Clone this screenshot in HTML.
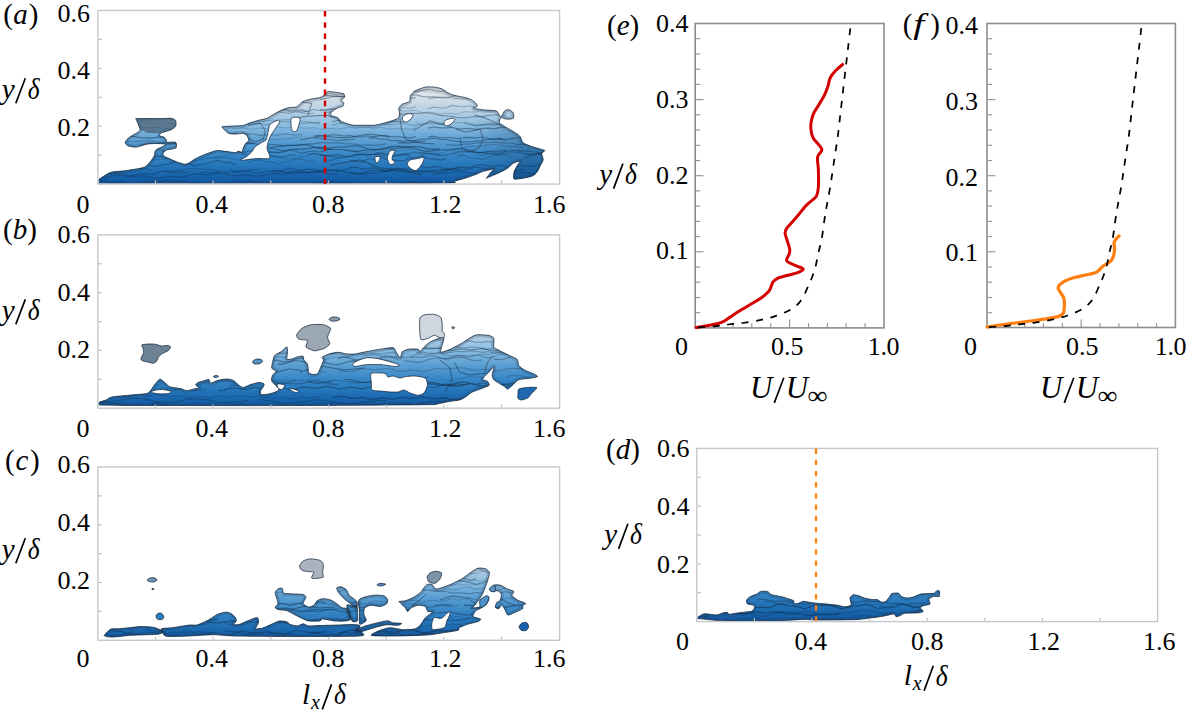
<!DOCTYPE html>
<html><head><meta charset="utf-8">
<style>
html,body{margin:0;padding:0;background:#fff;}
svg{display:block;}
text{font-family:"Liberation Serif",serif;fill:#000;}
.n{font-size:26px;}
.i{font-style:italic;}
.lab{font-size:29px;font-style:italic;}
.ax{fill:none;stroke:#c6c7cd;stroke-width:1.4;}
.ax2{fill:none;stroke:#8c8c8c;stroke-width:1.6;}
.tk{stroke:#bdbdbd;stroke-width:1.2;}
.tk2{stroke:#959595;stroke-width:1.15;}
</style></head>
<body>
<svg width="1187" height="717" viewBox="0 0 1187 717">
<defs>
<linearGradient id="gDR" gradientUnits="userSpaceOnUse" x1="475" y1="0" x2="530" y2="0"><stop offset="0" stop-color="#123e6a" stop-opacity="0"/><stop offset="1" stop-color="#123e6a" stop-opacity="0.3"/></linearGradient>
<linearGradient id="gA" gradientUnits="userSpaceOnUse" x1="0" y1="184.0" x2="0" y2="82.7"><stop offset="0.000" stop-color="#0f55a0"/><stop offset="0.086" stop-color="#1864ac"/><stop offset="0.171" stop-color="#2474b9"/><stop offset="0.286" stop-color="#3686c6"/><stop offset="0.429" stop-color="#5c9fd2"/><stop offset="0.571" stop-color="#88bbe0"/><stop offset="0.714" stop-color="#b5cfe4"/><stop offset="0.857" stop-color="#d6dfe8"/><stop offset="1.000" stop-color="#e8ebef"/></linearGradient>
<linearGradient id="gB" gradientUnits="userSpaceOnUse" x1="0" y1="408.2" x2="0" y2="306.9"><stop offset="0.000" stop-color="#0f55a0"/><stop offset="0.086" stop-color="#1864ac"/><stop offset="0.171" stop-color="#2474b9"/><stop offset="0.286" stop-color="#3686c6"/><stop offset="0.429" stop-color="#5c9fd2"/><stop offset="0.571" stop-color="#88bbe0"/><stop offset="0.714" stop-color="#b5cfe4"/><stop offset="0.857" stop-color="#d6dfe8"/><stop offset="1.000" stop-color="#e8ebef"/></linearGradient>
<linearGradient id="gC" gradientUnits="userSpaceOnUse" x1="0" y1="640.3" x2="0" y2="539.0"><stop offset="0.000" stop-color="#0f55a0"/><stop offset="0.086" stop-color="#1864ac"/><stop offset="0.171" stop-color="#2474b9"/><stop offset="0.286" stop-color="#3686c6"/><stop offset="0.429" stop-color="#5c9fd2"/><stop offset="0.571" stop-color="#88bbe0"/><stop offset="0.714" stop-color="#b5cfe4"/><stop offset="0.857" stop-color="#d6dfe8"/><stop offset="1.000" stop-color="#e8ebef"/></linearGradient>
<linearGradient id="gD" gradientUnits="userSpaceOnUse" x1="0" y1="621.6" x2="0" y2="520.3"><stop offset="0.000" stop-color="#0f55a0"/><stop offset="0.086" stop-color="#1864ac"/><stop offset="0.171" stop-color="#2474b9"/><stop offset="0.286" stop-color="#3686c6"/><stop offset="0.429" stop-color="#5c9fd2"/><stop offset="0.571" stop-color="#88bbe0"/><stop offset="0.714" stop-color="#b5cfe4"/><stop offset="0.857" stop-color="#d6dfe8"/><stop offset="1.000" stop-color="#e8ebef"/></linearGradient>
</defs>
<!-- BLOBS_A -->
<clipPath id="cA"><rect x="98.6" y="11.3" width="460" height="172.2"/></clipPath>
<clipPath id="cB"><rect x="98.6" y="235.7" width="460" height="172"/></clipPath>
<clipPath id="cC"><rect x="98.6" y="467.8" width="460" height="172"/></clipPath>
<clipPath id="cD"><rect x="697.6" y="449.2" width="459.2" height="171.8"/></clipPath>
<g clip-path="url(#cA)">
<path d="M98.0,183.6 C86.1,183.2 96.6,181.5 98.0,180.2 C99.4,178.9 107.3,173.6 110.4,172.5 C113.5,171.4 120.9,171.3 124.6,170.8 C128.3,170.3 139.6,168.6 142.4,167.8 C145.2,167.0 146.9,165.6 148.3,164.2 C149.7,162.8 153.4,157.6 154.2,156.0 C155.0,154.4 154.8,151.5 155.4,150.6 C156.0,149.7 158.0,148.7 159.0,148.2 C160.0,147.7 163.0,146.4 163.7,145.9 C164.4,145.4 165.7,144.4 164.9,144.1 C164.1,143.8 158.7,143.5 156.6,143.5 C154.5,143.5 149.4,143.7 147.1,144.1 C144.8,144.5 138.7,146.9 136.5,147.1 C134.3,147.3 129.5,146.4 128.2,145.9 C126.9,145.4 125.3,143.7 125.2,142.9 C125.1,142.1 126.2,140.2 127.0,139.4 C127.8,138.6 130.3,136.7 131.7,135.8 C133.1,134.9 137.8,132.5 138.8,131.7 C139.8,130.9 140.3,130.1 140.0,128.7 C139.7,127.3 136.8,121.0 136.5,119.8 C136.2,118.6 134.2,118.7 137.1,118.6 C140.0,118.5 157.5,118.6 161.4,118.6 C165.3,118.6 169.1,118.1 170.8,118.3 C172.5,118.5 175.0,119.5 175.6,120.4 C176.2,121.3 176.2,125.2 175.6,126.3 C175.0,127.4 172.5,129.1 170.8,129.9 C169.1,130.7 162.7,132.1 161.4,132.8 C160.1,133.5 159.3,135.3 159.6,135.8 C159.9,136.3 162.9,136.6 163.7,137.0 C164.5,137.4 165.7,138.8 166.1,139.4 C166.5,140.0 166.2,142.0 167.3,142.3 C168.4,142.6 174.6,141.5 175.6,142.2 C176.6,142.9 176.8,147.1 175.8,148.0 C174.8,148.9 168.4,149.3 167.0,149.8 C165.6,150.3 163.9,152.0 163.5,152.7 C163.1,153.4 162.7,154.8 163.3,155.5 C163.9,156.2 166.9,157.6 168.5,158.3 C170.1,159.0 174.9,161.2 176.8,161.9 C178.7,162.6 183.5,164.1 185.0,164.2 C186.5,164.3 188.6,163.2 189.8,162.5 C191.0,161.8 193.7,159.6 195.6,158.6 C197.5,157.6 203.7,154.8 206.2,153.9 C208.7,153.0 214.6,150.9 216.8,150.6 C219.0,150.3 222.5,151.1 224.7,151.3 C226.9,151.5 233.7,152.6 235.3,152.6 C236.9,152.6 237.2,151.4 238.0,151.3 C238.8,151.2 241.4,152.4 242.0,152.0 C242.6,151.6 242.9,148.9 243.3,148.0 C243.7,147.1 244.7,144.9 245.3,144.0 C245.9,143.1 248.4,141.6 248.6,140.7 C248.8,139.8 247.9,137.0 247.3,136.1 C246.7,135.2 244.7,133.6 243.3,133.4 C241.9,133.2 237.0,134.1 235.3,134.1 C233.6,134.1 229.9,133.9 228.7,133.4 C227.5,132.9 225.5,130.9 224.7,130.1 C223.9,129.3 221.3,127.3 222.1,126.8 C222.9,126.3 228.9,126.3 231.4,126.1 C233.9,125.9 241.1,125.9 243.3,125.5 C245.5,125.1 248.0,123.4 249.9,122.8 C251.8,122.2 257.2,120.7 259.2,120.2 C261.2,119.7 265.2,119.0 267.1,118.2 C269.0,117.4 273.2,114.5 275.1,113.5 C277.0,112.5 281.4,110.3 283.0,109.6 C284.6,108.9 287.6,107.9 289.2,107.6 C290.8,107.3 295.3,107.5 296.9,106.8 C298.5,106.1 301.4,102.4 303.0,101.5 C304.6,100.6 308.7,99.7 310.7,99.2 C312.7,98.7 318.2,98.1 319.9,97.6 C321.6,97.1 324.3,95.3 325.2,94.6 C326.1,93.9 326.3,91.8 327.5,91.5 C328.7,91.2 333.3,92.0 335.2,92.3 C337.1,92.6 342.6,93.2 343.7,93.8 C344.8,94.4 344.7,96.9 344.4,97.6 C344.1,98.3 341.4,99.3 341.3,99.9 C341.2,100.5 343.5,102.3 343.7,103.0 C343.9,103.7 343.7,105.5 342.9,106.1 C342.1,106.7 338.1,107.6 336.7,108.4 C335.3,109.2 331.1,112.1 330.6,113.0 C330.1,113.9 331.3,115.5 332.1,116.0 C332.9,116.5 336.4,117.0 337.5,117.6 C338.6,118.2 340.1,120.7 341.3,121.4 C342.5,122.1 346.1,123.3 347.5,123.7 C348.9,124.1 351.5,125.0 353.6,125.2 C355.7,125.4 363.4,125.2 365.9,125.2 C368.4,125.2 372.5,125.5 375.0,125.2 C377.5,124.9 384.6,123.0 387.3,122.2 C390.0,121.4 396.6,119.4 398.0,118.3 C399.4,117.2 399.4,114.2 399.5,113.0 C399.6,111.8 398.5,109.4 398.8,108.4 C399.1,107.4 400.6,105.3 401.8,104.5 C403.0,103.7 408.5,102.5 409.5,101.5 C410.5,100.5 409.8,97.3 410.3,96.1 C410.8,94.9 412.9,92.4 414.1,91.5 C415.3,90.6 419.5,88.9 421.0,88.4 C422.5,87.9 425.3,87.0 427.1,86.9 C428.9,86.8 434.5,87.1 436.3,87.4 C438.1,87.7 441.2,88.6 442.5,89.2 C443.8,89.8 446.0,91.7 447.1,92.3 C448.2,92.9 450.5,94.2 451.7,94.6 C452.9,95.0 456.2,95.8 457.8,96.1 C459.4,96.4 463.9,97.2 465.5,97.6 C467.1,98.0 470.4,99.3 471.6,99.9 C472.8,100.5 475.0,102.3 475.7,103.0 C476.4,103.7 477.5,105.5 477.3,106.1 C477.1,106.7 473.5,108.0 474.2,108.4 C474.9,108.8 480.9,109.6 483.4,109.9 C485.9,110.2 494.0,110.3 495.7,110.7 C497.4,111.1 497.4,112.3 498.0,113.0 C498.6,113.7 500.2,117.1 501.0,116.8 C501.8,116.5 503.9,111.5 504.9,110.7 C505.9,109.9 508.5,109.6 509.5,109.9 C510.5,110.2 512.9,112.0 513.3,113.0 C513.7,114.0 514.1,117.6 513.3,118.3 C512.5,119.0 507.8,119.2 506.4,119.1 C505.0,119.0 501.8,117.2 501.0,117.6 C500.2,118.0 498.9,121.7 499.5,122.9 C500.1,124.1 504.5,126.3 506.4,127.5 C508.3,128.7 514.0,131.8 515.6,132.9 C517.2,134.0 519.3,135.5 520.2,136.7 C521.1,137.9 521.9,141.7 523.3,142.9 C524.7,144.1 530.5,146.0 532.5,146.7 C534.5,147.4 538.8,148.5 540.2,149.0 C541.6,149.5 544.6,150.1 544.8,150.6 C545.0,151.1 541.9,152.5 541.7,153.6 C541.5,154.7 543.4,158.4 543.2,159.8 C543.0,161.2 540.9,164.5 540.2,165.9 C539.5,167.3 538.0,170.8 537.1,172.0 C536.2,173.2 534.1,175.2 532.5,175.9 C530.9,176.6 525.4,177.8 523.3,178.2 C521.2,178.5 515.2,179.6 514.1,178.9 C513.0,178.2 513.7,173.7 514.1,172.0 C514.5,170.3 517.2,165.6 517.9,164.4 C518.6,163.2 520.6,161.5 520.2,161.3 C519.8,161.1 515.7,161.9 514.1,162.8 C512.5,163.7 508.4,167.7 506.4,169.0 C504.4,170.3 499.3,172.6 497.2,173.6 C495.1,174.6 489.2,176.9 488.0,177.4 C486.8,177.9 486.1,178.8 486.5,178.2 C486.9,177.6 490.2,173.1 491.1,172.0 C492.0,170.9 495.0,169.1 494.1,169.0 C493.2,168.9 485.7,170.6 483.4,171.3 C481.1,172.0 476.3,174.3 474.2,175.1 C472.1,175.9 467.2,177.5 465.0,178.2 C462.8,178.9 457.4,180.4 455.0,181.0 C452.6,181.6 462.1,182.9 444.0,183.2 C425.9,183.5 328.5,183.7 300.0,183.8 C271.5,183.9 223.6,183.8 200.0,183.8 C176.4,183.8 109.9,184.0 98.0,183.6Z" fill="url(#gA)"/>
<clipPath id="cAm"><path d="M98.0,183.6 C86.1,183.2 96.6,181.5 98.0,180.2 C99.4,178.9 107.3,173.6 110.4,172.5 C113.5,171.4 120.9,171.3 124.6,170.8 C128.3,170.3 139.6,168.6 142.4,167.8 C145.2,167.0 146.9,165.6 148.3,164.2 C149.7,162.8 153.4,157.6 154.2,156.0 C155.0,154.4 154.8,151.5 155.4,150.6 C156.0,149.7 158.0,148.7 159.0,148.2 C160.0,147.7 163.0,146.4 163.7,145.9 C164.4,145.4 165.7,144.4 164.9,144.1 C164.1,143.8 158.7,143.5 156.6,143.5 C154.5,143.5 149.4,143.7 147.1,144.1 C144.8,144.5 138.7,146.9 136.5,147.1 C134.3,147.3 129.5,146.4 128.2,145.9 C126.9,145.4 125.3,143.7 125.2,142.9 C125.1,142.1 126.2,140.2 127.0,139.4 C127.8,138.6 130.3,136.7 131.7,135.8 C133.1,134.9 137.8,132.5 138.8,131.7 C139.8,130.9 140.3,130.1 140.0,128.7 C139.7,127.3 136.8,121.0 136.5,119.8 C136.2,118.6 134.2,118.7 137.1,118.6 C140.0,118.5 157.5,118.6 161.4,118.6 C165.3,118.6 169.1,118.1 170.8,118.3 C172.5,118.5 175.0,119.5 175.6,120.4 C176.2,121.3 176.2,125.2 175.6,126.3 C175.0,127.4 172.5,129.1 170.8,129.9 C169.1,130.7 162.7,132.1 161.4,132.8 C160.1,133.5 159.3,135.3 159.6,135.8 C159.9,136.3 162.9,136.6 163.7,137.0 C164.5,137.4 165.7,138.8 166.1,139.4 C166.5,140.0 166.2,142.0 167.3,142.3 C168.4,142.6 174.6,141.5 175.6,142.2 C176.6,142.9 176.8,147.1 175.8,148.0 C174.8,148.9 168.4,149.3 167.0,149.8 C165.6,150.3 163.9,152.0 163.5,152.7 C163.1,153.4 162.7,154.8 163.3,155.5 C163.9,156.2 166.9,157.6 168.5,158.3 C170.1,159.0 174.9,161.2 176.8,161.9 C178.7,162.6 183.5,164.1 185.0,164.2 C186.5,164.3 188.6,163.2 189.8,162.5 C191.0,161.8 193.7,159.6 195.6,158.6 C197.5,157.6 203.7,154.8 206.2,153.9 C208.7,153.0 214.6,150.9 216.8,150.6 C219.0,150.3 222.5,151.1 224.7,151.3 C226.9,151.5 233.7,152.6 235.3,152.6 C236.9,152.6 237.2,151.4 238.0,151.3 C238.8,151.2 241.4,152.4 242.0,152.0 C242.6,151.6 242.9,148.9 243.3,148.0 C243.7,147.1 244.7,144.9 245.3,144.0 C245.9,143.1 248.4,141.6 248.6,140.7 C248.8,139.8 247.9,137.0 247.3,136.1 C246.7,135.2 244.7,133.6 243.3,133.4 C241.9,133.2 237.0,134.1 235.3,134.1 C233.6,134.1 229.9,133.9 228.7,133.4 C227.5,132.9 225.5,130.9 224.7,130.1 C223.9,129.3 221.3,127.3 222.1,126.8 C222.9,126.3 228.9,126.3 231.4,126.1 C233.9,125.9 241.1,125.9 243.3,125.5 C245.5,125.1 248.0,123.4 249.9,122.8 C251.8,122.2 257.2,120.7 259.2,120.2 C261.2,119.7 265.2,119.0 267.1,118.2 C269.0,117.4 273.2,114.5 275.1,113.5 C277.0,112.5 281.4,110.3 283.0,109.6 C284.6,108.9 287.6,107.9 289.2,107.6 C290.8,107.3 295.3,107.5 296.9,106.8 C298.5,106.1 301.4,102.4 303.0,101.5 C304.6,100.6 308.7,99.7 310.7,99.2 C312.7,98.7 318.2,98.1 319.9,97.6 C321.6,97.1 324.3,95.3 325.2,94.6 C326.1,93.9 326.3,91.8 327.5,91.5 C328.7,91.2 333.3,92.0 335.2,92.3 C337.1,92.6 342.6,93.2 343.7,93.8 C344.8,94.4 344.7,96.9 344.4,97.6 C344.1,98.3 341.4,99.3 341.3,99.9 C341.2,100.5 343.5,102.3 343.7,103.0 C343.9,103.7 343.7,105.5 342.9,106.1 C342.1,106.7 338.1,107.6 336.7,108.4 C335.3,109.2 331.1,112.1 330.6,113.0 C330.1,113.9 331.3,115.5 332.1,116.0 C332.9,116.5 336.4,117.0 337.5,117.6 C338.6,118.2 340.1,120.7 341.3,121.4 C342.5,122.1 346.1,123.3 347.5,123.7 C348.9,124.1 351.5,125.0 353.6,125.2 C355.7,125.4 363.4,125.2 365.9,125.2 C368.4,125.2 372.5,125.5 375.0,125.2 C377.5,124.9 384.6,123.0 387.3,122.2 C390.0,121.4 396.6,119.4 398.0,118.3 C399.4,117.2 399.4,114.2 399.5,113.0 C399.6,111.8 398.5,109.4 398.8,108.4 C399.1,107.4 400.6,105.3 401.8,104.5 C403.0,103.7 408.5,102.5 409.5,101.5 C410.5,100.5 409.8,97.3 410.3,96.1 C410.8,94.9 412.9,92.4 414.1,91.5 C415.3,90.6 419.5,88.9 421.0,88.4 C422.5,87.9 425.3,87.0 427.1,86.9 C428.9,86.8 434.5,87.1 436.3,87.4 C438.1,87.7 441.2,88.6 442.5,89.2 C443.8,89.8 446.0,91.7 447.1,92.3 C448.2,92.9 450.5,94.2 451.7,94.6 C452.9,95.0 456.2,95.8 457.8,96.1 C459.4,96.4 463.9,97.2 465.5,97.6 C467.1,98.0 470.4,99.3 471.6,99.9 C472.8,100.5 475.0,102.3 475.7,103.0 C476.4,103.7 477.5,105.5 477.3,106.1 C477.1,106.7 473.5,108.0 474.2,108.4 C474.9,108.8 480.9,109.6 483.4,109.9 C485.9,110.2 494.0,110.3 495.7,110.7 C497.4,111.1 497.4,112.3 498.0,113.0 C498.6,113.7 500.2,117.1 501.0,116.8 C501.8,116.5 503.9,111.5 504.9,110.7 C505.9,109.9 508.5,109.6 509.5,109.9 C510.5,110.2 512.9,112.0 513.3,113.0 C513.7,114.0 514.1,117.6 513.3,118.3 C512.5,119.0 507.8,119.2 506.4,119.1 C505.0,119.0 501.8,117.2 501.0,117.6 C500.2,118.0 498.9,121.7 499.5,122.9 C500.1,124.1 504.5,126.3 506.4,127.5 C508.3,128.7 514.0,131.8 515.6,132.9 C517.2,134.0 519.3,135.5 520.2,136.7 C521.1,137.9 521.9,141.7 523.3,142.9 C524.7,144.1 530.5,146.0 532.5,146.7 C534.5,147.4 538.8,148.5 540.2,149.0 C541.6,149.5 544.6,150.1 544.8,150.6 C545.0,151.1 541.9,152.5 541.7,153.6 C541.5,154.7 543.4,158.4 543.2,159.8 C543.0,161.2 540.9,164.5 540.2,165.9 C539.5,167.3 538.0,170.8 537.1,172.0 C536.2,173.2 534.1,175.2 532.5,175.9 C530.9,176.6 525.4,177.8 523.3,178.2 C521.2,178.5 515.2,179.6 514.1,178.9 C513.0,178.2 513.7,173.7 514.1,172.0 C514.5,170.3 517.2,165.6 517.9,164.4 C518.6,163.2 520.6,161.5 520.2,161.3 C519.8,161.1 515.7,161.9 514.1,162.8 C512.5,163.7 508.4,167.7 506.4,169.0 C504.4,170.3 499.3,172.6 497.2,173.6 C495.1,174.6 489.2,176.9 488.0,177.4 C486.8,177.9 486.1,178.8 486.5,178.2 C486.9,177.6 490.2,173.1 491.1,172.0 C492.0,170.9 495.0,169.1 494.1,169.0 C493.2,168.9 485.7,170.6 483.4,171.3 C481.1,172.0 476.3,174.3 474.2,175.1 C472.1,175.9 467.2,177.5 465.0,178.2 C462.8,178.9 457.4,180.4 455.0,181.0 C452.6,181.6 462.1,182.9 444.0,183.2 C425.9,183.5 328.5,183.7 300.0,183.8 C271.5,183.9 223.6,183.8 200.0,183.8 C176.4,183.8 109.9,184.0 98.0,183.6Z"/></clipPath>
<g clip-path="url(#cAm)">
<path d="M98.0,85.4 L104.0,86.0 L110.0,85.5 L116.0,84.2 L122.0,84.5" fill="none" stroke="#0b2640" stroke-width="0.98" stroke-opacity="0.38"/>
<path d="M134.0,86.4 L140.0,86.0 L146.0,86.7 L152.0,87.9 L158.0,87.5" fill="none" stroke="#0b2640" stroke-width="1.03" stroke-opacity="0.29"/>
<path d="M170.0,85.9 L176.0,86.6 L182.0,86.2 L188.0,85.5 L194.0,86.5 L200.0,88.1" fill="none" stroke="#0b2640" stroke-width="0.70" stroke-opacity="0.49"/>
<path d="M212.0,87.6 L218.0,88.1 L224.0,88.7 L230.0,87.8 L236.0,86.4 L242.0,86.8 L248.0,87.8 L254.0,87.8" fill="none" stroke="#0b2640" stroke-width="1.19" stroke-opacity="0.44"/>
<path d="M266.0,88.7 L272.0,90.1 L278.0,89.6 L284.0,88.5 L290.0,88.7 L296.0,89.1 L302.0,88.1 L308.0,87.4 L314.0,88.4 L320.0,89.8 L326.0,89.7 L332.0,89.5 L338.0,90.5 L344.0,91.2 L350.0,90.1 L356.0,88.9 L362.0,89.3 L368.0,89.9 L374.0,89.3 L380.0,89.1" fill="none" stroke="#0b2640" stroke-width="1.14" stroke-opacity="0.47"/>
<path d="M392.0,91.9 L398.0,91.4 L404.0,90.9 L410.0,91.5 L416.0,91.6 L422.0,90.3 L428.0,89.5 L434.0,90.5 L440.0,91.4 L446.0,91.1 L452.0,91.3 L458.0,92.7 L464.0,93.4 L470.0,92.3" fill="none" stroke="#0b2640" stroke-width="1.01" stroke-opacity="0.45"/>
<path d="M482.0,92.0 L488.0,92.0 L494.0,91.0 L500.0,90.9 L506.0,92.5 L512.0,93.5 L518.0,93.0 L524.0,93.1 L530.0,94.1 L536.0,94.1 L542.0,92.6 L548.0,92.0 L554.0,92.8 L560.0,93.1" fill="none" stroke="#0b2640" stroke-width="0.96" stroke-opacity="0.38"/>
<path d="M98.0,88.6 L104.0,89.3 L110.0,87.8 L116.0,87.0" fill="none" stroke="#0b2640" stroke-width="1.28" stroke-opacity="0.47"/>
<path d="M128.0,87.5 L134.0,87.3 L140.0,89.1 L146.0,88.8 L152.0,88.2 L158.0,89.4 L164.0,88.5 L170.0,87.1 L176.0,87.8 L182.0,87.2 L188.0,86.1" fill="none" stroke="#0b2640" stroke-width="1.01" stroke-opacity="0.42"/>
<path d="M200.0,87.9 L206.0,87.2 L212.0,88.6 L218.0,88.8 L224.0,87.3 L230.0,87.8 L236.0,87.6 L242.0,85.8 L248.0,86.4 L254.0,86.9 L260.0,85.9 L266.0,87.0 L272.0,88.1 L278.0,87.1 L284.0,87.6" fill="none" stroke="#0b2640" stroke-width="0.91" stroke-opacity="0.32"/>
<path d="M296.0,86.3 L302.0,86.1 L308.0,86.6 L314.0,85.2 L320.0,85.5 L326.0,86.9 L332.0,86.2 L338.0,86.5 L344.0,87.9" fill="none" stroke="#0b2640" stroke-width="1.10" stroke-opacity="0.27"/>
<path d="M356.0,86.1 L362.0,86.8 L368.0,85.4 L374.0,84.6 L380.0,85.8 L386.0,85.2 L392.0,85.0 L398.0,86.7 L404.0,86.5 L410.0,85.8 L416.0,86.9 L422.0,86.1 L428.0,84.6 L434.0,85.3 L440.0,84.8 L446.0,83.8 L452.0,85.2" fill="none" stroke="#0b2640" stroke-width="0.82" stroke-opacity="0.34"/>
<path d="M464.0,84.9 L470.0,86.2 L476.0,86.4 L482.0,84.9 L488.0,85.4 L494.0,85.1 L500.0,83.4 L506.0,84.0 L512.0,84.6 L518.0,83.6" fill="none" stroke="#0b2640" stroke-width="1.10" stroke-opacity="0.24"/>
<path d="M530.0,85.8 L536.0,84.7 L542.0,85.2 L548.0,85.6 L554.0,83.9 L560.0,83.6" fill="none" stroke="#0b2640" stroke-width="1.00" stroke-opacity="0.30"/>
<path d="M98.0,92.4 L104.0,92.2 L110.0,91.7 L116.0,91.9 L122.0,92.9 L128.0,93.8 L134.0,93.9 L140.0,93.3 L146.0,92.9 L152.0,93.0 L158.0,93.3 L164.0,93.1 L170.0,92.9 L176.0,93.2 L182.0,94.2 L188.0,94.9 L194.0,94.8 L200.0,94.1 L206.0,93.7 L212.0,93.9 L218.0,94.2 L224.0,94.2 L230.0,94.1 L236.0,94.5 L242.0,95.4 L248.0,96.0 L254.0,95.7 L260.0,94.8 L266.0,94.5" fill="none" stroke="#0b2640" stroke-width="0.74" stroke-opacity="0.30"/>
<path d="M278.0,95.3 L284.0,95.4 L290.0,95.3 L296.0,95.7 L302.0,96.6 L308.0,96.9 L314.0,96.4 L320.0,95.6 L326.0,95.3 L332.0,95.8 L338.0,96.4 L344.0,96.6 L350.0,96.5 L356.0,96.9 L362.0,97.6 L368.0,97.8 L374.0,97.2 L380.0,96.3 L386.0,96.3" fill="none" stroke="#0b2640" stroke-width="1.28" stroke-opacity="0.48"/>
<path d="M398.0,97.6 L404.0,97.8 L410.0,97.7 L416.0,98.0" fill="none" stroke="#0b2640" stroke-width="0.77" stroke-opacity="0.50"/>
<path d="M428.0,98.6 L434.0,97.9 L440.0,97.2 L446.0,97.3 L452.0,98.2 L458.0,98.9 L464.0,99.0 L470.0,98.8 L476.0,99.0 L482.0,99.4 L488.0,99.4 L494.0,98.7 L500.0,98.1 L506.0,98.4 L512.0,99.4 L518.0,100.1 L524.0,100.1" fill="none" stroke="#0b2640" stroke-width="1.07" stroke-opacity="0.27"/>
<path d="M536.0,99.9 L542.0,100.3 L548.0,100.1 L554.0,99.5 L560.0,99.1" fill="none" stroke="#0b2640" stroke-width="1.03" stroke-opacity="0.50"/>
<path d="M98.0,96.7 L104.0,95.8 L110.0,95.8 L116.0,95.5 L122.0,97.2 L128.0,97.0 L134.0,98.5 L140.0,97.2 L146.0,97.2 L152.0,95.7 L158.0,95.0 L164.0,95.1 L170.0,95.0 L176.0,96.8 L182.0,96.4 L188.0,97.8 L194.0,96.3" fill="none" stroke="#0b2640" stroke-width="0.94" stroke-opacity="0.45"/>
<path d="M206.0,94.7 L212.0,94.2 L218.0,94.5 L224.0,94.5 L230.0,96.3 L236.0,95.9 L242.0,97.1 L248.0,95.4 L254.0,95.3 L260.0,93.8 L266.0,93.5 L272.0,93.9 L278.0,94.1 L284.0,95.8 L290.0,95.3 L296.0,96.3 L302.0,94.4 L308.0,94.3 L314.0,92.9 L320.0,92.9 L326.0,93.4 L332.0,93.7 L338.0,95.3 L344.0,94.6 L350.0,95.4 L356.0,93.5 L362.0,93.4" fill="none" stroke="#0b2640" stroke-width="1.07" stroke-opacity="0.33"/>
<path d="M374.0,92.3 L380.0,92.8 L386.0,93.3 L392.0,94.8 L398.0,93.9 L404.0,94.6 L410.0,92.5 L416.0,92.5 L422.0,91.2 L428.0,91.7 L434.0,92.3 L440.0,92.9 L446.0,94.2 L452.0,93.2 L458.0,93.6 L464.0,91.5 L470.0,91.6 L476.0,90.4 L482.0,91.2 L488.0,91.9 L494.0,92.4 L500.0,93.5 L506.0,92.4" fill="none" stroke="#0b2640" stroke-width="0.70" stroke-opacity="0.28"/>
<path d="M518.0,90.5 L524.0,90.8 L530.0,89.7 L536.0,90.7 L542.0,91.4 L548.0,91.9 L554.0,92.8 L560.0,91.5" fill="none" stroke="#0b2640" stroke-width="1.00" stroke-opacity="0.37"/>
<path d="M98.0,101.4 L104.0,101.5 L110.0,102.8 L116.0,103.5 L122.0,102.5 L128.0,101.7" fill="none" stroke="#0b2640" stroke-width="1.11" stroke-opacity="0.28"/>
<path d="M140.0,100.1 L146.0,98.9 L152.0,99.4 L158.0,100.0 L164.0,99.9 L170.0,100.9 L176.0,102.3 L182.0,101.9 L188.0,101.1 L194.0,101.1 L200.0,100.1 L206.0,98.4 L212.0,98.1 L218.0,98.7 L224.0,98.5 L230.0,99.0 L236.0,100.6 L242.0,101.0 L248.0,100.3 L254.0,100.4 L260.0,100.0 L266.0,98.2" fill="none" stroke="#0b2640" stroke-width="1.19" stroke-opacity="0.44"/>
<path d="M278.0,97.6 L284.0,97.3 L290.0,97.2 L296.0,98.6 L302.0,99.7 L308.0,99.4" fill="none" stroke="#0b2640" stroke-width="1.03" stroke-opacity="0.50"/>
<path d="M320.0,99.7 L326.0,98.3 L332.0,96.7 L338.0,96.6 L344.0,96.4 L350.0,95.8 L356.0,96.6 L362.0,98.1 L368.0,98.3 L374.0,98.3 L380.0,98.9 L386.0,98.2 L392.0,96.5 L398.0,95.9 L404.0,95.7 L410.0,94.7 L416.0,94.8 L422.0,96.3 L428.0,96.9 L434.0,96.9 L440.0,97.7 L446.0,97.9 L452.0,96.4 L458.0,95.4 L464.0,95.2 L470.0,94.1 L476.0,93.4 L482.0,94.4 L488.0,95.4" fill="none" stroke="#0b2640" stroke-width="1.21" stroke-opacity="0.35"/>
<path d="M500.0,96.2 L506.0,97.1 L512.0,96.2 L518.0,94.9 L524.0,94.7 L530.0,93.8 L536.0,92.4 L542.0,92.7 L548.0,93.8 L554.0,93.9 L560.0,94.4" fill="none" stroke="#0b2640" stroke-width="1.04" stroke-opacity="0.44"/>
<path d="M98.0,104.9 L104.0,104.3 L110.0,104.7 L116.0,104.7 L122.0,104.6 L128.0,105.8 L134.0,107.2 L140.0,107.7 L146.0,108.1" fill="none" stroke="#0b2640" stroke-width="0.94" stroke-opacity="0.41"/>
<path d="M158.0,109.2 L164.0,108.2 L170.0,107.6 L176.0,107.6 L182.0,106.8 L188.0,106.1 L194.0,106.7 L200.0,107.6 L206.0,108.0 L212.0,108.7" fill="none" stroke="#0b2640" stroke-width="1.06" stroke-opacity="0.41"/>
<path d="M224.0,111.0 L230.0,110.7 L236.0,110.8 L242.0,111.0 L248.0,110.0 L254.0,108.9 L260.0,108.9 L266.0,109.0 L272.0,108.7 L278.0,109.1 L284.0,110.6 L290.0,111.6 L296.0,111.9 L302.0,112.8 L308.0,113.6 L314.0,113.2" fill="none" stroke="#0b2640" stroke-width="0.82" stroke-opacity="0.27"/>
<path d="M326.0,112.2 L332.0,111.8 L338.0,110.7 L344.0,110.5 L350.0,111.4 L356.0,111.9 L362.0,112.2 L368.0,113.5 L374.0,114.9 L380.0,115.1 L386.0,115.0 L392.0,115.4 L398.0,115.1 L404.0,113.9 L410.0,113.3 L416.0,113.4 L422.0,113.1 L428.0,112.9 L434.0,113.9 L440.0,115.3 L446.0,115.8 L452.0,116.4 L458.0,117.6 L464.0,117.9 L470.0,117.1 L476.0,116.7 L482.0,116.6 L488.0,115.7 L494.0,114.8 L500.0,115.2 L506.0,115.9" fill="none" stroke="#0b2640" stroke-width="0.86" stroke-opacity="0.47"/>
<path d="M518.0,116.8 L524.0,118.4 L530.0,119.2 L536.0,119.2 L542.0,119.6" fill="none" stroke="#0b2640" stroke-width="1.20" stroke-opacity="0.23"/>
<path d="M554.0,119.0 L560.0,117.9" fill="none" stroke="#0b2640" stroke-width="0.92" stroke-opacity="0.36"/>
<path d="M98.0,109.3 L104.0,111.0 L110.0,110.0 L116.0,111.7 L122.0,112.1 L128.0,110.6 L134.0,111.7 L140.0,110.7 L146.0,109.0 L152.0,110.1" fill="none" stroke="#0b2640" stroke-width="0.79" stroke-opacity="0.43"/>
<path d="M164.0,108.3 L170.0,110.1 L176.0,109.1 L182.0,110.2 L188.0,112.0 L194.0,110.9 L200.0,112.2 L206.0,112.8 L212.0,110.9 L218.0,111.9 L224.0,111.0 L230.0,109.2 L236.0,110.4 L242.0,109.3 L248.0,108.8 L254.0,110.9 L260.0,110.1 L266.0,111.0 L272.0,112.9 L278.0,111.7 L284.0,112.7 L290.0,113.3 L296.0,111.2 L302.0,112.0 L308.0,111.3 L314.0,109.4 L320.0,110.7 L326.0,109.9 L332.0,109.5 L338.0,111.7" fill="none" stroke="#0b2640" stroke-width="0.71" stroke-opacity="0.48"/>
<path d="M350.0,111.8 L356.0,113.7 L362.0,112.5" fill="none" stroke="#0b2640" stroke-width="1.10" stroke-opacity="0.25"/>
<path d="M374.0,113.7 L380.0,111.5 L386.0,112.0 L392.0,111.6 L398.0,109.7 L404.0,111.1 L410.0,110.7 L416.0,110.2 L422.0,112.6 L428.0,112.2 L434.0,112.6 L440.0,114.5 L446.0,113.1 L452.0,113.4 L458.0,114.0 L464.0,111.7 L470.0,112.1 L476.0,111.9 L482.0,110.1 L488.0,111.6 L494.0,111.5 L500.0,111.0 L506.0,113.4" fill="none" stroke="#0b2640" stroke-width="0.93" stroke-opacity="0.23"/>
<path d="M518.0,113.3 L524.0,115.2 L530.0,113.7 L536.0,113.6 L542.0,114.3 L548.0,111.9 L554.0,112.2 L560.0,112.3" fill="none" stroke="#0b2640" stroke-width="0.98" stroke-opacity="0.25"/>
<path d="M98.0,114.8 L104.0,116.3 L110.0,114.5 L116.0,113.4 L122.0,114.9 L128.0,113.5 L134.0,114.2 L140.0,115.7 L146.0,113.6 L152.0,113.8 L158.0,113.9 L164.0,111.8 L170.0,113.6 L176.0,114.0 L182.0,112.7 L188.0,114.3 L194.0,112.9 L200.0,111.3 L206.0,112.9 L212.0,111.8 L218.0,112.0 L224.0,113.9 L230.0,111.8 L236.0,111.7 L242.0,112.1 L248.0,110.0 L254.0,111.4 L260.0,112.3 L266.0,110.8 L272.0,112.2 L278.0,111.2 L284.0,109.2 L290.0,110.9 L296.0,110.1 L302.0,109.9 L308.0,111.9" fill="none" stroke="#0b2640" stroke-width="1.24" stroke-opacity="0.37"/>
<path d="M320.0,109.5 L326.0,110.3 L332.0,108.2 L338.0,109.2 L344.0,110.5" fill="none" stroke="#0b2640" stroke-width="0.87" stroke-opacity="0.45"/>
<path d="M356.0,110.1 L362.0,109.6 L368.0,107.3 L374.0,108.8 L380.0,108.4 L386.0,107.8" fill="none" stroke="#0b2640" stroke-width="0.92" stroke-opacity="0.26"/>
<path d="M398.0,108.5 L404.0,107.4 L410.0,108.4 L416.0,106.4" fill="none" stroke="#0b2640" stroke-width="0.76" stroke-opacity="0.36"/>
<path d="M428.0,108.7 L434.0,107.1 L440.0,107.9 L446.0,107.9 L452.0,105.4 L458.0,106.6 L464.0,106.7 L470.0,105.7 L476.0,107.8 L482.0,106.8 L488.0,105.3 L494.0,106.5 L500.0,104.7 L506.0,104.8 L512.0,106.8 L518.0,105.3 L524.0,105.7 L530.0,106.1 L536.0,103.5 L542.0,104.4 L548.0,104.9 L554.0,103.7 L560.0,105.7" fill="none" stroke="#0b2640" stroke-width="1.04" stroke-opacity="0.31"/>
<path d="M98.0,118.5 L104.0,117.6 L110.0,116.8 L116.0,117.9 L122.0,118.1 L128.0,118.3 L134.0,119.9 L140.0,119.9 L146.0,119.2 L152.0,119.7 L158.0,118.7 L164.0,117.8 L170.0,118.7 L176.0,118.5 L182.0,118.7 L188.0,120.5 L194.0,120.5 L200.0,120.2 L206.0,120.9 L212.0,119.8 L218.0,118.9 L224.0,119.6 L230.0,119.0 L236.0,119.2 L242.0,120.9 L248.0,121.0 L254.0,121.1 L260.0,122.0 L266.0,121.0 L272.0,120.1 L278.0,120.6 L284.0,119.7 L290.0,119.8 L296.0,121.3 L302.0,121.3 L308.0,121.8 L314.0,123.0 L320.0,122.0" fill="none" stroke="#0b2640" stroke-width="0.72" stroke-opacity="0.38"/>
<path d="M332.0,121.7 L338.0,120.5 L344.0,120.5 L350.0,121.8 L356.0,121.6 L362.0,122.4 L368.0,123.7 L374.0,123.0 L380.0,122.7 L386.0,122.9 L392.0,121.5 L398.0,121.4 L404.0,122.3" fill="none" stroke="#0b2640" stroke-width="0.98" stroke-opacity="0.46"/>
<path d="M416.0,122.9 L422.0,124.3 L428.0,123.7 L434.0,123.8 L440.0,124.2 L446.0,122.6 L452.0,122.4 L458.0,123.0 L464.0,122.4 L470.0,123.3 L476.0,124.8 L482.0,124.4 L488.0,124.9 L494.0,125.3 L500.0,123.8 L506.0,123.6 L512.0,123.9 L518.0,123.0 L524.0,123.8 L530.0,125.1 L536.0,124.9 L542.0,125.7 L548.0,126.3 L554.0,124.9 L560.0,124.9" fill="none" stroke="#0b2640" stroke-width="0.88" stroke-opacity="0.27"/>
<path d="M98.0,124.3 L104.0,122.8 L110.0,122.5 L116.0,123.3 L122.0,123.5 L128.0,122.4 L134.0,121.0 L140.0,121.2 L146.0,122.8 L152.0,123.9 L158.0,123.5 L164.0,122.8 L170.0,123.3 L176.0,124.7 L182.0,125.0 L188.0,123.5 L194.0,122.0 L200.0,122.0 L206.0,122.9 L212.0,123.2 L218.0,122.2 L224.0,121.5 L230.0,122.5 L236.0,124.3 L242.0,125.0 L248.0,124.0 L254.0,123.2 L260.0,123.6 L266.0,124.5 L272.0,124.1 L278.0,122.4 L284.0,121.3 L290.0,122.0 L296.0,123.4 L302.0,123.7 L308.0,122.9 L314.0,122.7 L320.0,124.0" fill="none" stroke="#0b2640" stroke-width="0.77" stroke-opacity="0.41"/>
<path d="M332.0,125.2 L338.0,123.7 L344.0,122.7 L350.0,123.3 L356.0,123.9 L362.0,123.3 L368.0,121.9 L374.0,121.7 L380.0,123.1 L386.0,124.6 L392.0,124.6 L398.0,123.7 L404.0,123.7 L410.0,124.8 L416.0,125.5 L422.0,124.4 L428.0,122.7 L434.0,122.1 L440.0,123.1 L446.0,123.9 L452.0,123.3" fill="none" stroke="#0b2640" stroke-width="0.87" stroke-opacity="0.29"/>
<path d="M464.0,123.0 L470.0,124.7 L476.0,125.8 L482.0,125.1 L488.0,123.9 L494.0,123.8 L500.0,124.6 L506.0,124.7 L512.0,123.4 L518.0,122.0 L524.0,122.3 L530.0,123.8 L536.0,124.6 L542.0,124.1 L548.0,123.5 L554.0,124.3 L560.0,125.8" fill="none" stroke="#0b2640" stroke-width="1.18" stroke-opacity="0.35"/>
<path d="M98.0,129.1 L104.0,128.1 L110.0,128.9 L116.0,129.0 L122.0,127.6 L128.0,128.2 L134.0,127.9 L140.0,126.7 L146.0,127.8 L152.0,127.6 L158.0,127.2 L164.0,128.7 L170.0,128.5 L176.0,128.2 L182.0,129.4 L188.0,128.5 L194.0,128.0 L200.0,128.7 L206.0,127.4" fill="none" stroke="#0b2640" stroke-width="1.07" stroke-opacity="0.30"/>
<path d="M218.0,128.0 L224.0,127.0 L230.0,127.6 L236.0,128.7 L242.0,127.9 L248.0,128.7 L254.0,129.3 L260.0,128.1 L266.0,128.7 L272.0,128.6 L278.0,127.1 L284.0,127.9 L290.0,127.7 L296.0,126.8 L302.0,128.1 L308.0,128.1 L314.0,127.8 L320.0,129.2 L326.0,128.8 L332.0,128.3 L338.0,129.2 L344.0,128.1 L350.0,127.5 L356.0,128.3 L362.0,127.1 L368.0,127.2 L374.0,128.3 L380.0,127.5 L386.0,128.3 L392.0,129.2 L398.0,128.3 L404.0,129.0 L410.0,129.2 L416.0,127.8" fill="none" stroke="#0b2640" stroke-width="0.83" stroke-opacity="0.23"/>
<path d="M428.0,128.1 L434.0,126.8 L440.0,127.9 L446.0,127.8 L452.0,127.3 L458.0,128.8 L464.0,128.7 L470.0,128.3 L476.0,129.5 L482.0,128.7 L488.0,128.1 L494.0,128.8 L500.0,127.5 L506.0,127.2 L512.0,128.1 L518.0,127.2 L524.0,127.7 L530.0,128.8 L536.0,128.1 L542.0,128.8 L548.0,129.5" fill="none" stroke="#0b2640" stroke-width="1.29" stroke-opacity="0.41"/>
<path d="M98.0,131.5 L104.0,130.8 L110.0,132.4 L116.0,132.3 L122.0,132.5 L128.0,133.5 L134.0,132.2" fill="none" stroke="#0b2640" stroke-width="1.09" stroke-opacity="0.48"/>
<path d="M146.0,132.5 L152.0,131.6 L158.0,133.0 L164.0,133.5 L170.0,133.1 L176.0,134.2 L182.0,133.2 L188.0,132.6 L194.0,133.4 L200.0,132.6 L206.0,133.5 L212.0,134.6 L218.0,133.9 L224.0,134.7 L230.0,134.3 L236.0,133.1 L242.0,134.1 L248.0,133.8 L254.0,134.0 L260.0,135.6 L266.0,134.8 L272.0,135.0 L278.0,135.2 L284.0,133.8 L290.0,134.6 L296.0,135.0 L302.0,134.7" fill="none" stroke="#0b2640" stroke-width="1.04" stroke-opacity="0.32"/>
<path d="M314.0,135.9 L320.0,135.4 L326.0,136.0 L332.0,134.7 L338.0,135.1 L344.0,136.1 L350.0,135.6 L356.0,136.8 L362.0,137.0 L368.0,135.9 L374.0,136.6 L380.0,135.8 L386.0,135.5 L392.0,137.0 L398.0,136.6 L404.0,137.3 L410.0,138.0 L416.0,136.6" fill="none" stroke="#0b2640" stroke-width="0.98" stroke-opacity="0.47"/>
<path d="M428.0,136.9 L434.0,136.2 L440.0,137.7 L446.0,137.8 L452.0,137.8 L458.0,138.8 L464.0,137.6 L470.0,137.4 L476.0,137.9 L482.0,137.0 L488.0,138.3 L494.0,139.0 L500.0,138.4 L506.0,139.4 L512.0,138.6 L518.0,137.8 L524.0,138.7 L530.0,138.1 L536.0,138.8 L542.0,140.1 L548.0,139.2" fill="none" stroke="#0b2640" stroke-width="1.06" stroke-opacity="0.44"/>
<path d="M98.0,136.4 L104.0,135.2 L110.0,135.0 L116.0,134.6 L122.0,135.1 L128.0,135.8 L134.0,136.7 L140.0,137.6 L146.0,137.8 L152.0,138.1 L158.0,137.1 L164.0,136.9 L170.0,135.6 L176.0,135.8 L182.0,135.2 L188.0,136.5 L194.0,136.6 L200.0,138.2 L206.0,138.2 L212.0,139.0 L218.0,138.3 L224.0,138.0 L230.0,137.0 L236.0,136.5 L242.0,136.3 L248.0,136.4" fill="none" stroke="#0b2640" stroke-width="1.27" stroke-opacity="0.45"/>
<path d="M260.0,137.9 L266.0,139.2 L272.0,139.2 L278.0,139.8 L284.0,138.7 L290.0,138.7 L296.0,137.2 L302.0,137.4" fill="none" stroke="#0b2640" stroke-width="0.94" stroke-opacity="0.22"/>
<path d="M314.0,137.8 L320.0,138.1 L326.0,139.5 L332.0,139.8 L338.0,140.5 L344.0,140.1 L350.0,139.6 L356.0,138.8" fill="none" stroke="#0b2640" stroke-width="1.14" stroke-opacity="0.40"/>
<path d="M368.0,138.0 L374.0,137.8 L380.0,138.9 L386.0,139.2 L392.0,140.7 L398.0,140.6 L404.0,141.4 L410.0,140.4 L416.0,140.4 L422.0,138.9 L428.0,139.0 L434.0,138.3 L440.0,139.2 L446.0,139.6 L452.0,140.8 L458.0,141.4 L464.0,141.9 L470.0,141.8 L476.0,141.1 L482.0,140.7 L488.0,139.6 L494.0,139.6 L500.0,139.2 L506.0,140.3" fill="none" stroke="#0b2640" stroke-width="1.02" stroke-opacity="0.48"/>
<path d="M518.0,142.1 L524.0,142.1 L530.0,143.0 L536.0,142.1 L542.0,142.0 L548.0,140.7 L554.0,140.6 L560.0,140.0" fill="none" stroke="#0b2640" stroke-width="0.70" stroke-opacity="0.32"/>
<path d="M98.0,139.3 L104.0,140.6 L110.0,142.6 L116.0,143.3 L122.0,142.5 L128.0,141.7 L134.0,141.6 L140.0,141.3 L146.0,140.6 L152.0,140.9 L158.0,142.7 L164.0,144.4 L170.0,144.5 L176.0,143.5 L182.0,143.0 L188.0,142.9 L194.0,142.4 L200.0,141.9 L206.0,142.7 L212.0,144.7 L218.0,146.0 L224.0,145.6" fill="none" stroke="#0b2640" stroke-width="0.87" stroke-opacity="0.32"/>
<path d="M236.0,144.3 L242.0,144.1 L248.0,143.5 L254.0,143.3 L260.0,144.7 L266.0,146.7 L272.0,147.4 L278.0,146.6 L284.0,145.8 L290.0,145.7 L296.0,145.3 L302.0,144.6 L308.0,145.0 L314.0,146.8 L320.0,148.5 L326.0,148.6 L332.0,147.6 L338.0,147.1 L344.0,147.0 L350.0,146.4 L356.0,145.9 L362.0,146.8 L368.0,148.9 L374.0,150.1 L380.0,149.6 L386.0,148.7 L392.0,148.4 L398.0,148.2 L404.0,147.5 L410.0,147.4 L416.0,148.8 L422.0,150.8 L428.0,151.4 L434.0,150.6 L440.0,149.9 L446.0,149.8 L452.0,149.4 L458.0,148.7 L464.0,149.1 L470.0,150.9 L476.0,152.6 L482.0,152.6 L488.0,151.7 L494.0,151.2 L500.0,151.1 L506.0,150.5" fill="none" stroke="#0b2640" stroke-width="1.29" stroke-opacity="0.40"/>
<path d="M518.0,150.9 L524.0,153.0 L530.0,154.1 L536.0,153.7 L542.0,152.8 L548.0,152.5 L554.0,152.3 L560.0,151.6" fill="none" stroke="#0b2640" stroke-width="1.20" stroke-opacity="0.31"/>
<path d="M98.0,143.6 L104.0,144.2 L110.0,145.3 L116.0,145.1 L122.0,145.9 L128.0,145.8" fill="none" stroke="#0b2640" stroke-width="1.00" stroke-opacity="0.22"/>
<path d="M140.0,145.4 L146.0,144.1 L152.0,143.7 L158.0,143.6 L164.0,142.6 L170.0,143.3 L176.0,143.3 L182.0,143.6 L188.0,144.8 L194.0,144.7 L200.0,145.5 L206.0,145.8 L212.0,145.1 L218.0,145.5 L224.0,144.4 L230.0,143.8 L236.0,143.7 L242.0,142.6 L248.0,143.0 L254.0,143.1" fill="none" stroke="#0b2640" stroke-width="1.20" stroke-opacity="0.50"/>
<path d="M266.0,144.3 L272.0,144.3 L278.0,145.0 L284.0,145.7 L290.0,145.0 L296.0,145.4 L302.0,144.7 L308.0,143.8 L314.0,143.9 L320.0,142.7 L326.0,142.7 L332.0,142.9 L338.0,142.6 L344.0,143.7 L350.0,143.9 L356.0,144.4 L362.0,145.4 L368.0,144.9 L374.0,145.3 L380.0,144.9 L386.0,143.9" fill="none" stroke="#0b2640" stroke-width="1.30" stroke-opacity="0.33"/>
<path d="M398.0,142.9 L404.0,142.6 L410.0,142.8 L416.0,142.2 L422.0,143.2 L428.0,143.5 L434.0,143.8" fill="none" stroke="#0b2640" stroke-width="1.21" stroke-opacity="0.44"/>
<path d="M446.0,144.7 L452.0,145.1 L458.0,145.1 L464.0,144.1 L470.0,144.1 L476.0,143.1 L482.0,142.5 L488.0,142.7 L494.0,142.0 L500.0,142.7 L506.0,143.1 L512.0,143.2 L518.0,144.5 L524.0,144.4 L530.0,144.8 L536.0,145.2 L542.0,144.2 L548.0,144.2 L554.0,143.4 L560.0,142.5" fill="none" stroke="#0b2640" stroke-width="0.94" stroke-opacity="0.40"/>
<path d="M98.0,149.2 L104.0,151.7 L110.0,151.0 L116.0,150.2 L122.0,151.6 L128.0,150.6 L134.0,148.3 L140.0,149.1 L146.0,149.6 L152.0,148.0 L158.0,149.3 L164.0,151.5 L170.0,150.7 L176.0,150.7" fill="none" stroke="#0b2640" stroke-width="1.10" stroke-opacity="0.38"/>
<path d="M188.0,151.1 L194.0,149.1 L200.0,150.1 L206.0,149.7 L212.0,148.0 L218.0,149.5 L224.0,151.3 L230.0,150.3 L236.0,151.1 L242.0,153.0 L248.0,151.5 L254.0,150.1" fill="none" stroke="#0b2640" stroke-width="0.95" stroke-opacity="0.47"/>
<path d="M266.0,150.0 L272.0,148.2 L278.0,149.8 L284.0,150.9 L290.0,149.9 L296.0,151.4 L302.0,153.3 L308.0,151.7 L314.0,151.0 L320.0,152.1 L326.0,150.5 L332.0,148.7" fill="none" stroke="#0b2640" stroke-width="0.82" stroke-opacity="0.50"/>
<path d="M344.0,150.6 L350.0,149.6 L356.0,151.6 L362.0,153.2 L368.0,151.8 L374.0,152.0 L380.0,153.1 L386.0,150.9 L392.0,149.5 L398.0,150.9 L404.0,150.4 L410.0,149.4 L416.0,151.7 L422.0,153.0 L428.0,151.7 L434.0,152.7 L440.0,153.8 L446.0,151.5 L452.0,150.5 L458.0,151.7 L464.0,150.4 L470.0,149.5 L476.0,151.8 L482.0,152.5 L488.0,151.6 L494.0,153.3 L500.0,154.2 L506.0,152.0 L512.0,151.6 L518.0,152.5 L524.0,150.5 L530.0,149.8" fill="none" stroke="#0b2640" stroke-width="0.78" stroke-opacity="0.24"/>
<path d="M542.0,152.0 L548.0,151.4 L554.0,153.7" fill="none" stroke="#0b2640" stroke-width="0.77" stroke-opacity="0.38"/>
<path d="M98.0,155.1 L104.0,155.3 L110.0,154.1" fill="none" stroke="#0b2640" stroke-width="1.17" stroke-opacity="0.38"/>
<path d="M122.0,151.8 L128.0,151.9 L134.0,151.3 L140.0,150.3 L146.0,150.7 L152.0,152.0" fill="none" stroke="#0b2640" stroke-width="0.83" stroke-opacity="0.47"/>
<path d="M164.0,152.6 L170.0,153.1 L176.0,154.2 L182.0,154.5 L188.0,153.4 L194.0,152.4 L200.0,152.3 L206.0,151.8 L212.0,150.3 L218.0,149.1 L224.0,149.4 L230.0,150.0 L236.0,149.8 L242.0,149.7" fill="none" stroke="#0b2640" stroke-width="0.77" stroke-opacity="0.23"/>
<path d="M254.0,152.3 L260.0,152.4 L266.0,151.9 L272.0,152.1 L278.0,152.5 L284.0,151.6 L290.0,149.9 L296.0,149.1 L302.0,149.1 L308.0,148.6 L314.0,147.5 L320.0,147.4 L326.0,148.6 L332.0,149.5 L338.0,149.5 L344.0,149.8 L350.0,151.0 L356.0,151.6 L362.0,150.8 L368.0,149.7 L374.0,149.6 L380.0,149.3 L386.0,147.8 L392.0,146.4 L398.0,146.3 L404.0,146.9 L410.0,146.8 L416.0,146.5 L422.0,147.4 L428.0,148.9 L434.0,149.4 L440.0,149.0" fill="none" stroke="#0b2640" stroke-width="1.09" stroke-opacity="0.50"/>
<path d="M452.0,149.6 L458.0,149.1 L464.0,147.5 L470.0,146.4 L476.0,146.3 L482.0,145.9 L488.0,144.8 L494.0,144.3 L500.0,145.3 L506.0,146.3 L512.0,146.4 L518.0,146.6 L524.0,147.7" fill="none" stroke="#0b2640" stroke-width="1.11" stroke-opacity="0.25"/>
<path d="M536.0,148.1 L542.0,147.0 L548.0,146.8" fill="none" stroke="#0b2640" stroke-width="1.06" stroke-opacity="0.49"/>
<path d="M98.0,157.7 L104.0,157.5 L110.0,155.5 L116.0,155.4 L122.0,156.9 L128.0,156.8 L134.0,155.9 L140.0,157.0 L146.0,158.4 L152.0,157.4 L158.0,156.1 L164.0,156.9 L170.0,157.0 L176.0,155.2 L182.0,154.7 L188.0,156.2 L194.0,156.6 L200.0,155.5" fill="none" stroke="#0b2640" stroke-width="1.16" stroke-opacity="0.40"/>
<path d="M212.0,157.8 L218.0,157.1 L224.0,155.5 L230.0,156.0" fill="none" stroke="#0b2640" stroke-width="0.81" stroke-opacity="0.27"/>
<path d="M242.0,154.9 L248.0,154.0 L254.0,155.5 L260.0,156.3 L266.0,155.3 L272.0,155.5 L278.0,157.2 L284.0,156.8 L290.0,155.0 L296.0,155.1" fill="none" stroke="#0b2640" stroke-width="0.76" stroke-opacity="0.48"/>
<path d="M308.0,154.6 L314.0,153.4 L320.0,154.7 L326.0,155.9 L332.0,155.0 L338.0,154.9 L344.0,156.4 L350.0,156.5 L356.0,154.6 L362.0,154.3 L368.0,155.2 L374.0,154.4 L380.0,153.0 L386.0,153.9 L392.0,155.5 L398.0,154.8 L404.0,154.3 L410.0,155.7" fill="none" stroke="#0b2640" stroke-width="1.23" stroke-opacity="0.44"/>
<path d="M422.0,154.3 L428.0,153.5 L434.0,154.4 L440.0,154.1" fill="none" stroke="#0b2640" stroke-width="1.20" stroke-opacity="0.25"/>
<path d="M452.0,153.2 L458.0,155.0 L464.0,154.7" fill="none" stroke="#0b2640" stroke-width="0.73" stroke-opacity="0.25"/>
<path d="M476.0,154.8 L482.0,155.6 L488.0,153.9 L494.0,152.7 L500.0,153.6 L506.0,153.7 L512.0,152.2 L518.0,152.5 L524.0,154.4 L530.0,154.4 L536.0,153.3 L542.0,154.0 L548.0,155.0" fill="none" stroke="#0b2640" stroke-width="0.91" stroke-opacity="0.29"/>
<path d="M98.0,162.1 L104.0,160.9 L110.0,160.3 L116.0,159.9 L122.0,159.6 L128.0,160.4 L134.0,161.8" fill="none" stroke="#0b2640" stroke-width="1.28" stroke-opacity="0.39"/>
<path d="M146.0,161.5 L152.0,160.1 L158.0,159.3 L164.0,158.9 L170.0,158.6 L176.0,158.8 L182.0,160.1 L188.0,161.2 L194.0,160.9 L200.0,159.4 L206.0,158.3 L212.0,157.8 L218.0,157.5 L224.0,157.5 L230.0,158.4 L236.0,159.7 L242.0,160.1 L248.0,158.9 L254.0,157.4 L260.0,156.7 L266.0,156.5 L272.0,156.4 L278.0,156.8 L284.0,158.0 L290.0,159.0 L296.0,158.4 L302.0,156.8 L308.0,155.6" fill="none" stroke="#0b2640" stroke-width="0.85" stroke-opacity="0.27"/>
<path d="M320.0,155.3 L326.0,155.4 L332.0,156.3 L338.0,157.5 L344.0,157.6 L350.0,156.3 L356.0,154.7 L362.0,154.2 L368.0,154.2 L374.0,154.3 L380.0,154.8 L386.0,155.9 L392.0,156.6 L398.0,155.8 L404.0,154.1 L410.0,153.0 L416.0,152.9 L422.0,153.1 L428.0,153.4 L434.0,154.3 L440.0,155.3 L446.0,155.1 L452.0,153.6 L458.0,152.1 L464.0,151.7 L470.0,151.9 L476.0,152.2 L482.0,152.7 L488.0,153.8 L494.0,154.2 L500.0,153.2 L506.0,151.4 L512.0,150.5 L518.0,150.6 L524.0,151.0 L530.0,151.4 L536.0,152.2 L542.0,153.0 L548.0,152.6" fill="none" stroke="#0b2640" stroke-width="0.90" stroke-opacity="0.46"/>
<path d="M98.0,164.5 L104.0,164.0 L110.0,166.5 L116.0,167.1 L122.0,165.8 L128.0,165.2 L134.0,162.1 L140.0,163.8 L146.0,163.4 L152.0,166.2 L158.0,165.9 L164.0,164.8 L170.0,163.6 L176.0,161.1 L182.0,163.2 L188.0,162.8 L194.0,165.8 L200.0,164.5 L206.0,163.7 L212.0,162.0 L218.0,160.4 L224.0,162.5 L230.0,162.4 L236.0,165.2" fill="none" stroke="#0b2640" stroke-width="1.11" stroke-opacity="0.39"/>
<path d="M248.0,162.6 L254.0,160.4 L260.0,159.8 L266.0,161.8 L272.0,162.0 L278.0,164.4 L284.0,161.7 L290.0,161.4 L296.0,159.0 L302.0,159.4 L308.0,161.1 L314.0,161.6" fill="none" stroke="#0b2640" stroke-width="0.91" stroke-opacity="0.30"/>
<path d="M326.0,160.3 L332.0,160.2 L338.0,157.7" fill="none" stroke="#0b2640" stroke-width="1.01" stroke-opacity="0.33"/>
<path d="M350.0,160.4 L356.0,161.2 L362.0,162.1 L368.0,159.0 L374.0,159.0 L380.0,156.6 L386.0,158.9 L392.0,159.6 L398.0,160.7 L404.0,160.7 L410.0,157.7 L416.0,157.8 L422.0,155.7 L428.0,158.6 L434.0,158.8 L440.0,160.1 L446.0,159.1" fill="none" stroke="#0b2640" stroke-width="1.22" stroke-opacity="0.38"/>
<path d="M458.0,156.5 L464.0,155.1 L470.0,158.3 L476.0,158.0 L482.0,159.4 L488.0,157.4 L494.0,155.5 L500.0,155.3 L506.0,154.6 L512.0,157.9" fill="none" stroke="#0b2640" stroke-width="0.97" stroke-opacity="0.33"/>
<path d="M524.0,158.5 L530.0,155.7 L536.0,154.5 L542.0,154.2 L548.0,154.3 L554.0,157.3 L560.0,156.4" fill="none" stroke="#0b2640" stroke-width="1.28" stroke-opacity="0.45"/>
<path d="M98.0,170.5 L104.0,170.5 L110.0,170.4 L116.0,169.4" fill="none" stroke="#0b2640" stroke-width="1.25" stroke-opacity="0.32"/>
<path d="M128.0,167.9 L134.0,168.3 L140.0,168.3 L146.0,169.0 L152.0,170.4" fill="none" stroke="#0b2640" stroke-width="0.80" stroke-opacity="0.44"/>
<path d="M164.0,171.3 L170.0,171.2 L176.0,171.1 L182.0,170.1 L188.0,168.9 L194.0,168.6 L200.0,169.1 L206.0,169.3 L212.0,169.8 L218.0,171.3 L224.0,172.3 L230.0,172.2 L236.0,171.9 L242.0,171.7 L248.0,170.9 L254.0,169.6 L260.0,169.3" fill="none" stroke="#0b2640" stroke-width="0.81" stroke-opacity="0.39"/>
<path d="M272.0,170.2 L278.0,170.7 L284.0,172.1 L290.0,173.1 L296.0,173.0 L302.0,172.6 L308.0,172.4 L314.0,171.6 L320.0,170.4 L326.0,170.0 L332.0,170.6 L338.0,171.2 L344.0,171.6 L350.0,172.9 L356.0,174.0 L362.0,173.9 L368.0,173.3 L374.0,173.0 L380.0,172.4 L386.0,171.2 L392.0,170.7 L398.0,171.4 L404.0,172.1 L410.0,172.6 L416.0,173.7 L422.0,174.8" fill="none" stroke="#0b2640" stroke-width="1.03" stroke-opacity="0.44"/>
<path d="M434.0,174.0 L440.0,173.6 L446.0,173.1 L452.0,172.0 L458.0,171.5 L464.0,172.2 L470.0,173.0 L476.0,173.5 L482.0,174.5 L488.0,175.6" fill="none" stroke="#0b2640" stroke-width="0.74" stroke-opacity="0.44"/>
<path d="M500.0,174.7 L506.0,174.2 L512.0,173.8 L518.0,172.8 L524.0,172.2 L530.0,173.0 L536.0,173.9" fill="none" stroke="#0b2640" stroke-width="0.84" stroke-opacity="0.48"/>
<path d="M548.0,175.3 L554.0,176.4 L560.0,176.4" fill="none" stroke="#0b2640" stroke-width="0.96" stroke-opacity="0.46"/>
<path d="M98.0,172.3 L104.0,172.7 L110.0,174.2 L116.0,173.2 L122.0,173.0 L128.0,175.3 L134.0,175.5 L140.0,173.6 L146.0,173.7 L152.0,174.3 L158.0,172.2 L164.0,170.8 L170.0,172.3 L176.0,172.7 L182.0,171.5 L188.0,172.7" fill="none" stroke="#0b2640" stroke-width="0.93" stroke-opacity="0.39"/>
<path d="M200.0,173.4 L206.0,172.0 L212.0,173.0 L218.0,172.4" fill="none" stroke="#0b2640" stroke-width="0.88" stroke-opacity="0.42"/>
<path d="M230.0,169.9 L236.0,171.6 L242.0,170.9 L248.0,170.3 L254.0,172.5 L260.0,173.2 L266.0,171.3 L272.0,171.0 L278.0,171.8 L284.0,170.0 L290.0,168.2 L296.0,169.5 L302.0,170.3 L308.0,169.1 L314.0,169.8 L320.0,171.9 L326.0,171.2 L332.0,169.5 L338.0,170.2 L344.0,170.1 L350.0,167.6 L356.0,167.2 L362.0,168.9 L368.0,168.5 L374.0,167.7 L380.0,169.6 L386.0,170.8 L392.0,169.0 L398.0,168.3 L404.0,169.2 L410.0,167.8 L416.0,165.7 L422.0,166.6 L428.0,167.8 L434.0,166.7 L440.0,167.0 L446.0,169.2 L452.0,168.9 L458.0,167.0 L464.0,167.4 L470.0,167.7 L476.0,165.4 L482.0,164.4 L488.0,166.1 L494.0,166.2 L500.0,165.1 L506.0,166.7 L512.0,168.3 L518.0,166.7 L524.0,165.6 L530.0,166.6 L536.0,165.6 L542.0,163.3 L548.0,163.8 L554.0,165.3 L560.0,164.4" fill="none" stroke="#0b2640" stroke-width="1.18" stroke-opacity="0.34"/>
<path d="M98.0,177.4 L104.0,177.8 L110.0,176.5 L116.0,175.0 L122.0,175.3 L128.0,176.6 L134.0,176.6 L140.0,175.7 L146.0,176.1 L152.0,177.8 L158.0,178.3 L164.0,177.1 L170.0,176.4 L176.0,177.0 L182.0,177.2 L188.0,175.5 L194.0,173.9 L200.0,174.2 L206.0,174.9 L212.0,174.1 L218.0,173.0 L224.0,173.7 L230.0,175.3 L236.0,175.7 L242.0,174.7 L248.0,174.8 L254.0,176.1 L260.0,176.2 L266.0,174.6 L272.0,173.3 L278.0,173.7 L284.0,173.9 L290.0,172.4 L296.0,171.1 L302.0,171.7 L308.0,172.9 L314.0,172.7 L320.0,171.9 L326.0,172.6 L332.0,174.2 L338.0,174.4" fill="none" stroke="#0b2640" stroke-width="1.22" stroke-opacity="0.33"/>
<path d="M350.0,172.6 L356.0,173.3 L362.0,173.2 L368.0,171.3 L374.0,170.0 L380.0,170.5 L386.0,171.0 L392.0,170.1 L398.0,169.2 L404.0,170.1 L410.0,171.7 L416.0,171.7 L422.0,170.8 L428.0,171.2 L434.0,172.4 L440.0,172.2 L446.0,170.4 L452.0,169.5 L458.0,170.0 L464.0,169.9 L470.0,168.3 L476.0,167.2 L482.0,168.1 L488.0,169.2 L494.0,168.7" fill="none" stroke="#0b2640" stroke-width="1.10" stroke-opacity="0.41"/>
<path d="M506.0,169.0 L512.0,170.6 L518.0,170.4 L524.0,169.1" fill="none" stroke="#0b2640" stroke-width="1.17" stroke-opacity="0.48"/>
<path d="M536.0,169.6 L542.0,169.1 L548.0,167.2 L554.0,166.1 L560.0,166.8" fill="none" stroke="#0b2640" stroke-width="0.73" stroke-opacity="0.38"/>
<path d="M98.0,180.8 L104.0,180.9 L110.0,182.6 L116.0,182.4 L122.0,183.0 L128.0,183.9" fill="none" stroke="#0b2640" stroke-width="0.88" stroke-opacity="0.37"/>
<path d="M140.0,183.1 L146.0,182.7 L152.0,181.2 L158.0,181.7 L164.0,180.9 L170.0,180.4 L176.0,181.7 L182.0,181.2 L188.0,182.1 L194.0,183.5 L200.0,183.0 L206.0,184.2 L212.0,184.3 L218.0,183.3 L224.0,184.0 L230.0,182.8 L236.0,181.9 L242.0,182.4 L248.0,181.2 L254.0,181.6 L260.0,182.4 L266.0,181.9 L272.0,183.5 L278.0,184.0 L284.0,183.8 L290.0,185.2 L296.0,184.6 L302.0,184.1 L308.0,184.6 L314.0,182.9 L320.0,182.8 L326.0,182.9 L332.0,181.6 L338.0,182.7 L344.0,182.9 L350.0,182.8" fill="none" stroke="#0b2640" stroke-width="1.30" stroke-opacity="0.24"/>
<path d="M362.0,184.5 L368.0,184.9 L374.0,186.0 L380.0,184.8 L386.0,185.1 L392.0,184.9 L398.0,183.3 L404.0,183.8 L410.0,183.1 L416.0,182.4 L422.0,183.8 L428.0,183.3 L434.0,184.1 L440.0,185.5 L446.0,185.0 L452.0,186.1 L458.0,186.5 L464.0,185.3 L470.0,186.0 L476.0,185.0 L482.0,183.9 L488.0,184.5 L494.0,183.3 L500.0,183.5 L506.0,184.5 L512.0,183.9 L518.0,185.4 L524.0,186.2 L530.0,185.8 L536.0,187.3 L542.0,186.7 L548.0,186.1 L554.0,186.7 L560.0,185.1" fill="none" stroke="#0b2640" stroke-width="1.21" stroke-opacity="0.50"/>
<path d="M98.0,183.6 C86.1,183.2 96.6,181.5 98.0,180.2 C99.4,178.9 107.3,173.6 110.4,172.5 C113.5,171.4 120.9,171.3 124.6,170.8 C128.3,170.3 139.6,168.6 142.4,167.8 C145.2,167.0 146.9,165.6 148.3,164.2 C149.7,162.8 153.4,157.6 154.2,156.0 C155.0,154.4 154.8,151.5 155.4,150.6 C156.0,149.7 158.0,148.7 159.0,148.2 C160.0,147.7 163.0,146.4 163.7,145.9 C164.4,145.4 165.7,144.4 164.9,144.1 C164.1,143.8 158.7,143.5 156.6,143.5 C154.5,143.5 149.4,143.7 147.1,144.1 C144.8,144.5 138.7,146.9 136.5,147.1 C134.3,147.3 129.5,146.4 128.2,145.9 C126.9,145.4 125.3,143.7 125.2,142.9 C125.1,142.1 126.2,140.2 127.0,139.4 C127.8,138.6 130.3,136.7 131.7,135.8 C133.1,134.9 137.8,132.5 138.8,131.7 C139.8,130.9 140.3,130.1 140.0,128.7 C139.7,127.3 136.8,121.0 136.5,119.8 C136.2,118.6 134.2,118.7 137.1,118.6 C140.0,118.5 157.5,118.6 161.4,118.6 C165.3,118.6 169.1,118.1 170.8,118.3 C172.5,118.5 175.0,119.5 175.6,120.4 C176.2,121.3 176.2,125.2 175.6,126.3 C175.0,127.4 172.5,129.1 170.8,129.9 C169.1,130.7 162.7,132.1 161.4,132.8 C160.1,133.5 159.3,135.3 159.6,135.8 C159.9,136.3 162.9,136.6 163.7,137.0 C164.5,137.4 165.7,138.8 166.1,139.4 C166.5,140.0 166.2,142.0 167.3,142.3 C168.4,142.6 174.6,141.5 175.6,142.2 C176.6,142.9 176.8,147.1 175.8,148.0 C174.8,148.9 168.4,149.3 167.0,149.8 C165.6,150.3 163.9,152.0 163.5,152.7 C163.1,153.4 162.7,154.8 163.3,155.5 C163.9,156.2 166.9,157.6 168.5,158.3 C170.1,159.0 174.9,161.2 176.8,161.9 C178.7,162.6 183.5,164.1 185.0,164.2 C186.5,164.3 188.6,163.2 189.8,162.5 C191.0,161.8 193.7,159.6 195.6,158.6 C197.5,157.6 203.7,154.8 206.2,153.9 C208.7,153.0 214.6,150.9 216.8,150.6 C219.0,150.3 222.5,151.1 224.7,151.3 C226.9,151.5 233.7,152.6 235.3,152.6 C236.9,152.6 237.2,151.4 238.0,151.3 C238.8,151.2 241.4,152.4 242.0,152.0 C242.6,151.6 242.9,148.9 243.3,148.0 C243.7,147.1 244.7,144.9 245.3,144.0 C245.9,143.1 248.4,141.6 248.6,140.7 C248.8,139.8 247.9,137.0 247.3,136.1 C246.7,135.2 244.7,133.6 243.3,133.4 C241.9,133.2 237.0,134.1 235.3,134.1 C233.6,134.1 229.9,133.9 228.7,133.4 C227.5,132.9 225.5,130.9 224.7,130.1 C223.9,129.3 221.3,127.3 222.1,126.8 C222.9,126.3 228.9,126.3 231.4,126.1 C233.9,125.9 241.1,125.9 243.3,125.5 C245.5,125.1 248.0,123.4 249.9,122.8 C251.8,122.2 257.2,120.7 259.2,120.2 C261.2,119.7 265.2,119.0 267.1,118.2 C269.0,117.4 273.2,114.5 275.1,113.5 C277.0,112.5 281.4,110.3 283.0,109.6 C284.6,108.9 287.6,107.9 289.2,107.6 C290.8,107.3 295.3,107.5 296.9,106.8 C298.5,106.1 301.4,102.4 303.0,101.5 C304.6,100.6 308.7,99.7 310.7,99.2 C312.7,98.7 318.2,98.1 319.9,97.6 C321.6,97.1 324.3,95.3 325.2,94.6 C326.1,93.9 326.3,91.8 327.5,91.5 C328.7,91.2 333.3,92.0 335.2,92.3 C337.1,92.6 342.6,93.2 343.7,93.8 C344.8,94.4 344.7,96.9 344.4,97.6 C344.1,98.3 341.4,99.3 341.3,99.9 C341.2,100.5 343.5,102.3 343.7,103.0 C343.9,103.7 343.7,105.5 342.9,106.1 C342.1,106.7 338.1,107.6 336.7,108.4 C335.3,109.2 331.1,112.1 330.6,113.0 C330.1,113.9 331.3,115.5 332.1,116.0 C332.9,116.5 336.4,117.0 337.5,117.6 C338.6,118.2 340.1,120.7 341.3,121.4 C342.5,122.1 346.1,123.3 347.5,123.7 C348.9,124.1 351.5,125.0 353.6,125.2 C355.7,125.4 363.4,125.2 365.9,125.2 C368.4,125.2 372.5,125.5 375.0,125.2 C377.5,124.9 384.6,123.0 387.3,122.2 C390.0,121.4 396.6,119.4 398.0,118.3 C399.4,117.2 399.4,114.2 399.5,113.0 C399.6,111.8 398.5,109.4 398.8,108.4 C399.1,107.4 400.6,105.3 401.8,104.5 C403.0,103.7 408.5,102.5 409.5,101.5 C410.5,100.5 409.8,97.3 410.3,96.1 C410.8,94.9 412.9,92.4 414.1,91.5 C415.3,90.6 419.5,88.9 421.0,88.4 C422.5,87.9 425.3,87.0 427.1,86.9 C428.9,86.8 434.5,87.1 436.3,87.4 C438.1,87.7 441.2,88.6 442.5,89.2 C443.8,89.8 446.0,91.7 447.1,92.3 C448.2,92.9 450.5,94.2 451.7,94.6 C452.9,95.0 456.2,95.8 457.8,96.1 C459.4,96.4 463.9,97.2 465.5,97.6 C467.1,98.0 470.4,99.3 471.6,99.9 C472.8,100.5 475.0,102.3 475.7,103.0 C476.4,103.7 477.5,105.5 477.3,106.1 C477.1,106.7 473.5,108.0 474.2,108.4 C474.9,108.8 480.9,109.6 483.4,109.9 C485.9,110.2 494.0,110.3 495.7,110.7 C497.4,111.1 497.4,112.3 498.0,113.0 C498.6,113.7 500.2,117.1 501.0,116.8 C501.8,116.5 503.9,111.5 504.9,110.7 C505.9,109.9 508.5,109.6 509.5,109.9 C510.5,110.2 512.9,112.0 513.3,113.0 C513.7,114.0 514.1,117.6 513.3,118.3 C512.5,119.0 507.8,119.2 506.4,119.1 C505.0,119.0 501.8,117.2 501.0,117.6 C500.2,118.0 498.9,121.7 499.5,122.9 C500.1,124.1 504.5,126.3 506.4,127.5 C508.3,128.7 514.0,131.8 515.6,132.9 C517.2,134.0 519.3,135.5 520.2,136.7 C521.1,137.9 521.9,141.7 523.3,142.9 C524.7,144.1 530.5,146.0 532.5,146.7 C534.5,147.4 538.8,148.5 540.2,149.0 C541.6,149.5 544.6,150.1 544.8,150.6 C545.0,151.1 541.9,152.5 541.7,153.6 C541.5,154.7 543.4,158.4 543.2,159.8 C543.0,161.2 540.9,164.5 540.2,165.9 C539.5,167.3 538.0,170.8 537.1,172.0 C536.2,173.2 534.1,175.2 532.5,175.9 C530.9,176.6 525.4,177.8 523.3,178.2 C521.2,178.5 515.2,179.6 514.1,178.9 C513.0,178.2 513.7,173.7 514.1,172.0 C514.5,170.3 517.2,165.6 517.9,164.4 C518.6,163.2 520.6,161.5 520.2,161.3 C519.8,161.1 515.7,161.9 514.1,162.8 C512.5,163.7 508.4,167.7 506.4,169.0 C504.4,170.3 499.3,172.6 497.2,173.6 C495.1,174.6 489.2,176.9 488.0,177.4 C486.8,177.9 486.1,178.8 486.5,178.2 C486.9,177.6 490.2,173.1 491.1,172.0 C492.0,170.9 495.0,169.1 494.1,169.0 C493.2,168.9 485.7,170.6 483.4,171.3 C481.1,172.0 476.3,174.3 474.2,175.1 C472.1,175.9 467.2,177.5 465.0,178.2 C462.8,178.9 457.4,180.4 455.0,181.0 C452.6,181.6 462.1,182.9 444.0,183.2 C425.9,183.5 328.5,183.7 300.0,183.8 C271.5,183.9 223.6,183.8 200.0,183.8 C176.4,183.8 109.9,184.0 98.0,183.6Z" fill="none" stroke="#2b3d50" stroke-width="5" stroke-opacity="0.22"/>
<path d="M413.0,130.7 L423.0,125.0 L430.1,120.7 L437.3,123.5 L445.9,125.0 L452.0,127.0" fill="none" stroke="#1b2d40" stroke-width="0.9" stroke-opacity="0.6"/>
<path d="M400.0,117.8 L401.5,129.3 L405.8,139.3 L414.4,142.2 L425.0,141.0" fill="none" stroke="#1b2d40" stroke-width="0.9" stroke-opacity="0.6"/>
<path d="M456.0,129.3 L466.0,132.1 L480.3,129.3 L483.2,139.3 L478.9,147.9 L468.8,152.2 L461.7,147.9 L460.2,139.3" fill="none" stroke="#1b2d40" stroke-width="0.9" stroke-opacity="0.6"/>
<path d="M474.6,115.0 L485.0,118.0 L497.5,123.5" fill="none" stroke="#1b2d40" stroke-width="0.9" stroke-opacity="0.6"/>
<path d="M295.7,118.4 L305.8,116.3 L326.0,115.3 L336.1,117.4 L341.2,123.4" fill="none" stroke="#1b2d40" stroke-width="0.9" stroke-opacity="0.6"/>
<path d="M299.7,102.2 L311.8,103.2 L307.8,115.3" fill="none" stroke="#1b2d40" stroke-width="0.9" stroke-opacity="0.6"/>
<path d="M248.1,125.4 L260.3,123.4 L265.3,130.5 L263.3,139.6 L255.2,141.6 L247.1,137.6" fill="none" stroke="#1b2d40" stroke-width="0.9" stroke-opacity="0.6"/>
<path d="M300.0,140.0 L320.0,136.0 L345.0,138.0 L370.0,134.0 L390.0,137.0" fill="none" stroke="#1b2d40" stroke-width="0.9" stroke-opacity="0.6"/>
<path d="M330.0,165.0 L360.0,160.0 L380.0,168.0 L420.0,172.0 L460.0,168.0" fill="none" stroke="#1b2d40" stroke-width="0.9" stroke-opacity="0.6"/>
<path d="M470.0,120.0 C476.8,117.7 512.8,126.8 520.0,130.0 C527.2,133.2 528.7,144.6 532.0,147.0 C535.3,149.4 546.5,149.5 548.0,151.0 C549.5,152.5 545.9,157.6 545.0,160.0 C544.1,162.4 542.6,169.7 540.0,172.0 C537.4,174.3 526.0,179.1 523.0,180.0 C520.0,180.9 517.0,180.5 514.0,180.0 C511.0,179.5 500.4,176.2 497.0,176.0 C493.6,175.8 488.7,177.8 485.0,178.0 C481.3,178.2 467.7,181.3 465.0,178.0 C462.3,174.7 461.4,156.8 462.0,150.0 C462.6,143.2 463.2,122.3 470.0,120.0Z" fill="url(#gDR)" fill-opacity="1.00"/>
<path d="M137.1,118.8 C139.6,117.6 157.5,118.8 161.4,118.8 C165.3,118.8 169.2,118.3 170.8,118.5 C172.4,118.7 174.9,119.7 175.4,120.6 C175.9,121.5 175.9,125.0 175.4,126.0 C174.9,127.0 172.4,128.8 170.8,129.6 C169.2,130.4 163.8,132.1 161.4,132.5 C159.0,132.9 152.5,133.4 150.0,133.0 C147.5,132.6 141.5,130.7 140.0,129.0 C138.5,127.3 134.6,120.0 137.1,118.8Z" fill="#4c6378" fill-opacity="0.75"/>
</g>
<path d="M98.0,183.6 C86.1,183.2 96.6,181.5 98.0,180.2 C99.4,178.9 107.3,173.6 110.4,172.5 C113.5,171.4 120.9,171.3 124.6,170.8 C128.3,170.3 139.6,168.6 142.4,167.8 C145.2,167.0 146.9,165.6 148.3,164.2 C149.7,162.8 153.4,157.6 154.2,156.0 C155.0,154.4 154.8,151.5 155.4,150.6 C156.0,149.7 158.0,148.7 159.0,148.2 C160.0,147.7 163.0,146.4 163.7,145.9 C164.4,145.4 165.7,144.4 164.9,144.1 C164.1,143.8 158.7,143.5 156.6,143.5 C154.5,143.5 149.4,143.7 147.1,144.1 C144.8,144.5 138.7,146.9 136.5,147.1 C134.3,147.3 129.5,146.4 128.2,145.9 C126.9,145.4 125.3,143.7 125.2,142.9 C125.1,142.1 126.2,140.2 127.0,139.4 C127.8,138.6 130.3,136.7 131.7,135.8 C133.1,134.9 137.8,132.5 138.8,131.7 C139.8,130.9 140.3,130.1 140.0,128.7 C139.7,127.3 136.8,121.0 136.5,119.8 C136.2,118.6 134.2,118.7 137.1,118.6 C140.0,118.5 157.5,118.6 161.4,118.6 C165.3,118.6 169.1,118.1 170.8,118.3 C172.5,118.5 175.0,119.5 175.6,120.4 C176.2,121.3 176.2,125.2 175.6,126.3 C175.0,127.4 172.5,129.1 170.8,129.9 C169.1,130.7 162.7,132.1 161.4,132.8 C160.1,133.5 159.3,135.3 159.6,135.8 C159.9,136.3 162.9,136.6 163.7,137.0 C164.5,137.4 165.7,138.8 166.1,139.4 C166.5,140.0 166.2,142.0 167.3,142.3 C168.4,142.6 174.6,141.5 175.6,142.2 C176.6,142.9 176.8,147.1 175.8,148.0 C174.8,148.9 168.4,149.3 167.0,149.8 C165.6,150.3 163.9,152.0 163.5,152.7 C163.1,153.4 162.7,154.8 163.3,155.5 C163.9,156.2 166.9,157.6 168.5,158.3 C170.1,159.0 174.9,161.2 176.8,161.9 C178.7,162.6 183.5,164.1 185.0,164.2 C186.5,164.3 188.6,163.2 189.8,162.5 C191.0,161.8 193.7,159.6 195.6,158.6 C197.5,157.6 203.7,154.8 206.2,153.9 C208.7,153.0 214.6,150.9 216.8,150.6 C219.0,150.3 222.5,151.1 224.7,151.3 C226.9,151.5 233.7,152.6 235.3,152.6 C236.9,152.6 237.2,151.4 238.0,151.3 C238.8,151.2 241.4,152.4 242.0,152.0 C242.6,151.6 242.9,148.9 243.3,148.0 C243.7,147.1 244.7,144.9 245.3,144.0 C245.9,143.1 248.4,141.6 248.6,140.7 C248.8,139.8 247.9,137.0 247.3,136.1 C246.7,135.2 244.7,133.6 243.3,133.4 C241.9,133.2 237.0,134.1 235.3,134.1 C233.6,134.1 229.9,133.9 228.7,133.4 C227.5,132.9 225.5,130.9 224.7,130.1 C223.9,129.3 221.3,127.3 222.1,126.8 C222.9,126.3 228.9,126.3 231.4,126.1 C233.9,125.9 241.1,125.9 243.3,125.5 C245.5,125.1 248.0,123.4 249.9,122.8 C251.8,122.2 257.2,120.7 259.2,120.2 C261.2,119.7 265.2,119.0 267.1,118.2 C269.0,117.4 273.2,114.5 275.1,113.5 C277.0,112.5 281.4,110.3 283.0,109.6 C284.6,108.9 287.6,107.9 289.2,107.6 C290.8,107.3 295.3,107.5 296.9,106.8 C298.5,106.1 301.4,102.4 303.0,101.5 C304.6,100.6 308.7,99.7 310.7,99.2 C312.7,98.7 318.2,98.1 319.9,97.6 C321.6,97.1 324.3,95.3 325.2,94.6 C326.1,93.9 326.3,91.8 327.5,91.5 C328.7,91.2 333.3,92.0 335.2,92.3 C337.1,92.6 342.6,93.2 343.7,93.8 C344.8,94.4 344.7,96.9 344.4,97.6 C344.1,98.3 341.4,99.3 341.3,99.9 C341.2,100.5 343.5,102.3 343.7,103.0 C343.9,103.7 343.7,105.5 342.9,106.1 C342.1,106.7 338.1,107.6 336.7,108.4 C335.3,109.2 331.1,112.1 330.6,113.0 C330.1,113.9 331.3,115.5 332.1,116.0 C332.9,116.5 336.4,117.0 337.5,117.6 C338.6,118.2 340.1,120.7 341.3,121.4 C342.5,122.1 346.1,123.3 347.5,123.7 C348.9,124.1 351.5,125.0 353.6,125.2 C355.7,125.4 363.4,125.2 365.9,125.2 C368.4,125.2 372.5,125.5 375.0,125.2 C377.5,124.9 384.6,123.0 387.3,122.2 C390.0,121.4 396.6,119.4 398.0,118.3 C399.4,117.2 399.4,114.2 399.5,113.0 C399.6,111.8 398.5,109.4 398.8,108.4 C399.1,107.4 400.6,105.3 401.8,104.5 C403.0,103.7 408.5,102.5 409.5,101.5 C410.5,100.5 409.8,97.3 410.3,96.1 C410.8,94.9 412.9,92.4 414.1,91.5 C415.3,90.6 419.5,88.9 421.0,88.4 C422.5,87.9 425.3,87.0 427.1,86.9 C428.9,86.8 434.5,87.1 436.3,87.4 C438.1,87.7 441.2,88.6 442.5,89.2 C443.8,89.8 446.0,91.7 447.1,92.3 C448.2,92.9 450.5,94.2 451.7,94.6 C452.9,95.0 456.2,95.8 457.8,96.1 C459.4,96.4 463.9,97.2 465.5,97.6 C467.1,98.0 470.4,99.3 471.6,99.9 C472.8,100.5 475.0,102.3 475.7,103.0 C476.4,103.7 477.5,105.5 477.3,106.1 C477.1,106.7 473.5,108.0 474.2,108.4 C474.9,108.8 480.9,109.6 483.4,109.9 C485.9,110.2 494.0,110.3 495.7,110.7 C497.4,111.1 497.4,112.3 498.0,113.0 C498.6,113.7 500.2,117.1 501.0,116.8 C501.8,116.5 503.9,111.5 504.9,110.7 C505.9,109.9 508.5,109.6 509.5,109.9 C510.5,110.2 512.9,112.0 513.3,113.0 C513.7,114.0 514.1,117.6 513.3,118.3 C512.5,119.0 507.8,119.2 506.4,119.1 C505.0,119.0 501.8,117.2 501.0,117.6 C500.2,118.0 498.9,121.7 499.5,122.9 C500.1,124.1 504.5,126.3 506.4,127.5 C508.3,128.7 514.0,131.8 515.6,132.9 C517.2,134.0 519.3,135.5 520.2,136.7 C521.1,137.9 521.9,141.7 523.3,142.9 C524.7,144.1 530.5,146.0 532.5,146.7 C534.5,147.4 538.8,148.5 540.2,149.0 C541.6,149.5 544.6,150.1 544.8,150.6 C545.0,151.1 541.9,152.5 541.7,153.6 C541.5,154.7 543.4,158.4 543.2,159.8 C543.0,161.2 540.9,164.5 540.2,165.9 C539.5,167.3 538.0,170.8 537.1,172.0 C536.2,173.2 534.1,175.2 532.5,175.9 C530.9,176.6 525.4,177.8 523.3,178.2 C521.2,178.5 515.2,179.6 514.1,178.9 C513.0,178.2 513.7,173.7 514.1,172.0 C514.5,170.3 517.2,165.6 517.9,164.4 C518.6,163.2 520.6,161.5 520.2,161.3 C519.8,161.1 515.7,161.9 514.1,162.8 C512.5,163.7 508.4,167.7 506.4,169.0 C504.4,170.3 499.3,172.6 497.2,173.6 C495.1,174.6 489.2,176.9 488.0,177.4 C486.8,177.9 486.1,178.8 486.5,178.2 C486.9,177.6 490.2,173.1 491.1,172.0 C492.0,170.9 495.0,169.1 494.1,169.0 C493.2,168.9 485.7,170.6 483.4,171.3 C481.1,172.0 476.3,174.3 474.2,175.1 C472.1,175.9 467.2,177.5 465.0,178.2 C462.8,178.9 457.4,180.4 455.0,181.0 C452.6,181.6 462.1,182.9 444.0,183.2 C425.9,183.5 328.5,183.7 300.0,183.8 C271.5,183.9 223.6,183.8 200.0,183.8 C176.4,183.8 109.9,184.0 98.0,183.6Z" fill="none" stroke="#14283c" stroke-width="0.9" stroke-opacity="0.85" stroke-linejoin="round"/>
<path d="M270.1,124.2 C271.3,123.0 277.4,120.3 278.5,120.1 C279.6,119.9 279.9,121.4 279.4,122.6 C278.9,123.8 275.4,128.4 274.3,130.1 C273.2,131.8 270.9,135.1 270.1,136.8 C269.3,138.5 267.9,142.8 267.6,144.3 C267.3,145.8 267.0,148.2 267.2,149.4 C267.4,150.6 269.1,153.3 269.3,154.4 C269.5,155.5 270.6,158.0 269.0,158.5 C267.4,159.0 258.9,158.4 255.9,158.6 C252.9,158.8 245.2,160.1 243.4,160.2 C241.7,160.3 240.6,159.8 240.9,159.4 C241.2,159.0 244.6,157.8 245.9,156.9 C247.2,156.0 250.6,153.1 251.7,151.9 C252.8,150.7 254.1,147.8 255.1,146.8 C256.1,145.8 258.8,144.3 260.1,143.5 C261.4,142.7 265.2,140.8 266.0,140.1 C266.8,139.4 266.5,138.8 266.8,137.6 C267.1,136.4 268.1,131.7 268.5,130.1 C268.9,128.5 268.9,125.4 270.1,124.2Z" fill="#fff" stroke="#14283c" stroke-width="0.9" stroke-opacity="0.85" stroke-linejoin="round"/>
<path d="M291.5,117.8 C292.4,116.9 298.0,117.1 299.0,117.4 C300.0,117.7 300.1,119.5 300.0,120.5 C299.9,121.5 298.9,124.8 298.5,126.0 C298.1,127.2 297.2,130.4 296.5,131.0 C295.8,131.6 293.1,131.9 292.5,131.2 C291.9,130.5 291.1,126.6 291.0,125.0 C290.9,123.4 290.6,118.7 291.5,117.8Z" fill="#fff" stroke="#14283c" stroke-width="0.9" stroke-opacity="0.85" stroke-linejoin="round"/>
<path d="M403.0,116.0 C403.6,115.3 406.8,113.9 408.0,113.7 C409.2,113.5 412.6,113.9 413.0,114.5 C413.4,115.1 411.8,118.1 411.0,119.0 C410.2,119.9 407.0,122.1 406.0,122.2 C405.0,122.3 403.0,120.7 402.6,120.0 C402.2,119.3 402.4,116.7 403.0,116.0Z" fill="#fff" stroke="#14283c" stroke-width="0.9" stroke-opacity="0.85" stroke-linejoin="round"/>
<path d="M446.0,120.0 C446.9,119.5 451.0,118.4 452.0,118.3 C453.0,118.2 454.9,118.8 454.8,119.5 C454.7,120.2 452.0,123.2 451.0,124.0 C450.0,124.8 446.8,126.1 446.0,126.0 C445.2,125.9 444.0,123.7 444.0,123.0 C444.0,122.3 445.1,120.5 446.0,120.0Z" fill="#fff" stroke="#14283c" stroke-width="0.9" stroke-opacity="0.85" stroke-linejoin="round"/>
<path d="M390.0,151.0 C390.9,150.1 394.6,150.1 395.0,150.6 C395.4,151.1 393.4,154.0 393.0,155.0 C392.6,156.0 391.8,158.1 392.0,159.0 C392.2,159.9 395.2,162.4 395.0,163.0 C394.8,163.6 390.9,165.0 390.0,164.4 C389.1,163.8 387.3,159.6 387.3,158.0 C387.3,156.4 389.1,151.9 390.0,151.0Z" fill="#fff" stroke="#14283c" stroke-width="0.9" stroke-opacity="0.85" stroke-linejoin="round"/>
<path d="M410.0,160.0 C411.3,159.4 416.4,158.8 418.0,158.5 C419.6,158.2 423.5,156.9 424.0,157.5 C424.5,158.1 422.9,162.5 422.0,164.0 C421.1,165.5 417.4,170.0 416.0,170.5 C414.6,171.0 411.0,168.8 410.0,168.0 C409.0,167.2 407.2,164.9 407.2,164.0 C407.2,163.1 408.7,160.6 410.0,160.0Z" fill="#fff" stroke="#14283c" stroke-width="0.9" stroke-opacity="0.85" stroke-linejoin="round"/>
<path d="M375.0,157.0 C375.5,156.3 379.5,156.2 380.0,156.7 C380.5,157.2 379.5,160.3 379.0,161.0 C378.5,161.7 376.5,163.3 376.0,162.8 C375.5,162.3 374.5,157.7 375.0,157.0Z" fill="#fff" stroke="#14283c" stroke-width="0.9" stroke-opacity="0.85" stroke-linejoin="round"/>
</g>
<g clip-path="url(#cB)">
<path d="M100.1,405.0 C89.2,404.3 105.0,400.7 106.4,399.8 C107.8,398.9 109.5,397.4 112.2,396.9 C114.9,396.4 125.3,395.6 129.3,395.2 C133.3,394.8 144.0,394.0 146.5,393.5 C149.0,393.0 149.6,391.6 150.5,390.6 C151.4,389.6 153.4,386.2 154.5,384.9 C155.6,383.6 158.5,379.6 159.6,379.2 C160.7,378.8 162.5,380.6 163.6,381.5 C164.7,382.4 168.1,385.9 169.4,386.6 C170.7,387.3 173.6,387.5 175.1,387.8 C176.6,388.1 180.6,388.6 181.9,388.9 C183.2,389.2 185.0,390.6 186.5,390.6 C188.0,390.6 193.0,389.2 194.5,388.9 C196.0,388.6 199.0,388.3 199.1,387.8 C199.2,387.3 195.8,385.5 195.7,384.9 C195.6,384.3 197.1,383.1 198.0,382.6 C198.9,382.1 202.4,381.3 203.7,380.9 C205.0,380.5 208.0,379.1 208.8,379.4 C209.6,379.7 209.6,383.1 210.7,383.2 C211.8,383.3 216.0,380.9 217.8,380.4 C219.6,379.9 224.5,379.0 226.3,379.0 C228.1,379.0 231.9,379.7 233.4,380.4 C234.9,381.1 237.9,384.6 239.1,385.4 C240.3,386.2 242.1,387.6 243.4,387.5 C244.7,387.4 248.7,385.2 250.5,384.6 C252.3,384.0 257.4,382.6 259.0,382.5 C260.6,382.4 263.5,383.4 264.0,383.9 C264.5,384.4 263.7,386.0 263.3,386.8 C262.9,387.6 260.7,390.1 260.5,391.0 C260.3,391.9 260.2,394.3 261.2,394.6 C262.2,394.9 267.3,394.2 269.0,393.9 C270.7,393.6 274.9,392.4 276.1,391.8 C277.3,391.2 279.4,390.1 278.9,388.9 C278.4,387.7 272.5,382.7 271.8,381.1 C271.1,379.5 272.0,376.6 272.5,375.4 C273.0,374.2 276.2,371.9 276.1,371.1 C276.0,370.3 272.2,369.3 271.8,368.3 C271.4,367.3 272.2,364.1 272.5,362.6 C272.8,361.1 273.6,356.8 274.7,355.5 C275.8,354.2 280.4,352.2 281.8,351.2 C283.2,350.2 286.1,346.8 286.8,347.0 C287.5,347.2 287.5,351.3 287.5,352.7 C287.5,354.1 286.3,358.4 286.8,359.1 C287.3,359.8 290.5,359.4 291.7,359.1 C292.9,358.8 296.1,357.2 297.4,356.9 C298.7,356.6 302.4,355.9 303.1,356.2 C303.8,356.5 303.3,358.9 303.8,359.8 C304.3,360.7 306.9,363.0 307.4,364.0 C307.9,365.0 307.9,367.2 308.1,368.3 C308.3,369.4 308.4,372.3 309.0,373.0 C309.6,373.7 312.0,374.4 313.0,374.5 C314.0,374.6 316.7,374.4 317.6,373.6 C318.5,372.8 319.9,369.1 320.6,367.5 C321.3,365.9 323.4,361.2 323.6,360.0 C323.8,358.8 321.4,358.2 322.0,357.5 C322.6,356.8 327.2,354.5 329.1,353.9 C331.0,353.3 336.4,352.3 338.4,352.3 C340.4,352.3 344.3,353.7 346.3,353.9 C348.3,354.1 353.2,354.2 355.6,353.9 C358.0,353.6 363.7,352.1 366.6,351.6 C369.5,351.1 377.5,349.7 380.6,349.2 C383.7,348.7 391.3,347.3 393.1,347.7 C394.9,348.1 395.5,351.1 396.3,352.3 C397.1,353.5 399.5,357.9 400.2,357.8 C400.9,357.7 401.5,352.6 402.5,351.6 C403.5,350.6 407.0,349.5 408.8,349.2 C410.6,348.9 416.8,348.9 418.1,349.2 C419.4,349.5 419.0,351.9 419.7,351.6 C420.4,351.3 423.5,347.8 424.4,346.9 C425.3,346.0 426.6,344.5 427.5,343.8 C428.4,343.1 430.1,341.7 432.0,341.0 C433.9,340.3 442.8,336.3 443.8,337.5 C444.8,338.7 440.1,350.1 440.6,351.6 C441.1,353.1 446.0,350.9 448.4,350.0 C450.8,349.1 458.2,345.4 460.9,343.8 C463.6,342.2 469.9,337.8 471.9,336.7 C473.9,335.6 476.1,334.8 478.1,334.7 C480.1,334.6 487.3,335.2 489.1,335.6 C490.9,336.0 493.3,337.0 493.8,338.3 C494.3,339.6 493.3,345.5 493.8,346.9 C494.3,348.3 496.6,349.0 498.4,350.0 C500.2,351.0 507.2,354.4 509.4,355.5 C511.6,356.6 516.1,358.2 517.2,359.4 C518.3,360.6 517.9,364.3 518.8,365.6 C519.7,366.9 523.2,369.3 525.0,370.3 C526.8,371.3 532.9,373.5 534.4,374.2 C535.9,374.9 537.9,376.1 537.5,376.6 C537.1,377.1 533.5,377.7 531.3,378.1 C529.1,378.5 521.0,378.9 518.8,379.7 C516.6,380.5 513.8,384.1 512.5,385.2 C511.2,386.3 508.7,388.9 507.8,389.1 C506.9,389.3 505.8,387.4 504.7,386.7 C503.6,386.0 499.7,383.6 498.4,382.8 C497.1,382.0 494.5,380.6 493.8,379.7 C493.1,378.8 492.2,376.5 492.2,375.0 C492.2,373.5 494.2,367.6 493.8,367.2 C493.4,366.8 490.2,370.8 489.1,371.9 C488.0,373.0 485.1,375.7 484.4,376.6 C483.7,377.5 482.4,379.2 482.8,379.7 C483.2,380.2 486.8,380.7 487.5,381.3 C488.2,381.9 489.5,384.5 489.1,385.2 C488.7,385.9 486.4,386.7 484.4,387.5 C482.4,388.3 474.1,391.1 471.9,392.2 C469.7,393.3 467.1,396.0 465.6,396.9 C464.1,397.8 461.4,399.5 459.4,400.0 C457.4,400.5 451.0,401.1 448.4,401.6 C445.8,402.1 440.2,403.5 437.5,403.9 C434.8,404.3 441.0,404.5 425.0,404.7 C409.0,404.9 326.2,405.4 300.0,405.5 C273.8,405.6 223.3,405.6 200.0,405.5 C176.7,405.4 111.0,405.7 100.1,405.0Z" fill="url(#gB)"/>
<clipPath id="cBm"><path d="M100.1,405.0 C89.2,404.3 105.0,400.7 106.4,399.8 C107.8,398.9 109.5,397.4 112.2,396.9 C114.9,396.4 125.3,395.6 129.3,395.2 C133.3,394.8 144.0,394.0 146.5,393.5 C149.0,393.0 149.6,391.6 150.5,390.6 C151.4,389.6 153.4,386.2 154.5,384.9 C155.6,383.6 158.5,379.6 159.6,379.2 C160.7,378.8 162.5,380.6 163.6,381.5 C164.7,382.4 168.1,385.9 169.4,386.6 C170.7,387.3 173.6,387.5 175.1,387.8 C176.6,388.1 180.6,388.6 181.9,388.9 C183.2,389.2 185.0,390.6 186.5,390.6 C188.0,390.6 193.0,389.2 194.5,388.9 C196.0,388.6 199.0,388.3 199.1,387.8 C199.2,387.3 195.8,385.5 195.7,384.9 C195.6,384.3 197.1,383.1 198.0,382.6 C198.9,382.1 202.4,381.3 203.7,380.9 C205.0,380.5 208.0,379.1 208.8,379.4 C209.6,379.7 209.6,383.1 210.7,383.2 C211.8,383.3 216.0,380.9 217.8,380.4 C219.6,379.9 224.5,379.0 226.3,379.0 C228.1,379.0 231.9,379.7 233.4,380.4 C234.9,381.1 237.9,384.6 239.1,385.4 C240.3,386.2 242.1,387.6 243.4,387.5 C244.7,387.4 248.7,385.2 250.5,384.6 C252.3,384.0 257.4,382.6 259.0,382.5 C260.6,382.4 263.5,383.4 264.0,383.9 C264.5,384.4 263.7,386.0 263.3,386.8 C262.9,387.6 260.7,390.1 260.5,391.0 C260.3,391.9 260.2,394.3 261.2,394.6 C262.2,394.9 267.3,394.2 269.0,393.9 C270.7,393.6 274.9,392.4 276.1,391.8 C277.3,391.2 279.4,390.1 278.9,388.9 C278.4,387.7 272.5,382.7 271.8,381.1 C271.1,379.5 272.0,376.6 272.5,375.4 C273.0,374.2 276.2,371.9 276.1,371.1 C276.0,370.3 272.2,369.3 271.8,368.3 C271.4,367.3 272.2,364.1 272.5,362.6 C272.8,361.1 273.6,356.8 274.7,355.5 C275.8,354.2 280.4,352.2 281.8,351.2 C283.2,350.2 286.1,346.8 286.8,347.0 C287.5,347.2 287.5,351.3 287.5,352.7 C287.5,354.1 286.3,358.4 286.8,359.1 C287.3,359.8 290.5,359.4 291.7,359.1 C292.9,358.8 296.1,357.2 297.4,356.9 C298.7,356.6 302.4,355.9 303.1,356.2 C303.8,356.5 303.3,358.9 303.8,359.8 C304.3,360.7 306.9,363.0 307.4,364.0 C307.9,365.0 307.9,367.2 308.1,368.3 C308.3,369.4 308.4,372.3 309.0,373.0 C309.6,373.7 312.0,374.4 313.0,374.5 C314.0,374.6 316.7,374.4 317.6,373.6 C318.5,372.8 319.9,369.1 320.6,367.5 C321.3,365.9 323.4,361.2 323.6,360.0 C323.8,358.8 321.4,358.2 322.0,357.5 C322.6,356.8 327.2,354.5 329.1,353.9 C331.0,353.3 336.4,352.3 338.4,352.3 C340.4,352.3 344.3,353.7 346.3,353.9 C348.3,354.1 353.2,354.2 355.6,353.9 C358.0,353.6 363.7,352.1 366.6,351.6 C369.5,351.1 377.5,349.7 380.6,349.2 C383.7,348.7 391.3,347.3 393.1,347.7 C394.9,348.1 395.5,351.1 396.3,352.3 C397.1,353.5 399.5,357.9 400.2,357.8 C400.9,357.7 401.5,352.6 402.5,351.6 C403.5,350.6 407.0,349.5 408.8,349.2 C410.6,348.9 416.8,348.9 418.1,349.2 C419.4,349.5 419.0,351.9 419.7,351.6 C420.4,351.3 423.5,347.8 424.4,346.9 C425.3,346.0 426.6,344.5 427.5,343.8 C428.4,343.1 430.1,341.7 432.0,341.0 C433.9,340.3 442.8,336.3 443.8,337.5 C444.8,338.7 440.1,350.1 440.6,351.6 C441.1,353.1 446.0,350.9 448.4,350.0 C450.8,349.1 458.2,345.4 460.9,343.8 C463.6,342.2 469.9,337.8 471.9,336.7 C473.9,335.6 476.1,334.8 478.1,334.7 C480.1,334.6 487.3,335.2 489.1,335.6 C490.9,336.0 493.3,337.0 493.8,338.3 C494.3,339.6 493.3,345.5 493.8,346.9 C494.3,348.3 496.6,349.0 498.4,350.0 C500.2,351.0 507.2,354.4 509.4,355.5 C511.6,356.6 516.1,358.2 517.2,359.4 C518.3,360.6 517.9,364.3 518.8,365.6 C519.7,366.9 523.2,369.3 525.0,370.3 C526.8,371.3 532.9,373.5 534.4,374.2 C535.9,374.9 537.9,376.1 537.5,376.6 C537.1,377.1 533.5,377.7 531.3,378.1 C529.1,378.5 521.0,378.9 518.8,379.7 C516.6,380.5 513.8,384.1 512.5,385.2 C511.2,386.3 508.7,388.9 507.8,389.1 C506.9,389.3 505.8,387.4 504.7,386.7 C503.6,386.0 499.7,383.6 498.4,382.8 C497.1,382.0 494.5,380.6 493.8,379.7 C493.1,378.8 492.2,376.5 492.2,375.0 C492.2,373.5 494.2,367.6 493.8,367.2 C493.4,366.8 490.2,370.8 489.1,371.9 C488.0,373.0 485.1,375.7 484.4,376.6 C483.7,377.5 482.4,379.2 482.8,379.7 C483.2,380.2 486.8,380.7 487.5,381.3 C488.2,381.9 489.5,384.5 489.1,385.2 C488.7,385.9 486.4,386.7 484.4,387.5 C482.4,388.3 474.1,391.1 471.9,392.2 C469.7,393.3 467.1,396.0 465.6,396.9 C464.1,397.8 461.4,399.5 459.4,400.0 C457.4,400.5 451.0,401.1 448.4,401.6 C445.8,402.1 440.2,403.5 437.5,403.9 C434.8,404.3 441.0,404.5 425.0,404.7 C409.0,404.9 326.2,405.4 300.0,405.5 C273.8,405.6 223.3,405.6 200.0,405.5 C176.7,405.4 111.0,405.7 100.1,405.0Z"/></clipPath>
<g clip-path="url(#cBm)">
<path d="M98.0,334.3 L104.0,334.2 L110.0,332.5 L116.0,332.1 L122.0,333.2 L128.0,332.8 L134.0,331.0 L140.0,330.9 L146.0,332.5 L152.0,332.7 L158.0,331.5 L164.0,331.7" fill="none" stroke="#0b2640" stroke-width="0.74" stroke-opacity="0.43"/>
<path d="M176.0,333.5 L182.0,331.8 L188.0,331.5 L194.0,332.6 L200.0,332.3 L206.0,330.4 L212.0,330.1 L218.0,331.5" fill="none" stroke="#0b2640" stroke-width="0.86" stroke-opacity="0.40"/>
<path d="M230.0,330.4 L236.0,330.6 L242.0,332.3 L248.0,332.6 L254.0,331.1 L260.0,330.8 L266.0,332.0 L272.0,331.7 L278.0,329.9 L284.0,329.3 L290.0,330.6 L296.0,330.7 L302.0,329.4 L308.0,329.4 L314.0,331.2 L320.0,331.6 L326.0,330.3 L332.0,330.0 L338.0,331.3 L344.0,331.2 L350.0,329.3 L356.0,328.7 L362.0,329.8 L368.0,329.9 L374.0,328.4 L380.0,328.3 L386.0,330.0 L392.0,330.6 L398.0,329.3 L404.0,329.2 L410.0,330.6 L416.0,330.6 L422.0,328.8 L428.0,328.1 L434.0,329.2 L440.0,329.2 L446.0,327.6 L452.0,327.3 L458.0,328.9 L464.0,329.5 L470.0,328.3 L476.0,328.2 L482.0,329.7 L488.0,330.0 L494.0,328.3 L500.0,327.5 L506.0,328.5 L512.0,328.6 L518.0,326.9 L524.0,326.3 L530.0,327.8 L536.0,328.4 L542.0,327.3 L548.0,327.1 L554.0,328.7 L560.0,329.2" fill="none" stroke="#0b2640" stroke-width="1.23" stroke-opacity="0.28"/>
<path d="M98.0,334.9 L104.0,335.7 L110.0,335.6 L116.0,335.3 L122.0,336.5 L128.0,337.1" fill="none" stroke="#0b2640" stroke-width="0.83" stroke-opacity="0.28"/>
<path d="M140.0,337.5 L146.0,338.2 L152.0,337.4 L158.0,337.2 L164.0,337.6 L170.0,336.8 L176.0,336.1 L182.0,336.7" fill="none" stroke="#0b2640" stroke-width="0.98" stroke-opacity="0.36"/>
<path d="M194.0,336.1 L200.0,337.1 L206.0,337.8 L212.0,337.5 L218.0,338.2 L224.0,339.1 L230.0,338.6 L236.0,338.4" fill="none" stroke="#0b2640" stroke-width="1.09" stroke-opacity="0.30"/>
<path d="M248.0,338.3 L254.0,337.4 L260.0,337.9 L266.0,337.7 L272.0,337.0 L278.0,337.7 L284.0,338.4 L290.0,338.1 L296.0,338.8 L302.0,339.9 L308.0,339.6 L314.0,339.5 L320.0,340.3 L326.0,339.8 L332.0,338.9 L338.0,339.2 L344.0,339.0 L350.0,338.1 L356.0,338.5 L362.0,339.2 L368.0,338.8 L374.0,339.3 L380.0,340.5" fill="none" stroke="#0b2640" stroke-width="1.24" stroke-opacity="0.27"/>
<path d="M392.0,340.4 L398.0,341.4 L404.0,341.1" fill="none" stroke="#0b2640" stroke-width="1.14" stroke-opacity="0.49"/>
<path d="M416.0,340.6 L422.0,340.5 L428.0,339.4 L434.0,339.6 L440.0,340.1 L446.0,339.6 L452.0,339.9 L458.0,341.1 L464.0,341.1 L470.0,341.1 L476.0,342.2 L482.0,342.3 L488.0,341.6 L494.0,341.9 L500.0,342.0 L506.0,340.8 L512.0,340.7" fill="none" stroke="#0b2640" stroke-width="1.01" stroke-opacity="0.34"/>
<path d="M524.0,340.6 L530.0,340.6 L536.0,341.7 L542.0,341.8 L548.0,341.7 L554.0,342.9 L560.0,343.3" fill="none" stroke="#0b2640" stroke-width="0.73" stroke-opacity="0.38"/>
<path d="M98.0,339.9 L104.0,341.3 L110.0,341.8 L116.0,339.9" fill="none" stroke="#0b2640" stroke-width="1.15" stroke-opacity="0.49"/>
<path d="M128.0,341.1 L134.0,340.7 L140.0,339.9 L146.0,341.6 L152.0,343.1" fill="none" stroke="#0b2640" stroke-width="1.01" stroke-opacity="0.24"/>
<path d="M164.0,341.7 L170.0,343.1 L176.0,342.4 L182.0,340.7 L188.0,341.6 L194.0,343.0 L200.0,342.3 L206.0,342.3 L212.0,344.3 L218.0,344.6 L224.0,343.0 L230.0,343.4 L236.0,344.4 L242.0,343.1 L248.0,342.3 L254.0,344.1 L260.0,345.0 L266.0,344.0 L272.0,344.7 L278.0,346.4 L284.0,345.5 L290.0,344.0 L296.0,345.0 L302.0,345.6" fill="none" stroke="#0b2640" stroke-width="0.85" stroke-opacity="0.42"/>
<path d="M314.0,344.6 L320.0,346.7 L326.0,346.8 L332.0,345.8 L338.0,347.0 L344.0,347.7 L350.0,346.0 L356.0,345.4 L362.0,346.9 L368.0,346.9 L374.0,345.9 L380.0,347.3 L386.0,349.1 L392.0,348.1 L398.0,347.4 L404.0,348.7 L410.0,348.5 L416.0,346.8 L422.0,347.3 L428.0,349.0 L434.0,348.5 L440.0,348.1 L446.0,350.0 L452.0,350.7 L458.0,349.1 L464.0,349.0 L470.0,350.2 L476.0,349.3 L482.0,348.2 L488.0,349.8 L494.0,351.1 L500.0,350.2 L506.0,350.5 L512.0,352.2 L518.0,351.6 L524.0,349.9 L530.0,350.6 L536.0,351.5 L542.0,350.4 L548.0,350.3 L554.0,352.5 L560.0,353.0" fill="none" stroke="#0b2640" stroke-width="0.98" stroke-opacity="0.47"/>
<path d="M98.0,344.7 L104.0,344.5 L110.0,342.9 L116.0,342.3 L122.0,344.6 L128.0,345.6 L134.0,344.8 L140.0,345.1 L146.0,344.4 L152.0,341.7 L158.0,341.1 L164.0,342.7 L170.0,342.8 L176.0,343.2 L182.0,344.8 L188.0,343.9 L194.0,341.3 L200.0,340.9 L206.0,340.9 L212.0,340.1 L218.0,341.3 L224.0,343.5" fill="none" stroke="#0b2640" stroke-width="0.92" stroke-opacity="0.49"/>
<path d="M236.0,341.3 L242.0,341.2 L248.0,339.7 L254.0,338.1 L260.0,339.5" fill="none" stroke="#0b2640" stroke-width="0.93" stroke-opacity="0.37"/>
<path d="M272.0,340.9 L278.0,341.2 L284.0,341.4 L290.0,338.9 L296.0,337.2 L302.0,338.1 L308.0,338.5 L314.0,338.5 L320.0,340.3 L326.0,340.8 L332.0,338.5 L338.0,337.3 L344.0,337.3 L350.0,336.1 L356.0,336.3 L362.0,338.8 L368.0,339.2 L374.0,337.9 L380.0,337.8 L386.0,336.8 L392.0,334.4 L398.0,334.7" fill="none" stroke="#0b2640" stroke-width="1.22" stroke-opacity="0.34"/>
<path d="M410.0,336.7 L416.0,336.9 L422.0,337.9 L428.0,336.3 L434.0,333.8 L440.0,333.9 L446.0,334.3 L452.0,333.9 L458.0,335.5" fill="none" stroke="#0b2640" stroke-width="1.09" stroke-opacity="0.30"/>
<path d="M470.0,335.6 L476.0,333.9 L482.0,333.7 L488.0,332.5 L494.0,331.6 L500.0,333.7 L506.0,335.1 L512.0,334.3 L518.0,334.1 L524.0,333.8 L530.0,331.3 L536.0,330.2 L542.0,331.9 L548.0,332.4" fill="none" stroke="#0b2640" stroke-width="1.02" stroke-opacity="0.35"/>
<path d="M98.0,350.9 L104.0,351.7 L110.0,350.7 L116.0,349.1 L122.0,349.2 L128.0,350.0 L134.0,349.2 L140.0,348.2 L146.0,349.2 L152.0,350.6 L158.0,350.4 L164.0,349.7 L170.0,350.6 L176.0,351.6 L182.0,350.6 L188.0,349.2 L194.0,349.5 L200.0,349.9 L206.0,348.7 L212.0,347.6 L218.0,348.5 L224.0,349.6 L230.0,349.1 L236.0,348.7 L242.0,350.0 L248.0,351.1 L254.0,350.2 L260.0,349.2 L266.0,349.8 L272.0,350.1 L278.0,348.6 L284.0,347.4 L290.0,348.1 L296.0,348.8 L302.0,348.0 L308.0,347.6 L314.0,349.1 L320.0,350.2 L326.0,349.4 L332.0,348.9 L338.0,349.9 L344.0,350.2 L350.0,348.6 L356.0,347.5 L362.0,348.1 L368.0,348.4 L374.0,347.1 L380.0,346.7 L386.0,348.2 L392.0,349.1 L398.0,348.3 L404.0,348.2 L410.0,349.6 L416.0,350.0 L422.0,348.5 L428.0,347.7 L434.0,348.4 L440.0,348.3 L446.0,346.7 L452.0,346.2 L458.0,347.4 L464.0,348.0 L470.0,347.1 L476.0,347.3 L482.0,348.9 L488.0,349.4 L494.0,348.2" fill="none" stroke="#0b2640" stroke-width="1.08" stroke-opacity="0.29"/>
<path d="M506.0,348.7 L512.0,348.3 L518.0,346.5 L524.0,346.0 L530.0,347.0 L536.0,347.1 L542.0,346.0 L548.0,346.3 L554.0,348.0 L560.0,348.4" fill="none" stroke="#0b2640" stroke-width="0.89" stroke-opacity="0.25"/>
<path d="M98.0,354.9 L104.0,354.8 L110.0,354.4 L116.0,355.8 L122.0,355.7 L128.0,355.8 L134.0,356.6 L140.0,355.4 L146.0,355.1 L152.0,355.0 L158.0,353.7 L164.0,354.3 L170.0,354.5 L176.0,354.2 L182.0,355.6 L188.0,355.4 L194.0,355.2 L200.0,355.7 L206.0,354.3 L212.0,354.0 L218.0,354.1 L224.0,353.0 L230.0,353.8 L236.0,354.2 L242.0,354.0 L248.0,355.3 L254.0,354.9 L260.0,354.4 L266.0,354.7 L272.0,353.3 L278.0,353.1 L284.0,353.3 L290.0,352.5" fill="none" stroke="#0b2640" stroke-width="1.00" stroke-opacity="0.42"/>
<path d="M302.0,354.1 L308.0,353.7 L314.0,354.8 L320.0,354.1 L326.0,353.4 L332.0,353.7 L338.0,352.3 L344.0,352.3 L350.0,352.8" fill="none" stroke="#0b2640" stroke-width="0.80" stroke-opacity="0.48"/>
<path d="M362.0,353.4 L368.0,353.8 L374.0,353.3 L380.0,354.1 L386.0,353.2 L392.0,352.3 L398.0,352.7 L404.0,351.5" fill="none" stroke="#0b2640" stroke-width="1.19" stroke-opacity="0.24"/>
<path d="M416.0,352.5 L422.0,352.0 L428.0,353.2 L434.0,353.5 L440.0,352.6 L446.0,353.2 L452.0,352.1 L458.0,351.3 L464.0,351.8 L470.0,350.8 L476.0,351.3 L482.0,352.3 L488.0,351.8 L494.0,352.8 L500.0,352.9 L506.0,351.8 L512.0,352.2 L518.0,351.1 L524.0,350.4" fill="none" stroke="#0b2640" stroke-width="0.83" stroke-opacity="0.39"/>
<path d="M536.0,350.5 L542.0,351.1 L548.0,352.1 L554.0,351.5 L560.0,352.2" fill="none" stroke="#0b2640" stroke-width="0.88" stroke-opacity="0.32"/>
<path d="M98.0,359.2 L104.0,359.3 L110.0,358.9 L116.0,361.0 L122.0,361.8 L128.0,360.1" fill="none" stroke="#0b2640" stroke-width="0.88" stroke-opacity="0.46"/>
<path d="M140.0,360.3 L146.0,358.2 L152.0,356.5 L158.0,357.7 L164.0,357.9 L170.0,356.9 L176.0,358.6 L182.0,360.5 L188.0,359.7" fill="none" stroke="#0b2640" stroke-width="1.22" stroke-opacity="0.21"/>
<path d="M200.0,360.4 L206.0,359.1 L212.0,356.7 L218.0,357.0" fill="none" stroke="#0b2640" stroke-width="0.89" stroke-opacity="0.27"/>
<path d="M230.0,355.6 L236.0,356.1 L242.0,358.5 L248.0,358.5 L254.0,358.0 L260.0,359.7 L266.0,359.7 L272.0,357.4 L278.0,356.9 L284.0,357.3 L290.0,355.4 L296.0,354.4 L302.0,356.3 L308.0,356.9 L314.0,356.2 L320.0,357.9 L326.0,359.3 L332.0,357.7 L338.0,356.9 L344.0,357.6 L350.0,356.0 L356.0,353.9 L362.0,354.7 L368.0,355.5 L374.0,354.4 L380.0,355.5 L386.0,357.8 L392.0,357.4 L398.0,356.5 L404.0,357.5 L410.0,356.9 L416.0,354.3 L422.0,354.0 L428.0,354.7 L434.0,353.3 L440.0,353.2 L446.0,355.6 L452.0,356.1 L458.0,355.3 L464.0,356.7 L470.0,357.3 L476.0,355.1 L482.0,354.0 L488.0,354.6 L494.0,353.1 L500.0,351.7 L506.0,353.3 L512.0,354.5 L518.0,353.7 L524.0,354.8 L530.0,356.7 L536.0,355.5 L542.0,354.1 L548.0,354.8 L554.0,353.8 L560.0,351.3" fill="none" stroke="#0b2640" stroke-width="0.85" stroke-opacity="0.30"/>
<path d="M98.0,362.3 L104.0,364.0 L110.0,365.3 L116.0,364.4 L122.0,364.2 L128.0,364.8 L134.0,363.4 L140.0,361.4 L146.0,362.4 L152.0,364.7 L158.0,364.4 L164.0,362.9 L170.0,363.0 L176.0,362.8 L182.0,361.1 L188.0,361.0 L194.0,363.4 L200.0,364.2 L206.0,362.2 L212.0,361.0 L218.0,361.6 L224.0,361.1 L230.0,360.3 L236.0,361.8 L242.0,363.5 L248.0,361.9 L254.0,359.6 L260.0,359.9 L266.0,360.7 L272.0,360.1 L278.0,360.4 L284.0,362.1 L290.0,361.5 L296.0,358.8 L302.0,358.1 L308.0,359.8 L314.0,360.2 L320.0,359.5 L326.0,360.3" fill="none" stroke="#0b2640" stroke-width="1.18" stroke-opacity="0.40"/>
<path d="M338.0,358.4 L344.0,356.8 L350.0,358.3 L356.0,360.0 L362.0,359.3 L368.0,358.6 L374.0,359.1 L380.0,358.1 L386.0,356.1 L392.0,356.8 L398.0,359.2" fill="none" stroke="#0b2640" stroke-width="1.01" stroke-opacity="0.47"/>
<path d="M410.0,357.4 L416.0,357.2 L422.0,357.3 L428.0,356.0 L434.0,355.6 L440.0,357.8 L446.0,358.9 L452.0,356.9 L458.0,355.4 L464.0,355.9 L470.0,355.9 L476.0,355.0 L482.0,356.2 L488.0,357.9 L494.0,356.7 L500.0,354.1 L506.0,354.2 L512.0,355.4 L518.0,355.0 L524.0,354.9 L530.0,356.4 L536.0,356.2 L542.0,353.5 L548.0,352.5 L554.0,354.2 L560.0,355.1" fill="none" stroke="#0b2640" stroke-width="0.72" stroke-opacity="0.49"/>
<path d="M98.0,368.9 L104.0,368.4 L110.0,369.5 L116.0,370.1 L122.0,368.6 L128.0,366.3" fill="none" stroke="#0b2640" stroke-width="1.02" stroke-opacity="0.37"/>
<path d="M140.0,366.5 L146.0,366.6 L152.0,365.4 L158.0,364.8 L164.0,366.3 L170.0,368.3" fill="none" stroke="#0b2640" stroke-width="1.27" stroke-opacity="0.35"/>
<path d="M182.0,366.9 L188.0,366.4 L194.0,367.2 L200.0,367.1 L206.0,365.1 L212.0,363.1 L218.0,363.2 L224.0,364.5 L230.0,364.7 L236.0,363.7" fill="none" stroke="#0b2640" stroke-width="0.95" stroke-opacity="0.43"/>
<path d="M248.0,365.6 L254.0,366.9 L260.0,366.1 L266.0,364.2" fill="none" stroke="#0b2640" stroke-width="1.24" stroke-opacity="0.36"/>
<path d="M278.0,364.4 L284.0,363.9 L290.0,361.8 L296.0,360.5 L302.0,361.5 L308.0,363.2 L314.0,363.2 L320.0,362.3 L326.0,362.7 L332.0,364.3 L338.0,364.8 L344.0,363.1 L350.0,361.1 L356.0,360.9 L362.0,361.6 L368.0,360.8 L374.0,359.1 L380.0,358.8 L386.0,360.5 L392.0,362.1" fill="none" stroke="#0b2640" stroke-width="1.09" stroke-opacity="0.43"/>
<path d="M404.0,360.8 L410.0,361.2 L416.0,362.4 L422.0,362.0 L428.0,359.7 L434.0,358.0 L440.0,358.3 L446.0,359.1 L452.0,358.4 L458.0,357.1 L464.0,357.7 L470.0,359.8 L476.0,360.9 L482.0,359.9" fill="none" stroke="#0b2640" stroke-width="0.77" stroke-opacity="0.49"/>
<path d="M494.0,359.1 L500.0,359.7 L506.0,358.6 L512.0,356.2 L518.0,355.2 L524.0,356.2 L530.0,357.1 L536.0,356.5 L542.0,355.8 L548.0,356.8 L554.0,358.8 L560.0,359.0" fill="none" stroke="#0b2640" stroke-width="1.07" stroke-opacity="0.39"/>
<path d="M98.0,373.3 L104.0,374.3 L110.0,373.4 L116.0,371.9 L122.0,371.7 L128.0,372.3 L134.0,371.5 L140.0,370.2 L146.0,370.6 L152.0,372.0 L158.0,372.3 L164.0,371.6 L170.0,372.1 L176.0,373.5 L182.0,373.4 L188.0,371.9 L194.0,371.4 L200.0,372.0 L206.0,371.6" fill="none" stroke="#0b2640" stroke-width="1.21" stroke-opacity="0.48"/>
<path d="M218.0,369.6 L224.0,370.8 L230.0,371.4 L236.0,370.7 L242.0,370.8 L248.0,372.4 L254.0,373.0 L260.0,371.9 L266.0,371.1 L272.0,371.7 L278.0,371.7 L284.0,370.1 L290.0,369.0 L296.0,369.8 L302.0,370.5" fill="none" stroke="#0b2640" stroke-width="1.17" stroke-opacity="0.39"/>
<path d="M314.0,369.6 L320.0,371.0 L326.0,372.2" fill="none" stroke="#0b2640" stroke-width="0.83" stroke-opacity="0.25"/>
<path d="M338.0,370.7 L344.0,371.2 L350.0,371.7 L356.0,370.4 L362.0,368.8 L368.0,369.0 L374.0,369.8 L380.0,369.3 L386.0,368.5 L392.0,369.4 L398.0,371.0 L404.0,371.1 L410.0,370.2 L416.0,370.5 L422.0,371.4 L428.0,370.7 L434.0,368.9 L440.0,368.5 L446.0,369.2 L452.0,368.9 L458.0,367.8 L464.0,368.0 L470.0,369.7 L476.0,370.2 L482.0,369.5 L488.0,369.6 L494.0,370.8 L500.0,370.8 L506.0,369.2 L512.0,368.3 L518.0,368.8 L524.0,368.7 L530.0,367.4 L536.0,366.9 L542.0,368.3 L548.0,369.2 L554.0,368.7 L560.0,368.5" fill="none" stroke="#0b2640" stroke-width="0.70" stroke-opacity="0.42"/>
<path d="M98.0,376.1 L104.0,375.4 L110.0,377.1 L116.0,376.2 L122.0,377.6 L128.0,376.4 L134.0,377.5 L140.0,376.0 L146.0,377.0 L152.0,375.6 L158.0,376.7 L164.0,375.8 L170.0,377.1 L176.0,376.5 L182.0,378.0 L188.0,377.6 L194.0,378.9 L200.0,378.4" fill="none" stroke="#0b2640" stroke-width="1.04" stroke-opacity="0.48"/>
<path d="M212.0,378.5 L218.0,379.0 L224.0,378.1 L230.0,378.4 L236.0,377.8 L242.0,378.2 L248.0,378.1" fill="none" stroke="#0b2640" stroke-width="0.84" stroke-opacity="0.44"/>
<path d="M260.0,379.0 L266.0,379.6 L272.0,380.1 L278.0,380.4 L284.0,380.7 L290.0,380.7 L296.0,380.8 L302.0,380.3 L308.0,380.3 L314.0,379.7 L320.0,380.1" fill="none" stroke="#0b2640" stroke-width="0.75" stroke-opacity="0.31"/>
<path d="M332.0,380.5 L338.0,380.3 L344.0,381.4 L350.0,381.2 L356.0,382.5 L362.0,382.0 L368.0,383.0 L374.0,382.1 L380.0,382.9 L386.0,381.7 L392.0,382.5 L398.0,381.2 L404.0,382.3" fill="none" stroke="#0b2640" stroke-width="0.96" stroke-opacity="0.26"/>
<path d="M416.0,382.8 L422.0,382.0 L428.0,383.8 L434.0,383.0 L440.0,384.7 L446.0,383.7 L452.0,385.1 L458.0,383.7 L464.0,384.9 L470.0,383.3 L476.0,384.4 L482.0,382.9 L488.0,384.2 L494.0,383.2 L500.0,384.8 L506.0,384.0 L512.0,385.8 L518.0,385.1 L524.0,386.6 L530.0,385.7 L536.0,386.9 L542.0,385.7 L548.0,386.5 L554.0,385.2 L560.0,386.0" fill="none" stroke="#0b2640" stroke-width="1.09" stroke-opacity="0.33"/>
<path d="M98.0,382.7 L104.0,381.3 L110.0,379.6 L116.0,379.1 L122.0,379.9 L128.0,380.9 L134.0,381.5 L140.0,381.9 L146.0,382.3 L152.0,382.4 L158.0,381.4 L164.0,379.9 L170.0,379.3 L176.0,380.4 L182.0,382.3 L188.0,383.3 L194.0,382.9 L200.0,382.0 L206.0,381.5 L212.0,381.2 L218.0,380.7 L224.0,380.5 L230.0,381.4 L236.0,383.1 L242.0,384.2 L248.0,383.6 L254.0,381.9 L260.0,380.7 L266.0,380.9 L272.0,381.8 L278.0,382.4 L284.0,382.9 L290.0,383.5 L296.0,384.0 L302.0,383.6 L308.0,382.0 L314.0,380.7 L320.0,381.0 L326.0,382.7 L332.0,384.2 L338.0,384.4" fill="none" stroke="#0b2640" stroke-width="1.08" stroke-opacity="0.35"/>
<path d="M350.0,383.3 L356.0,383.0 L362.0,382.4 L368.0,381.8" fill="none" stroke="#0b2640" stroke-width="0.83" stroke-opacity="0.26"/>
<path d="M380.0,383.5 L386.0,385.2 L392.0,385.5 L398.0,384.1 L404.0,382.6 L410.0,382.2 L416.0,382.7 L422.0,383.3 L428.0,383.8 L434.0,384.5 L440.0,385.4 L446.0,385.5 L452.0,384.3 L458.0,382.6 L464.0,382.1 L470.0,383.2 L476.0,384.8 L482.0,385.6 L488.0,385.5 L494.0,385.1 L500.0,384.8 L506.0,384.2 L512.0,383.3 L518.0,382.9" fill="none" stroke="#0b2640" stroke-width="1.14" stroke-opacity="0.45"/>
<path d="M530.0,385.8 L536.0,386.9 L542.0,386.3 L548.0,384.8 L554.0,383.9 L560.0,383.9" fill="none" stroke="#0b2640" stroke-width="0.96" stroke-opacity="0.50"/>
<path d="M98.0,388.0 L104.0,388.1 L110.0,386.5 L116.0,384.8 L122.0,384.1" fill="none" stroke="#0b2640" stroke-width="1.24" stroke-opacity="0.48"/>
<path d="M134.0,384.9 L140.0,385.9 L146.0,386.9 L152.0,386.7 L158.0,384.8 L164.0,382.8 L170.0,382.5 L176.0,384.0 L182.0,385.5 L188.0,385.8 L194.0,385.2 L200.0,384.2 L206.0,383.0 L212.0,382.0 L218.0,382.0" fill="none" stroke="#0b2640" stroke-width="1.10" stroke-opacity="0.24"/>
<path d="M230.0,385.3 L236.0,385.2 L242.0,383.4" fill="none" stroke="#0b2640" stroke-width="1.09" stroke-opacity="0.41"/>
<path d="M254.0,381.0 L260.0,381.7 L266.0,382.6 L272.0,383.4 L278.0,383.9 L284.0,383.5 L290.0,381.7 L296.0,379.9" fill="none" stroke="#0b2640" stroke-width="0.84" stroke-opacity="0.33"/>
<path d="M308.0,381.3 L314.0,383.0 L320.0,383.2 L326.0,382.1 L332.0,380.8" fill="none" stroke="#0b2640" stroke-width="1.24" stroke-opacity="0.47"/>
<path d="M344.0,379.3 L350.0,379.6 L356.0,381.0 L362.0,382.4 L368.0,382.3 L374.0,380.4 L380.0,378.4 L386.0,378.0 L392.0,379.1 L398.0,380.2 L404.0,380.8 L410.0,380.9 L416.0,380.2 L422.0,378.7 L428.0,377.1" fill="none" stroke="#0b2640" stroke-width="1.03" stroke-opacity="0.42"/>
<path d="M440.0,378.7 L446.0,380.5 L452.0,380.5 L458.0,379.0 L464.0,377.5 L470.0,376.8 L476.0,376.7 L482.0,377.2 L488.0,378.4 L494.0,379.5" fill="none" stroke="#0b2640" stroke-width="0.87" stroke-opacity="0.22"/>
<path d="M506.0,377.3 L512.0,375.3 L518.0,375.1 L524.0,376.5 L530.0,377.8" fill="none" stroke="#0b2640" stroke-width="0.85" stroke-opacity="0.28"/>
<path d="M542.0,377.8 L548.0,376.9 L554.0,375.6 L560.0,374.3" fill="none" stroke="#0b2640" stroke-width="1.10" stroke-opacity="0.27"/>
<path d="M98.0,390.9 L104.0,391.3 L110.0,389.7 L116.0,389.0 L122.0,390.8 L128.0,391.6 L134.0,390.2 L140.0,389.8 L146.0,391.4 L152.0,391.6 L158.0,389.6 L164.0,388.8 L170.0,390.1 L176.0,390.2 L182.0,388.5 L188.0,388.4 L194.0,390.3 L200.0,390.6 L206.0,389.1" fill="none" stroke="#0b2640" stroke-width="0.86" stroke-opacity="0.37"/>
<path d="M218.0,390.6 L224.0,390.3 L230.0,388.2 L236.0,388.0 L242.0,389.3 L248.0,389.0 L254.0,387.4 L260.0,387.8 L266.0,389.7 L272.0,389.5 L278.0,388.0 L284.0,388.4 L290.0,389.8 L296.0,388.9 L302.0,387.0 L308.0,387.2 L314.0,388.5 L320.0,387.7 L326.0,386.4 L332.0,387.3 L338.0,389.0 L344.0,388.4 L350.0,387.0 L356.0,387.8 L362.0,388.8 L368.0,387.5 L374.0,385.8 L380.0,386.5 L386.0,387.6 L392.0,386.5 L398.0,385.5 L404.0,386.9" fill="none" stroke="#0b2640" stroke-width="1.18" stroke-opacity="0.44"/>
<path d="M416.0,387.2 L422.0,386.0 L428.0,387.1 L434.0,387.8 L440.0,386.0 L446.0,384.7 L452.0,385.8 L458.0,386.7 L464.0,385.3" fill="none" stroke="#0b2640" stroke-width="0.88" stroke-opacity="0.44"/>
<path d="M476.0,386.4 L482.0,387.4 L488.0,385.9 L494.0,385.1 L500.0,386.4 L506.0,386.6 L512.0,384.6 L518.0,383.8 L524.0,385.2 L530.0,385.7 L536.0,384.2 L542.0,384.1 L548.0,385.9 L554.0,386.4 L560.0,384.7" fill="none" stroke="#0b2640" stroke-width="0.75" stroke-opacity="0.43"/>
<path d="M98.0,395.2 L104.0,396.8 L110.0,396.9 L116.0,395.5 L122.0,396.1 L128.0,396.8 L134.0,395.3 L140.0,394.8 L146.0,396.0 L152.0,395.6 L158.0,394.5 L164.0,395.8 L170.0,396.7 L176.0,395.6 L182.0,396.1 L188.0,397.7 L194.0,397.1 L200.0,396.3 L206.0,397.6 L212.0,397.5 L218.0,395.9 L224.0,396.3 L230.0,397.1 L236.0,395.7 L242.0,395.3 L248.0,396.9 L254.0,396.7 L260.0,395.8 L266.0,397.2 L272.0,398.2 L278.0,397.1 L284.0,397.4 L290.0,398.8 L296.0,397.9 L302.0,396.8 L308.0,397.9 L314.0,397.8 L320.0,396.2" fill="none" stroke="#0b2640" stroke-width="0.86" stroke-opacity="0.27"/>
<path d="M332.0,397.7 L338.0,396.6 L344.0,396.5 L350.0,398.2 L356.0,398.2 L362.0,397.3 L368.0,398.6 L374.0,399.5 L380.0,398.1 L386.0,398.1 L392.0,399.3 L398.0,398.2 L404.0,397.1 L410.0,398.1 L416.0,398.2 L422.0,396.8 L428.0,397.5 L434.0,398.9 L440.0,398.1 L446.0,397.9 L452.0,399.7 L458.0,399.7 L464.0,398.6" fill="none" stroke="#0b2640" stroke-width="1.26" stroke-opacity="0.45"/>
<path d="M476.0,400.2 L482.0,398.6 L488.0,398.4 L494.0,399.5 L500.0,398.6 L506.0,397.5 L512.0,398.8 L518.0,399.2 L524.0,398.1 L530.0,398.9 L536.0,400.4 L542.0,399.6 L548.0,399.3 L554.0,400.9" fill="none" stroke="#0b2640" stroke-width="0.99" stroke-opacity="0.27"/>
<path d="M98.0,401.1 L104.0,401.5 L110.0,401.9 L116.0,401.3 L122.0,399.7 L128.0,398.7 L134.0,398.6 L140.0,398.5 L146.0,398.9 L152.0,400.5 L158.0,401.9 L164.0,402.1 L170.0,402.1 L176.0,401.9 L182.0,400.7 L188.0,399.2 L194.0,398.8 L200.0,399.3 L206.0,399.6 L212.0,400.5 L218.0,402.2 L224.0,403.1 L230.0,402.6 L236.0,402.1 L242.0,401.5 L248.0,400.2" fill="none" stroke="#0b2640" stroke-width="1.03" stroke-opacity="0.35"/>
<path d="M260.0,399.5 L266.0,400.5 L272.0,401.1 L278.0,402.3 L284.0,403.6 L290.0,403.6 L296.0,402.5 L302.0,401.8 L308.0,401.1 L314.0,399.9 L320.0,399.7 L326.0,400.8 L332.0,402.0 L338.0,402.7 L344.0,403.7 L350.0,404.3 L356.0,403.5 L362.0,402.1 L368.0,401.5 L374.0,400.9 L380.0,400.3 L386.0,400.9" fill="none" stroke="#0b2640" stroke-width="0.86" stroke-opacity="0.44"/>
<path d="M398.0,403.5 L404.0,404.0 L410.0,404.6 L416.0,404.4 L422.0,402.9 L428.0,401.7 L434.0,401.4 L440.0,401.2 L446.0,401.3 L452.0,402.6 L458.0,404.2 L464.0,404.8" fill="none" stroke="#0b2640" stroke-width="1.01" stroke-opacity="0.38"/>
<path d="M476.0,404.8 L482.0,404.0 L488.0,402.3 L494.0,401.6 L500.0,401.9 L506.0,402.1 L512.0,402.8 L518.0,404.4 L524.0,405.6 L530.0,405.5 L536.0,405.0 L542.0,404.6 L548.0,403.4 L554.0,402.0 L560.0,402.0" fill="none" stroke="#0b2640" stroke-width="1.03" stroke-opacity="0.38"/>
<path d="M98.0,403.2 L104.0,401.6 L110.0,402.9 L116.0,403.7 L122.0,404.5 L128.0,406.8 L134.0,406.6 L140.0,404.2" fill="none" stroke="#0b2640" stroke-width="1.28" stroke-opacity="0.26"/>
<path d="M152.0,403.4 L158.0,402.8 L164.0,404.9 L170.0,407.3 L176.0,406.7 L182.0,406.1" fill="none" stroke="#0b2640" stroke-width="1.18" stroke-opacity="0.31"/>
<path d="M194.0,403.5 L200.0,403.1 L206.0,405.5 L212.0,406.5 L218.0,407.0 L224.0,408.3 L230.0,406.8 L236.0,404.3 L242.0,404.6 L248.0,405.3 L254.0,405.5 L260.0,407.9 L266.0,409.3 L272.0,407.4 L278.0,406.4 L284.0,406.1" fill="none" stroke="#0b2640" stroke-width="0.82" stroke-opacity="0.28"/>
<path d="M296.0,405.6 L302.0,408.5 L308.0,409.0 L314.0,408.6 L320.0,408.8 L326.0,406.8 L332.0,405.0 L338.0,406.5" fill="none" stroke="#0b2640" stroke-width="0.75" stroke-opacity="0.49"/>
<path d="M350.0,408.4 L356.0,410.2 L362.0,410.2 L368.0,407.5 L374.0,406.8 L380.0,407.2 L386.0,406.9 L392.0,408.7 L398.0,411.2 L404.0,410.5 L410.0,409.2 L416.0,409.0 L422.0,407.3 L428.0,406.7 L434.0,409.3 L440.0,410.7 L446.0,410.7 L452.0,411.5 L458.0,410.4 L464.0,407.7 L470.0,407.9 L476.0,409.3 L482.0,409.7 L488.0,411.5 L494.0,413.0 L500.0,411.0 L506.0,409.4 L512.0,409.5 L518.0,408.7 L524.0,409.4 L530.0,412.3 L536.0,413.0 L542.0,411.9 L548.0,411.9" fill="none" stroke="#0b2640" stroke-width="1.02" stroke-opacity="0.36"/>
<path d="M98.0,408.3 L104.0,408.1 L110.0,408.6 L116.0,407.7" fill="none" stroke="#0b2640" stroke-width="1.11" stroke-opacity="0.27"/>
<path d="M128.0,407.3 L134.0,407.7 L140.0,407.3 L146.0,408.0 L152.0,409.4 L158.0,409.1 L164.0,408.6 L170.0,409.2 L176.0,408.8 L182.0,407.5 L188.0,407.5 L194.0,408.2" fill="none" stroke="#0b2640" stroke-width="0.87" stroke-opacity="0.32"/>
<path d="M206.0,407.9 L212.0,409.4 L218.0,409.7 L224.0,409.1 L230.0,409.6 L236.0,409.9 L242.0,408.6 L248.0,408.0 L254.0,408.6 L260.0,408.4 L266.0,407.9 L272.0,409.2 L278.0,410.1 L284.0,409.7 L290.0,409.9 L296.0,410.6" fill="none" stroke="#0b2640" stroke-width="1.15" stroke-opacity="0.26"/>
<path d="M308.0,408.6 L314.0,409.0 L320.0,409.1 L326.0,408.3 L332.0,408.9 L338.0,410.3" fill="none" stroke="#0b2640" stroke-width="1.03" stroke-opacity="0.36"/>
<path d="M350.0,410.1 L356.0,411.0 L362.0,410.9 L368.0,409.5 L374.0,409.5 L380.0,409.8 L386.0,409.0 L392.0,408.9 L398.0,410.2 L404.0,410.7 L410.0,410.4 L416.0,411.2 L422.0,411.7" fill="none" stroke="#0b2640" stroke-width="0.72" stroke-opacity="0.45"/>
<path d="M434.0,410.0 L440.0,410.5 L446.0,409.8 L452.0,409.1 L458.0,410.1 L464.0,411.0 L470.0,410.7" fill="none" stroke="#0b2640" stroke-width="0.90" stroke-opacity="0.37"/>
<path d="M482.0,412.3 L488.0,411.7 L494.0,410.7 L500.0,411.1 L506.0,410.8 L512.0,409.7 L518.0,410.1 L524.0,411.2 L530.0,411.1 L536.0,411.2 L542.0,412.5 L548.0,412.6 L554.0,411.6 L560.0,411.6" fill="none" stroke="#0b2640" stroke-width="1.20" stroke-opacity="0.28"/>
<path d="M100.1,405.0 C89.2,404.3 105.0,400.7 106.4,399.8 C107.8,398.9 109.5,397.4 112.2,396.9 C114.9,396.4 125.3,395.6 129.3,395.2 C133.3,394.8 144.0,394.0 146.5,393.5 C149.0,393.0 149.6,391.6 150.5,390.6 C151.4,389.6 153.4,386.2 154.5,384.9 C155.6,383.6 158.5,379.6 159.6,379.2 C160.7,378.8 162.5,380.6 163.6,381.5 C164.7,382.4 168.1,385.9 169.4,386.6 C170.7,387.3 173.6,387.5 175.1,387.8 C176.6,388.1 180.6,388.6 181.9,388.9 C183.2,389.2 185.0,390.6 186.5,390.6 C188.0,390.6 193.0,389.2 194.5,388.9 C196.0,388.6 199.0,388.3 199.1,387.8 C199.2,387.3 195.8,385.5 195.7,384.9 C195.6,384.3 197.1,383.1 198.0,382.6 C198.9,382.1 202.4,381.3 203.7,380.9 C205.0,380.5 208.0,379.1 208.8,379.4 C209.6,379.7 209.6,383.1 210.7,383.2 C211.8,383.3 216.0,380.9 217.8,380.4 C219.6,379.9 224.5,379.0 226.3,379.0 C228.1,379.0 231.9,379.7 233.4,380.4 C234.9,381.1 237.9,384.6 239.1,385.4 C240.3,386.2 242.1,387.6 243.4,387.5 C244.7,387.4 248.7,385.2 250.5,384.6 C252.3,384.0 257.4,382.6 259.0,382.5 C260.6,382.4 263.5,383.4 264.0,383.9 C264.5,384.4 263.7,386.0 263.3,386.8 C262.9,387.6 260.7,390.1 260.5,391.0 C260.3,391.9 260.2,394.3 261.2,394.6 C262.2,394.9 267.3,394.2 269.0,393.9 C270.7,393.6 274.9,392.4 276.1,391.8 C277.3,391.2 279.4,390.1 278.9,388.9 C278.4,387.7 272.5,382.7 271.8,381.1 C271.1,379.5 272.0,376.6 272.5,375.4 C273.0,374.2 276.2,371.9 276.1,371.1 C276.0,370.3 272.2,369.3 271.8,368.3 C271.4,367.3 272.2,364.1 272.5,362.6 C272.8,361.1 273.6,356.8 274.7,355.5 C275.8,354.2 280.4,352.2 281.8,351.2 C283.2,350.2 286.1,346.8 286.8,347.0 C287.5,347.2 287.5,351.3 287.5,352.7 C287.5,354.1 286.3,358.4 286.8,359.1 C287.3,359.8 290.5,359.4 291.7,359.1 C292.9,358.8 296.1,357.2 297.4,356.9 C298.7,356.6 302.4,355.9 303.1,356.2 C303.8,356.5 303.3,358.9 303.8,359.8 C304.3,360.7 306.9,363.0 307.4,364.0 C307.9,365.0 307.9,367.2 308.1,368.3 C308.3,369.4 308.4,372.3 309.0,373.0 C309.6,373.7 312.0,374.4 313.0,374.5 C314.0,374.6 316.7,374.4 317.6,373.6 C318.5,372.8 319.9,369.1 320.6,367.5 C321.3,365.9 323.4,361.2 323.6,360.0 C323.8,358.8 321.4,358.2 322.0,357.5 C322.6,356.8 327.2,354.5 329.1,353.9 C331.0,353.3 336.4,352.3 338.4,352.3 C340.4,352.3 344.3,353.7 346.3,353.9 C348.3,354.1 353.2,354.2 355.6,353.9 C358.0,353.6 363.7,352.1 366.6,351.6 C369.5,351.1 377.5,349.7 380.6,349.2 C383.7,348.7 391.3,347.3 393.1,347.7 C394.9,348.1 395.5,351.1 396.3,352.3 C397.1,353.5 399.5,357.9 400.2,357.8 C400.9,357.7 401.5,352.6 402.5,351.6 C403.5,350.6 407.0,349.5 408.8,349.2 C410.6,348.9 416.8,348.9 418.1,349.2 C419.4,349.5 419.0,351.9 419.7,351.6 C420.4,351.3 423.5,347.8 424.4,346.9 C425.3,346.0 426.6,344.5 427.5,343.8 C428.4,343.1 430.1,341.7 432.0,341.0 C433.9,340.3 442.8,336.3 443.8,337.5 C444.8,338.7 440.1,350.1 440.6,351.6 C441.1,353.1 446.0,350.9 448.4,350.0 C450.8,349.1 458.2,345.4 460.9,343.8 C463.6,342.2 469.9,337.8 471.9,336.7 C473.9,335.6 476.1,334.8 478.1,334.7 C480.1,334.6 487.3,335.2 489.1,335.6 C490.9,336.0 493.3,337.0 493.8,338.3 C494.3,339.6 493.3,345.5 493.8,346.9 C494.3,348.3 496.6,349.0 498.4,350.0 C500.2,351.0 507.2,354.4 509.4,355.5 C511.6,356.6 516.1,358.2 517.2,359.4 C518.3,360.6 517.9,364.3 518.8,365.6 C519.7,366.9 523.2,369.3 525.0,370.3 C526.8,371.3 532.9,373.5 534.4,374.2 C535.9,374.9 537.9,376.1 537.5,376.6 C537.1,377.1 533.5,377.7 531.3,378.1 C529.1,378.5 521.0,378.9 518.8,379.7 C516.6,380.5 513.8,384.1 512.5,385.2 C511.2,386.3 508.7,388.9 507.8,389.1 C506.9,389.3 505.8,387.4 504.7,386.7 C503.6,386.0 499.7,383.6 498.4,382.8 C497.1,382.0 494.5,380.6 493.8,379.7 C493.1,378.8 492.2,376.5 492.2,375.0 C492.2,373.5 494.2,367.6 493.8,367.2 C493.4,366.8 490.2,370.8 489.1,371.9 C488.0,373.0 485.1,375.7 484.4,376.6 C483.7,377.5 482.4,379.2 482.8,379.7 C483.2,380.2 486.8,380.7 487.5,381.3 C488.2,381.9 489.5,384.5 489.1,385.2 C488.7,385.9 486.4,386.7 484.4,387.5 C482.4,388.3 474.1,391.1 471.9,392.2 C469.7,393.3 467.1,396.0 465.6,396.9 C464.1,397.8 461.4,399.5 459.4,400.0 C457.4,400.5 451.0,401.1 448.4,401.6 C445.8,402.1 440.2,403.5 437.5,403.9 C434.8,404.3 441.0,404.5 425.0,404.7 C409.0,404.9 326.2,405.4 300.0,405.5 C273.8,405.6 223.3,405.6 200.0,405.5 C176.7,405.4 111.0,405.7 100.1,405.0Z" fill="none" stroke="#2b3d50" stroke-width="5" stroke-opacity="0.22"/>
<path d="M454.7,362.5 L459.4,371.9 L468.8,375.0 L484.4,373.4 L487.5,362.5 L492.2,356.3" fill="none" stroke="#1b2d40" stroke-width="0.9" stroke-opacity="0.6"/>
<path d="M440.0,360.0 L450.0,368.0 L452.0,380.0 L445.0,392.0" fill="none" stroke="#1b2d40" stroke-width="0.9" stroke-opacity="0.6"/>
<path d="M300.0,372.0 L320.0,366.0 L345.0,370.0 L365.0,368.0" fill="none" stroke="#1b2d40" stroke-width="0.9" stroke-opacity="0.6"/>
<path d="M410.0,385.0 L430.0,382.0 L450.0,386.0 L470.0,384.0" fill="none" stroke="#1b2d40" stroke-width="0.9" stroke-opacity="0.6"/>
</g>
<path d="M100.1,405.0 C89.2,404.3 105.0,400.7 106.4,399.8 C107.8,398.9 109.5,397.4 112.2,396.9 C114.9,396.4 125.3,395.6 129.3,395.2 C133.3,394.8 144.0,394.0 146.5,393.5 C149.0,393.0 149.6,391.6 150.5,390.6 C151.4,389.6 153.4,386.2 154.5,384.9 C155.6,383.6 158.5,379.6 159.6,379.2 C160.7,378.8 162.5,380.6 163.6,381.5 C164.7,382.4 168.1,385.9 169.4,386.6 C170.7,387.3 173.6,387.5 175.1,387.8 C176.6,388.1 180.6,388.6 181.9,388.9 C183.2,389.2 185.0,390.6 186.5,390.6 C188.0,390.6 193.0,389.2 194.5,388.9 C196.0,388.6 199.0,388.3 199.1,387.8 C199.2,387.3 195.8,385.5 195.7,384.9 C195.6,384.3 197.1,383.1 198.0,382.6 C198.9,382.1 202.4,381.3 203.7,380.9 C205.0,380.5 208.0,379.1 208.8,379.4 C209.6,379.7 209.6,383.1 210.7,383.2 C211.8,383.3 216.0,380.9 217.8,380.4 C219.6,379.9 224.5,379.0 226.3,379.0 C228.1,379.0 231.9,379.7 233.4,380.4 C234.9,381.1 237.9,384.6 239.1,385.4 C240.3,386.2 242.1,387.6 243.4,387.5 C244.7,387.4 248.7,385.2 250.5,384.6 C252.3,384.0 257.4,382.6 259.0,382.5 C260.6,382.4 263.5,383.4 264.0,383.9 C264.5,384.4 263.7,386.0 263.3,386.8 C262.9,387.6 260.7,390.1 260.5,391.0 C260.3,391.9 260.2,394.3 261.2,394.6 C262.2,394.9 267.3,394.2 269.0,393.9 C270.7,393.6 274.9,392.4 276.1,391.8 C277.3,391.2 279.4,390.1 278.9,388.9 C278.4,387.7 272.5,382.7 271.8,381.1 C271.1,379.5 272.0,376.6 272.5,375.4 C273.0,374.2 276.2,371.9 276.1,371.1 C276.0,370.3 272.2,369.3 271.8,368.3 C271.4,367.3 272.2,364.1 272.5,362.6 C272.8,361.1 273.6,356.8 274.7,355.5 C275.8,354.2 280.4,352.2 281.8,351.2 C283.2,350.2 286.1,346.8 286.8,347.0 C287.5,347.2 287.5,351.3 287.5,352.7 C287.5,354.1 286.3,358.4 286.8,359.1 C287.3,359.8 290.5,359.4 291.7,359.1 C292.9,358.8 296.1,357.2 297.4,356.9 C298.7,356.6 302.4,355.9 303.1,356.2 C303.8,356.5 303.3,358.9 303.8,359.8 C304.3,360.7 306.9,363.0 307.4,364.0 C307.9,365.0 307.9,367.2 308.1,368.3 C308.3,369.4 308.4,372.3 309.0,373.0 C309.6,373.7 312.0,374.4 313.0,374.5 C314.0,374.6 316.7,374.4 317.6,373.6 C318.5,372.8 319.9,369.1 320.6,367.5 C321.3,365.9 323.4,361.2 323.6,360.0 C323.8,358.8 321.4,358.2 322.0,357.5 C322.6,356.8 327.2,354.5 329.1,353.9 C331.0,353.3 336.4,352.3 338.4,352.3 C340.4,352.3 344.3,353.7 346.3,353.9 C348.3,354.1 353.2,354.2 355.6,353.9 C358.0,353.6 363.7,352.1 366.6,351.6 C369.5,351.1 377.5,349.7 380.6,349.2 C383.7,348.7 391.3,347.3 393.1,347.7 C394.9,348.1 395.5,351.1 396.3,352.3 C397.1,353.5 399.5,357.9 400.2,357.8 C400.9,357.7 401.5,352.6 402.5,351.6 C403.5,350.6 407.0,349.5 408.8,349.2 C410.6,348.9 416.8,348.9 418.1,349.2 C419.4,349.5 419.0,351.9 419.7,351.6 C420.4,351.3 423.5,347.8 424.4,346.9 C425.3,346.0 426.6,344.5 427.5,343.8 C428.4,343.1 430.1,341.7 432.0,341.0 C433.9,340.3 442.8,336.3 443.8,337.5 C444.8,338.7 440.1,350.1 440.6,351.6 C441.1,353.1 446.0,350.9 448.4,350.0 C450.8,349.1 458.2,345.4 460.9,343.8 C463.6,342.2 469.9,337.8 471.9,336.7 C473.9,335.6 476.1,334.8 478.1,334.7 C480.1,334.6 487.3,335.2 489.1,335.6 C490.9,336.0 493.3,337.0 493.8,338.3 C494.3,339.6 493.3,345.5 493.8,346.9 C494.3,348.3 496.6,349.0 498.4,350.0 C500.2,351.0 507.2,354.4 509.4,355.5 C511.6,356.6 516.1,358.2 517.2,359.4 C518.3,360.6 517.9,364.3 518.8,365.6 C519.7,366.9 523.2,369.3 525.0,370.3 C526.8,371.3 532.9,373.5 534.4,374.2 C535.9,374.9 537.9,376.1 537.5,376.6 C537.1,377.1 533.5,377.7 531.3,378.1 C529.1,378.5 521.0,378.9 518.8,379.7 C516.6,380.5 513.8,384.1 512.5,385.2 C511.2,386.3 508.7,388.9 507.8,389.1 C506.9,389.3 505.8,387.4 504.7,386.7 C503.6,386.0 499.7,383.6 498.4,382.8 C497.1,382.0 494.5,380.6 493.8,379.7 C493.1,378.8 492.2,376.5 492.2,375.0 C492.2,373.5 494.2,367.6 493.8,367.2 C493.4,366.8 490.2,370.8 489.1,371.9 C488.0,373.0 485.1,375.7 484.4,376.6 C483.7,377.5 482.4,379.2 482.8,379.7 C483.2,380.2 486.8,380.7 487.5,381.3 C488.2,381.9 489.5,384.5 489.1,385.2 C488.7,385.9 486.4,386.7 484.4,387.5 C482.4,388.3 474.1,391.1 471.9,392.2 C469.7,393.3 467.1,396.0 465.6,396.9 C464.1,397.8 461.4,399.5 459.4,400.0 C457.4,400.5 451.0,401.1 448.4,401.6 C445.8,402.1 440.2,403.5 437.5,403.9 C434.8,404.3 441.0,404.5 425.0,404.7 C409.0,404.9 326.2,405.4 300.0,405.5 C273.8,405.6 223.3,405.6 200.0,405.5 C176.7,405.4 111.0,405.7 100.1,405.0Z" fill="none" stroke="#14283c" stroke-width="0.9" stroke-opacity="0.85" stroke-linejoin="round"/>
<path d="M352.5,364.1 C352.8,363.4 355.6,361.6 357.2,360.9 C358.8,360.2 364.2,358.1 366.6,357.8 C369.0,357.5 374.8,358.1 377.5,358.6 C380.2,359.1 387.4,361.0 390.0,361.7 C392.6,362.4 398.8,364.4 399.4,365.0 C400.0,365.6 397.3,366.6 395.0,366.5 C392.7,366.4 383.5,364.7 380.0,364.5 C376.5,364.3 367.9,364.6 365.0,364.8 C362.1,365.0 356.5,366.6 355.0,366.5 C353.5,366.4 352.2,364.8 352.5,364.1Z" fill="#fff" stroke="#14283c" stroke-width="0.9" stroke-opacity="0.85" stroke-linejoin="round"/>
<path d="M371.3,373.4 C372.9,372.4 383.1,373.0 385.0,373.4 C386.9,373.8 387.1,376.7 388.0,377.0 C388.9,377.3 391.6,375.9 393.0,376.0 C394.4,376.1 398.5,377.9 400.0,378.0 C401.5,378.1 403.9,376.8 405.6,376.6 C407.4,376.4 412.7,375.8 415.0,376.0 C417.3,376.2 423.5,376.9 425.0,378.0 C426.5,379.1 427.6,383.2 427.5,385.0 C427.4,386.8 425.1,391.8 424.0,393.0 C422.9,394.2 419.6,395.3 418.0,395.3 C416.4,395.3 411.6,393.6 410.0,393.0 C408.4,392.4 405.4,390.1 404.0,390.0 C402.6,389.9 399.6,391.8 398.0,392.0 C396.4,392.2 392.1,392.1 390.0,392.0 C387.9,391.9 382.1,391.2 380.0,391.0 C377.9,390.8 373.0,391.1 372.0,390.0 C371.0,388.9 371.4,383.9 371.3,382.0 C371.2,380.1 369.7,374.4 371.3,373.4Z" fill="#fff" stroke="#14283c" stroke-width="0.9" stroke-opacity="0.85" stroke-linejoin="round"/>
<path d="M277.5,384.0 C278.3,383.6 284.1,384.3 284.6,385.0 C285.1,385.7 282.8,389.2 282.0,389.6 C281.2,390.0 278.5,388.7 278.0,388.0 C277.5,387.3 276.7,384.4 277.5,384.0Z" fill="#fff" stroke="#14283c" stroke-width="0.9" stroke-opacity="0.85" stroke-linejoin="round"/>
<path d="M290.3,388.2 C291.2,388.3 298.1,390.5 298.8,391.0 C299.5,391.5 296.9,392.6 296.0,392.5 C295.1,392.4 291.7,391.0 291.0,390.5 C290.3,390.0 289.4,388.1 290.3,388.2Z" fill="#fff" stroke="#14283c" stroke-width="0.9" stroke-opacity="0.85" stroke-linejoin="round"/>
<path d="M150.8,392.0 C150.6,391.6 154.6,390.3 156.0,390.0 C157.4,389.7 161.2,389.4 163.0,389.6 C164.8,389.8 170.9,391.0 171.5,391.5 C172.1,392.0 169.6,393.3 168.0,393.6 C166.4,393.9 160.0,394.0 158.0,393.8 C156.0,393.6 151.0,392.4 150.8,392.0Z" fill="#fff" stroke="#14283c" stroke-width="0.9" stroke-opacity="0.85" stroke-linejoin="round"/>
<path d="M141.9,344.9 C142.6,344.4 147.2,344.1 148.8,344.0 C150.4,343.9 154.1,344.1 155.6,344.3 C157.1,344.5 159.8,345.9 161.3,346.0 C162.8,346.1 167.1,345.3 168.2,345.4 C169.3,345.5 170.5,346.6 170.5,347.2 C170.5,347.8 169.1,349.9 168.2,350.6 C167.3,351.3 163.6,352.8 162.5,353.5 C161.4,354.2 159.2,356.0 158.5,356.9 C157.8,357.8 157.4,360.2 156.8,360.9 C156.2,361.6 154.4,363.1 153.3,363.2 C152.2,363.3 148.8,362.3 147.6,362.0 C146.4,361.7 143.8,361.2 143.0,360.9 C142.2,360.6 140.9,359.7 140.8,359.2 C140.7,358.7 141.6,357.0 141.9,356.3 C142.2,355.6 143.5,353.8 143.6,352.9 C143.7,352.0 143.2,349.2 143.0,348.3 C142.8,347.4 141.2,345.4 141.9,344.9Z" fill="#6e8296" stroke="#14283c" stroke-width="0.9" stroke-opacity="0.85" stroke-linejoin="round"/>
<path d="M296.7,334.9 C297.0,333.7 300.1,329.7 301.7,328.5 C303.3,327.3 308.1,325.4 310.2,324.9 C312.3,324.4 318.3,324.4 320.0,324.4 C321.7,324.4 323.2,324.6 324.4,325.0 C325.6,325.4 330.0,327.4 330.6,328.1 C331.2,328.8 330.2,330.2 329.8,331.3 C329.4,332.4 327.5,336.0 327.5,337.5 C327.5,339.0 330.2,342.5 329.8,343.8 C329.4,345.1 326.1,347.6 324.4,348.4 C322.7,349.2 316.3,350.6 315.0,350.8 C313.7,351.0 314.2,350.9 313.1,350.5 C312.1,350.1 306.7,348.2 306.0,347.0 C305.3,345.8 308.2,341.5 307.4,340.6 C306.6,339.7 300.0,339.8 298.8,339.1 C297.6,338.4 296.4,336.1 296.7,334.9Z" fill="#9ba7b3" stroke="#14283c" stroke-width="0.9" stroke-opacity="0.85" stroke-linejoin="round"/>
<path d="M425.0,314.8 C426.7,314.4 432.6,314.1 434.4,314.4 C436.2,314.7 439.7,316.1 440.6,317.2 C441.5,318.2 442.0,321.8 442.2,323.4 C442.4,325.0 441.9,330.1 442.2,331.3 C442.5,332.5 444.3,332.9 444.5,333.6 C444.7,334.3 444.4,337.0 443.8,337.5 C443.2,338.0 440.2,337.8 439.1,337.5 C438.0,337.2 435.7,335.1 434.4,335.2 C433.1,335.3 429.7,337.8 428.1,338.3 C426.5,338.8 422.0,340.5 421.0,339.5 C420.0,338.5 419.8,332.5 419.7,330.0 C419.6,327.5 419.4,319.8 420.0,318.0 C420.6,316.2 423.3,315.2 425.0,314.8Z" fill="#cfd6de" stroke="#14283c" stroke-width="0.9" stroke-opacity="0.85" stroke-linejoin="round"/>
<path d="M252.6,361.5 C252.8,361.0 255.0,359.4 256.0,359.2 C257.0,359.0 260.2,359.1 261.0,359.4 C261.8,359.7 262.8,361.0 262.6,361.5 C262.4,362.0 260.0,363.5 259.0,363.8 C258.0,364.1 254.7,364.1 254.0,363.8 C253.3,363.5 252.4,362.0 252.6,361.5Z" fill="#5a8fc0" stroke="#14283c" stroke-width="0.9" stroke-opacity="0.85" stroke-linejoin="round"/>
<path d="M213.5,376.3 C213.7,376.1 215.4,375.4 216.0,375.4 C216.6,375.4 218.4,376.0 218.5,376.2 C218.6,376.4 217.0,377.4 216.5,377.5 C216.0,377.6 214.3,377.5 214.0,377.4 C213.7,377.3 213.3,376.5 213.5,376.3Z" fill="#4a88c0" stroke="#14283c" stroke-width="0.9" stroke-opacity="0.85" stroke-linejoin="round"/>
<path d="M329.0,319.0 C329.2,318.5 331.9,317.2 333.0,317.0 C334.1,316.8 337.2,317.2 338.0,317.5 C338.8,317.8 340.2,318.8 340.0,319.2 C339.8,319.6 337.1,320.8 336.0,321.0 C334.9,321.2 331.8,321.2 331.0,321.0 C330.2,320.8 328.8,319.5 329.0,319.0Z" fill="#8a9aaa" stroke="#14283c" stroke-width="0.9" stroke-opacity="0.85" stroke-linejoin="round"/>
<path d="M518.8,389.1 C519.8,388.4 524.5,387.7 526.6,387.5 C528.7,387.3 535.8,387.1 536.7,387.5 C537.6,387.9 535.0,389.9 534.4,390.6 C533.8,391.3 532.0,393.0 531.3,393.8 C530.6,394.6 529.2,397.0 528.1,397.7 C527.0,398.4 523.1,399.9 521.9,400.0 C520.7,400.1 518.5,399.1 518.0,398.4 C517.5,397.7 517.9,394.9 518.0,393.8 C518.1,392.7 517.8,389.8 518.8,389.1Z" fill="#1f68b0" stroke="#14283c" stroke-width="0.9" stroke-opacity="0.85" stroke-linejoin="round"/>
<path d="M451.6,327.5 C451.7,327.2 453.1,326.6 453.5,326.6 C453.9,326.6 454.8,327.5 454.7,327.8 C454.6,328.1 453.4,328.9 453.0,328.9 C452.6,328.9 451.5,327.8 451.6,327.5Z" fill="#9aa8b6" stroke="#14283c" stroke-width="0.9" stroke-opacity="0.85" stroke-linejoin="round"/>
</g>
<g clip-path="url(#cC)">
<path d="M104.5,635.3 C105.0,634.5 108.7,630.1 110.4,629.3 C112.1,628.5 116.3,629.0 118.7,628.8 C121.1,628.6 128.1,627.9 130.6,627.6 C133.1,627.3 137.7,626.7 140.0,626.6 C142.3,626.5 148.8,626.8 150.7,627.0 C152.6,627.2 155.4,627.8 156.6,628.2 C157.8,628.6 160.6,630.1 161.4,630.5 C162.2,630.9 163.5,631.3 163.2,631.7 C162.9,632.1 160.7,633.8 159.0,634.1 C157.3,634.5 151.6,634.6 148.3,634.7 C145.0,634.8 134.7,635.0 130.6,635.3 C126.5,635.6 115.7,637.0 112.8,637.1 C109.9,637.2 106.7,636.5 105.7,636.3 C104.7,636.1 104.0,636.1 104.5,635.3Z" fill="url(#gC)"/>
<path d="M161.4,628.8 C162.4,628.0 169.8,628.1 172.0,627.8 C174.2,627.5 178.2,626.7 180.3,626.4 C182.4,626.1 187.9,625.2 189.8,625.0 C191.7,624.8 194.8,625.5 196.9,625.0 C199.0,624.5 205.2,621.7 207.6,620.5 C210.0,619.3 215.0,615.5 217.1,614.5 C219.2,613.5 223.8,612.3 225.4,612.2 C227.0,612.1 229.4,612.7 230.6,613.3 C231.8,613.9 234.8,616.6 235.5,617.5 C236.2,618.4 236.4,620.2 236.2,621.0 C236.0,621.8 233.1,624.1 233.4,624.5 C233.7,624.9 237.4,624.9 239.0,624.5 C240.6,624.1 245.2,621.8 247.3,621.0 C249.4,620.2 255.8,617.3 257.1,617.5 C258.4,617.7 258.7,621.1 258.5,622.4 C258.3,623.7 255.2,628.0 255.7,628.7 C256.2,629.4 260.9,628.5 262.7,628.0 C264.5,627.5 269.1,625.3 271.0,624.5 C272.9,623.7 277.6,621.3 279.4,621.0 C281.2,620.7 285.1,621.3 286.4,621.7 C287.7,622.1 289.2,624.0 290.5,624.5 C291.8,625.0 296.0,626.0 297.5,625.9 C299.0,625.8 301.8,623.8 303.1,623.8 C304.4,623.8 306.7,625.7 308.7,625.9 C310.7,626.1 316.3,625.6 320.0,625.5 C323.7,625.4 336.3,625.1 340.0,625.0 C343.7,624.9 349.7,624.5 352.0,624.6 C354.3,624.7 359.3,624.8 360.0,625.5 C360.7,626.2 357.8,629.5 358.0,630.3 C358.2,631.1 361.8,631.8 362.0,632.5 C362.2,633.2 367.2,635.5 360.0,636.0 C352.8,636.5 314.6,636.5 300.0,636.5 C285.4,636.5 245.1,636.2 235.0,636.0 C224.9,635.8 218.8,634.7 213.5,634.7 C208.2,634.7 195.1,635.7 189.8,635.9 C184.6,636.1 171.5,636.6 168.5,636.5 C165.5,636.4 164.6,635.6 163.8,634.7 C163.0,633.8 160.4,629.6 161.4,628.8Z" fill="url(#gC)"/>
<path d="M275.2,592.4 C275.4,591.3 277.2,589.4 278.0,588.9 C278.8,588.4 281.5,587.7 282.2,588.2 C282.9,588.7 282.6,592.4 283.6,593.1 C284.6,593.8 288.2,593.6 290.5,593.8 C292.8,594.0 301.3,594.1 303.1,594.5 C304.9,594.9 305.9,596.2 305.9,597.3 C305.9,598.4 302.8,602.5 303.1,603.6 C303.4,604.7 307.4,606.9 308.7,607.1 C310.0,607.3 313.2,605.7 314.2,605.0 C315.2,604.3 316.0,601.5 317.0,600.8 C318.0,600.1 321.0,598.8 322.6,598.7 C324.2,598.6 329.4,599.5 331.0,600.1 C332.6,600.7 335.3,602.7 336.6,603.6 C337.9,604.5 340.8,607.2 342.1,607.8 C343.4,608.4 346.7,607.8 347.7,609.1 C348.7,610.4 350.8,617.5 350.5,618.9 C350.2,620.3 346.8,620.8 345.0,621.0 C343.2,621.2 337.6,621.2 335.0,621.0 C332.4,620.8 324.4,618.9 322.6,618.9 C320.8,618.9 321.4,620.8 319.8,621.0 C318.2,621.2 310.6,621.2 308.7,621.0 C306.8,620.8 304.7,619.6 303.1,618.9 C301.5,618.2 296.6,615.7 294.7,614.7 C292.8,613.7 288.2,611.1 286.4,610.5 C284.6,609.9 280.7,610.1 279.4,609.8 C278.1,609.5 275.4,608.5 275.2,607.8 C275.0,607.1 277.8,604.7 278.0,603.6 C278.2,602.5 276.9,599.3 276.6,598.0 C276.3,596.7 275.0,593.5 275.2,592.4Z" fill="url(#gC)"/>
<path d="M336.6,588.2 C336.8,587.4 339.6,586.6 340.7,586.8 C341.8,587.0 345.3,588.6 346.3,589.6 C347.3,590.6 348.1,594.1 349.1,595.2 C350.1,596.3 353.8,598.6 354.7,599.4 C355.6,600.2 356.7,601.1 357.0,602.0 C357.3,602.9 357.5,606.5 357.0,607.0 C356.5,607.5 353.8,606.4 353.0,606.0 C352.2,605.6 351.4,604.4 350.5,603.6 C349.6,602.8 346.2,600.5 344.9,599.4 C343.6,598.3 340.4,595.1 339.4,593.8 C338.4,592.5 336.4,589.0 336.6,588.2Z" fill="url(#gC)"/>
<path d="M347.0,605.0 C347.6,604.3 351.8,605.8 353.0,606.0 C354.2,606.2 356.5,605.3 357.0,607.0 C357.5,608.7 357.9,618.6 357.5,620.3 C357.1,622.0 354.1,621.9 353.3,621.7 C352.5,621.5 351.1,620.0 350.5,618.9 C349.9,617.8 348.4,613.6 348.0,612.0 C347.6,610.4 346.4,605.7 347.0,605.0Z" fill="url(#gC)"/>
<path d="M358.5,601.0 C358.9,599.3 360.7,598.4 362.5,597.7 C364.3,597.0 371.3,595.4 373.8,595.2 C376.3,595.0 382.3,595.3 383.9,595.8 C385.5,596.3 387.3,598.6 387.6,599.6 C387.9,600.6 387.3,603.2 386.4,604.0 C385.5,604.8 381.9,606.4 380.1,606.5 C378.3,606.6 373.1,605.1 371.3,605.2 C369.5,605.3 365.9,606.7 365.0,607.7 C364.1,608.7 363.6,612.5 363.8,614.0 C364.0,615.5 366.5,619.2 366.3,620.3 C366.1,621.4 363.3,623.0 362.5,623.4 C361.7,623.8 359.9,624.8 359.5,623.5 C359.1,622.2 359.6,614.6 359.5,612.0 C359.4,609.4 358.1,602.7 358.5,601.0Z" fill="url(#gC)"/>
<path d="M355.0,630.3 C355.7,629.6 363.9,626.4 367.6,625.3 C371.3,624.2 383.5,621.2 386.4,620.9 C389.3,620.6 390.9,622.5 392.7,622.8 C394.5,623.1 400.9,623.1 401.5,623.4 C402.1,623.7 399.5,625.1 397.7,625.3 C395.9,625.5 389.2,624.4 386.4,624.7 C383.6,625.0 376.7,627.0 373.8,627.8 C370.9,628.6 363.5,631.3 361.3,631.6 C359.1,631.9 354.3,631.0 355.0,630.3Z" fill="url(#gC)"/>
<path d="M399.0,601.5 C399.6,601.3 403.6,601.2 405.2,600.8 C406.8,600.4 411.0,598.6 412.8,597.7 C414.6,596.8 419.0,593.9 420.3,592.7 C421.6,591.5 423.3,588.6 424.1,587.6 C424.9,586.6 426.3,584.9 427.2,584.5 C428.1,584.1 431.4,584.1 432.2,584.5 C433.0,584.9 433.4,587.1 434.1,587.6 C434.8,588.1 436.0,589.3 437.9,588.9 C439.8,588.5 447.5,585.7 450.4,584.5 C453.3,583.3 460.7,579.6 463.0,578.2 C465.3,576.8 468.7,573.8 470.5,572.6 C472.3,571.4 476.3,568.6 478.1,568.2 C479.9,567.8 484.3,568.3 485.6,568.8 C486.9,569.3 489.1,571.4 489.4,572.6 C489.7,573.8 488.5,577.3 488.1,578.9 C487.7,580.5 486.3,584.5 485.6,586.4 C484.9,588.3 482.8,593.3 481.8,595.2 C480.8,597.1 477.8,601.2 476.8,602.7 C475.8,604.2 472.7,607.2 473.0,607.7 C473.3,608.2 478.1,607.7 479.3,607.1 C480.5,606.5 482.5,603.6 483.1,602.7 C483.7,601.8 483.7,599.7 484.3,599.0 C484.9,598.3 487.6,597.0 488.1,597.1 C488.6,597.2 489.0,599.3 488.7,600.2 C488.4,601.1 486.7,604.2 485.6,605.2 C484.5,606.2 480.5,608.3 479.3,609.0 C478.1,609.7 476.2,610.0 475.5,610.9 C474.8,611.8 472.4,615.6 473.0,616.5 C473.6,617.4 480.0,618.4 480.6,619.0 C481.2,619.6 479.6,620.9 478.1,621.5 C476.6,622.1 470.2,623.4 468.0,624.1 C465.8,624.8 460.4,627.1 459.2,627.8 C458.0,628.5 459.9,629.7 458.0,630.3 C456.1,630.9 446.1,632.3 442.9,632.8 C439.7,633.3 433.2,634.4 430.3,634.7 C427.4,635.0 422.2,635.2 417.8,635.4 C413.4,635.6 398.1,636.0 392.7,636.0 C387.3,636.0 372.8,636.1 371.3,635.4 C369.8,634.7 377.9,631.2 380.1,630.3 C382.3,629.4 387.6,627.9 390.2,627.8 C392.8,627.7 399.9,629.5 402.7,629.7 C405.5,629.9 412.1,629.5 414.0,629.1 C415.9,628.7 418.0,627.5 419.0,626.6 C420.0,625.7 422.1,622.5 422.8,621.5 C423.5,620.5 424.4,618.7 425.3,617.8 C426.2,616.9 429.4,614.7 430.3,614.0 C431.2,613.3 433.1,611.8 432.8,611.5 C432.5,611.2 428.7,612.1 427.8,611.5 C426.9,610.9 426.5,607.2 425.3,606.5 C424.1,605.8 419.5,605.0 417.8,605.2 C416.1,605.4 412.2,607.3 411.0,608.0 C409.8,608.7 408.4,611.5 407.7,611.5 C407.0,611.5 406.1,608.7 405.2,607.7 C404.3,606.7 400.9,603.4 400.2,602.7 C399.5,602.0 398.4,601.7 399.0,601.5Z" fill="url(#gC)"/>
<path d="M489.5,589.0 C489.9,588.2 494.0,585.3 495.4,584.9 C496.8,584.5 499.9,585.0 501.3,585.5 C502.7,586.0 505.8,588.3 507.3,589.0 C508.8,589.7 513.3,590.6 513.8,591.4 C514.3,592.2 511.5,594.6 512.0,595.6 C512.5,596.6 516.3,599.4 517.9,600.3 C519.5,601.2 525.0,602.7 525.6,603.3 C526.2,603.9 523.0,605.0 522.7,605.6 C522.4,606.2 523.3,608.0 522.7,608.6 C522.1,609.2 519.6,610.2 517.9,611.0 C516.2,611.8 509.8,615.0 508.4,615.1 C507.0,615.2 506.6,613.0 506.1,612.1 C505.6,611.2 504.3,608.2 503.7,607.4 C503.1,606.6 501.8,604.9 501.3,605.0 C500.8,605.1 499.7,608.3 499.0,608.6 C498.3,608.9 495.7,608.1 495.4,607.4 C495.1,606.7 496.1,603.5 496.6,602.7 C497.1,601.9 499.6,601.3 500.1,600.3 C500.6,599.3 501.6,595.5 501.3,594.4 C501.0,593.3 498.9,591.1 497.8,590.8 C496.7,590.4 492.9,591.6 491.9,591.4 C490.9,591.2 489.1,589.8 489.5,589.0Z" fill="url(#gC)"/>
<clipPath id="cCm"><path d="M104.5,635.3 C105.0,634.5 108.7,630.1 110.4,629.3 C112.1,628.5 116.3,629.0 118.7,628.8 C121.1,628.6 128.1,627.9 130.6,627.6 C133.1,627.3 137.7,626.7 140.0,626.6 C142.3,626.5 148.8,626.8 150.7,627.0 C152.6,627.2 155.4,627.8 156.6,628.2 C157.8,628.6 160.6,630.1 161.4,630.5 C162.2,630.9 163.5,631.3 163.2,631.7 C162.9,632.1 160.7,633.8 159.0,634.1 C157.3,634.5 151.6,634.6 148.3,634.7 C145.0,634.8 134.7,635.0 130.6,635.3 C126.5,635.6 115.7,637.0 112.8,637.1 C109.9,637.2 106.7,636.5 105.7,636.3 C104.7,636.1 104.0,636.1 104.5,635.3Z"/><path d="M161.4,628.8 C162.4,628.0 169.8,628.1 172.0,627.8 C174.2,627.5 178.2,626.7 180.3,626.4 C182.4,626.1 187.9,625.2 189.8,625.0 C191.7,624.8 194.8,625.5 196.9,625.0 C199.0,624.5 205.2,621.7 207.6,620.5 C210.0,619.3 215.0,615.5 217.1,614.5 C219.2,613.5 223.8,612.3 225.4,612.2 C227.0,612.1 229.4,612.7 230.6,613.3 C231.8,613.9 234.8,616.6 235.5,617.5 C236.2,618.4 236.4,620.2 236.2,621.0 C236.0,621.8 233.1,624.1 233.4,624.5 C233.7,624.9 237.4,624.9 239.0,624.5 C240.6,624.1 245.2,621.8 247.3,621.0 C249.4,620.2 255.8,617.3 257.1,617.5 C258.4,617.7 258.7,621.1 258.5,622.4 C258.3,623.7 255.2,628.0 255.7,628.7 C256.2,629.4 260.9,628.5 262.7,628.0 C264.5,627.5 269.1,625.3 271.0,624.5 C272.9,623.7 277.6,621.3 279.4,621.0 C281.2,620.7 285.1,621.3 286.4,621.7 C287.7,622.1 289.2,624.0 290.5,624.5 C291.8,625.0 296.0,626.0 297.5,625.9 C299.0,625.8 301.8,623.8 303.1,623.8 C304.4,623.8 306.7,625.7 308.7,625.9 C310.7,626.1 316.3,625.6 320.0,625.5 C323.7,625.4 336.3,625.1 340.0,625.0 C343.7,624.9 349.7,624.5 352.0,624.6 C354.3,624.7 359.3,624.8 360.0,625.5 C360.7,626.2 357.8,629.5 358.0,630.3 C358.2,631.1 361.8,631.8 362.0,632.5 C362.2,633.2 367.2,635.5 360.0,636.0 C352.8,636.5 314.6,636.5 300.0,636.5 C285.4,636.5 245.1,636.2 235.0,636.0 C224.9,635.8 218.8,634.7 213.5,634.7 C208.2,634.7 195.1,635.7 189.8,635.9 C184.6,636.1 171.5,636.6 168.5,636.5 C165.5,636.4 164.6,635.6 163.8,634.7 C163.0,633.8 160.4,629.6 161.4,628.8Z"/><path d="M275.2,592.4 C275.4,591.3 277.2,589.4 278.0,588.9 C278.8,588.4 281.5,587.7 282.2,588.2 C282.9,588.7 282.6,592.4 283.6,593.1 C284.6,593.8 288.2,593.6 290.5,593.8 C292.8,594.0 301.3,594.1 303.1,594.5 C304.9,594.9 305.9,596.2 305.9,597.3 C305.9,598.4 302.8,602.5 303.1,603.6 C303.4,604.7 307.4,606.9 308.7,607.1 C310.0,607.3 313.2,605.7 314.2,605.0 C315.2,604.3 316.0,601.5 317.0,600.8 C318.0,600.1 321.0,598.8 322.6,598.7 C324.2,598.6 329.4,599.5 331.0,600.1 C332.6,600.7 335.3,602.7 336.6,603.6 C337.9,604.5 340.8,607.2 342.1,607.8 C343.4,608.4 346.7,607.8 347.7,609.1 C348.7,610.4 350.8,617.5 350.5,618.9 C350.2,620.3 346.8,620.8 345.0,621.0 C343.2,621.2 337.6,621.2 335.0,621.0 C332.4,620.8 324.4,618.9 322.6,618.9 C320.8,618.9 321.4,620.8 319.8,621.0 C318.2,621.2 310.6,621.2 308.7,621.0 C306.8,620.8 304.7,619.6 303.1,618.9 C301.5,618.2 296.6,615.7 294.7,614.7 C292.8,613.7 288.2,611.1 286.4,610.5 C284.6,609.9 280.7,610.1 279.4,609.8 C278.1,609.5 275.4,608.5 275.2,607.8 C275.0,607.1 277.8,604.7 278.0,603.6 C278.2,602.5 276.9,599.3 276.6,598.0 C276.3,596.7 275.0,593.5 275.2,592.4Z"/><path d="M336.6,588.2 C336.8,587.4 339.6,586.6 340.7,586.8 C341.8,587.0 345.3,588.6 346.3,589.6 C347.3,590.6 348.1,594.1 349.1,595.2 C350.1,596.3 353.8,598.6 354.7,599.4 C355.6,600.2 356.7,601.1 357.0,602.0 C357.3,602.9 357.5,606.5 357.0,607.0 C356.5,607.5 353.8,606.4 353.0,606.0 C352.2,605.6 351.4,604.4 350.5,603.6 C349.6,602.8 346.2,600.5 344.9,599.4 C343.6,598.3 340.4,595.1 339.4,593.8 C338.4,592.5 336.4,589.0 336.6,588.2Z"/><path d="M347.0,605.0 C347.6,604.3 351.8,605.8 353.0,606.0 C354.2,606.2 356.5,605.3 357.0,607.0 C357.5,608.7 357.9,618.6 357.5,620.3 C357.1,622.0 354.1,621.9 353.3,621.7 C352.5,621.5 351.1,620.0 350.5,618.9 C349.9,617.8 348.4,613.6 348.0,612.0 C347.6,610.4 346.4,605.7 347.0,605.0Z"/><path d="M358.5,601.0 C358.9,599.3 360.7,598.4 362.5,597.7 C364.3,597.0 371.3,595.4 373.8,595.2 C376.3,595.0 382.3,595.3 383.9,595.8 C385.5,596.3 387.3,598.6 387.6,599.6 C387.9,600.6 387.3,603.2 386.4,604.0 C385.5,604.8 381.9,606.4 380.1,606.5 C378.3,606.6 373.1,605.1 371.3,605.2 C369.5,605.3 365.9,606.7 365.0,607.7 C364.1,608.7 363.6,612.5 363.8,614.0 C364.0,615.5 366.5,619.2 366.3,620.3 C366.1,621.4 363.3,623.0 362.5,623.4 C361.7,623.8 359.9,624.8 359.5,623.5 C359.1,622.2 359.6,614.6 359.5,612.0 C359.4,609.4 358.1,602.7 358.5,601.0Z"/><path d="M355.0,630.3 C355.7,629.6 363.9,626.4 367.6,625.3 C371.3,624.2 383.5,621.2 386.4,620.9 C389.3,620.6 390.9,622.5 392.7,622.8 C394.5,623.1 400.9,623.1 401.5,623.4 C402.1,623.7 399.5,625.1 397.7,625.3 C395.9,625.5 389.2,624.4 386.4,624.7 C383.6,625.0 376.7,627.0 373.8,627.8 C370.9,628.6 363.5,631.3 361.3,631.6 C359.1,631.9 354.3,631.0 355.0,630.3Z"/><path d="M399.0,601.5 C399.6,601.3 403.6,601.2 405.2,600.8 C406.8,600.4 411.0,598.6 412.8,597.7 C414.6,596.8 419.0,593.9 420.3,592.7 C421.6,591.5 423.3,588.6 424.1,587.6 C424.9,586.6 426.3,584.9 427.2,584.5 C428.1,584.1 431.4,584.1 432.2,584.5 C433.0,584.9 433.4,587.1 434.1,587.6 C434.8,588.1 436.0,589.3 437.9,588.9 C439.8,588.5 447.5,585.7 450.4,584.5 C453.3,583.3 460.7,579.6 463.0,578.2 C465.3,576.8 468.7,573.8 470.5,572.6 C472.3,571.4 476.3,568.6 478.1,568.2 C479.9,567.8 484.3,568.3 485.6,568.8 C486.9,569.3 489.1,571.4 489.4,572.6 C489.7,573.8 488.5,577.3 488.1,578.9 C487.7,580.5 486.3,584.5 485.6,586.4 C484.9,588.3 482.8,593.3 481.8,595.2 C480.8,597.1 477.8,601.2 476.8,602.7 C475.8,604.2 472.7,607.2 473.0,607.7 C473.3,608.2 478.1,607.7 479.3,607.1 C480.5,606.5 482.5,603.6 483.1,602.7 C483.7,601.8 483.7,599.7 484.3,599.0 C484.9,598.3 487.6,597.0 488.1,597.1 C488.6,597.2 489.0,599.3 488.7,600.2 C488.4,601.1 486.7,604.2 485.6,605.2 C484.5,606.2 480.5,608.3 479.3,609.0 C478.1,609.7 476.2,610.0 475.5,610.9 C474.8,611.8 472.4,615.6 473.0,616.5 C473.6,617.4 480.0,618.4 480.6,619.0 C481.2,619.6 479.6,620.9 478.1,621.5 C476.6,622.1 470.2,623.4 468.0,624.1 C465.8,624.8 460.4,627.1 459.2,627.8 C458.0,628.5 459.9,629.7 458.0,630.3 C456.1,630.9 446.1,632.3 442.9,632.8 C439.7,633.3 433.2,634.4 430.3,634.7 C427.4,635.0 422.2,635.2 417.8,635.4 C413.4,635.6 398.1,636.0 392.7,636.0 C387.3,636.0 372.8,636.1 371.3,635.4 C369.8,634.7 377.9,631.2 380.1,630.3 C382.3,629.4 387.6,627.9 390.2,627.8 C392.8,627.7 399.9,629.5 402.7,629.7 C405.5,629.9 412.1,629.5 414.0,629.1 C415.9,628.7 418.0,627.5 419.0,626.6 C420.0,625.7 422.1,622.5 422.8,621.5 C423.5,620.5 424.4,618.7 425.3,617.8 C426.2,616.9 429.4,614.7 430.3,614.0 C431.2,613.3 433.1,611.8 432.8,611.5 C432.5,611.2 428.7,612.1 427.8,611.5 C426.9,610.9 426.5,607.2 425.3,606.5 C424.1,605.8 419.5,605.0 417.8,605.2 C416.1,605.4 412.2,607.3 411.0,608.0 C409.8,608.7 408.4,611.5 407.7,611.5 C407.0,611.5 406.1,608.7 405.2,607.7 C404.3,606.7 400.9,603.4 400.2,602.7 C399.5,602.0 398.4,601.7 399.0,601.5Z"/><path d="M489.5,589.0 C489.9,588.2 494.0,585.3 495.4,584.9 C496.8,584.5 499.9,585.0 501.3,585.5 C502.7,586.0 505.8,588.3 507.3,589.0 C508.8,589.7 513.3,590.6 513.8,591.4 C514.3,592.2 511.5,594.6 512.0,595.6 C512.5,596.6 516.3,599.4 517.9,600.3 C519.5,601.2 525.0,602.7 525.6,603.3 C526.2,603.9 523.0,605.0 522.7,605.6 C522.4,606.2 523.3,608.0 522.7,608.6 C522.1,609.2 519.6,610.2 517.9,611.0 C516.2,611.8 509.8,615.0 508.4,615.1 C507.0,615.2 506.6,613.0 506.1,612.1 C505.6,611.2 504.3,608.2 503.7,607.4 C503.1,606.6 501.8,604.9 501.3,605.0 C500.8,605.1 499.7,608.3 499.0,608.6 C498.3,608.9 495.7,608.1 495.4,607.4 C495.1,606.7 496.1,603.5 496.6,602.7 C497.1,601.9 499.6,601.3 500.1,600.3 C500.6,599.3 501.6,595.5 501.3,594.4 C501.0,593.3 498.9,591.1 497.8,590.8 C496.7,590.4 492.9,591.6 491.9,591.4 C490.9,591.2 489.1,589.8 489.5,589.0Z"/></clipPath>
<g clip-path="url(#cCm)">
<path d="M98.0,565.0 L104.0,564.7 L110.0,567.4 L116.0,566.8 L122.0,568.0 L128.0,565.5 L134.0,566.1 L140.0,564.3 L146.0,566.8 L152.0,566.4 L158.0,569.1 L164.0,567.5 L170.0,568.3 L176.0,565.5 L182.0,566.8 L188.0,565.7 L194.0,568.7" fill="none" stroke="#0b2640" stroke-width="0.72" stroke-opacity="0.39"/>
<path d="M206.0,570.1 L212.0,567.8 L218.0,568.2 L224.0,566.1 L230.0,568.0 L236.0,567.8 L242.0,570.4 L248.0,569.6 L254.0,570.2 L260.0,568.0 L266.0,568.3 L272.0,567.5 L278.0,569.4 L284.0,570.0 L290.0,571.3 L296.0,570.5 L302.0,569.9 L308.0,568.6 L314.0,568.8 L320.0,569.6 L326.0,571.0 L332.0,571.9 L338.0,571.6 L344.0,571.0 L350.0,569.5 L356.0,569.8 L362.0,569.9 L368.0,571.9 L374.0,572.2 L380.0,573.2 L386.0,571.4 L392.0,571.4 L398.0,569.7 L404.0,571.5 L410.0,571.5 L416.0,574.0 L422.0,572.9 L428.0,573.8 L434.0,571.1 L440.0,572.1 L446.0,570.7 L452.0,573.6 L458.0,573.2 L464.0,575.4 L470.0,573.2 L476.0,573.9 L482.0,571.3 L488.0,573.1 L494.0,572.5" fill="none" stroke="#0b2640" stroke-width="0.94" stroke-opacity="0.27"/>
<path d="M506.0,574.6 L512.0,576.0 L518.0,573.4 L524.0,573.9 L530.0,572.3 L536.0,574.6 L542.0,574.6 L548.0,576.8 L554.0,575.6 L560.0,575.8" fill="none" stroke="#0b2640" stroke-width="0.79" stroke-opacity="0.39"/>
<path d="M98.0,569.3 L104.0,567.8 L110.0,565.8 L116.0,567.4 L122.0,569.1 L128.0,568.6 L134.0,569.8 L140.0,571.9 L146.0,570.4 L152.0,568.5 L158.0,568.9 L164.0,568.0 L170.0,565.9" fill="none" stroke="#0b2640" stroke-width="0.95" stroke-opacity="0.31"/>
<path d="M182.0,569.5 L188.0,569.1 L194.0,569.8 L200.0,571.8 L206.0,570.7 L212.0,568.3 L218.0,568.5 L224.0,568.2 L230.0,566.2 L236.0,567.2 L242.0,569.8 L248.0,569.7" fill="none" stroke="#0b2640" stroke-width="0.95" stroke-opacity="0.33"/>
<path d="M260.0,571.7 L266.0,570.9 L272.0,568.1 L278.0,568.1 L284.0,568.3 L290.0,566.5 L296.0,567.2 L302.0,570.0 L308.0,570.2 L314.0,569.8 L320.0,571.5 L326.0,571.0 L332.0,568.1 L338.0,567.7" fill="none" stroke="#0b2640" stroke-width="0.79" stroke-opacity="0.48"/>
<path d="M350.0,566.9 L356.0,567.2 L362.0,570.2 L368.0,570.8 L374.0,569.9 L380.0,571.2 L386.0,571.1 L392.0,568.1 L398.0,567.3 L404.0,568.4 L410.0,567.4 L416.0,567.3 L422.0,570.2 L428.0,571.3 L434.0,570.1 L440.0,570.8 L446.0,571.1 L452.0,568.2 L458.0,567.0 L464.0,568.3 L470.0,567.9 L476.0,567.5 L482.0,570.3 L488.0,571.7 L494.0,570.3 L500.0,570.5 L506.0,571.0 L512.0,568.4 L518.0,566.7 L524.0,568.2 L530.0,568.4 L536.0,567.8 L542.0,570.3 L548.0,572.1 L554.0,570.6 L560.0,570.1" fill="none" stroke="#0b2640" stroke-width="1.27" stroke-opacity="0.21"/>
<path d="M98.0,574.0 L104.0,574.2 L110.0,574.6 L116.0,576.3 L122.0,577.0 L128.0,575.0 L134.0,572.5 L140.0,572.5 L146.0,574.4" fill="none" stroke="#0b2640" stroke-width="0.92" stroke-opacity="0.34"/>
<path d="M158.0,575.2 L164.0,576.4 L170.0,578.0 L176.0,577.3 L182.0,574.6 L188.0,573.2" fill="none" stroke="#0b2640" stroke-width="1.12" stroke-opacity="0.36"/>
<path d="M200.0,576.0 L206.0,576.1 L212.0,576.6 L218.0,578.4 L224.0,579.1 L230.0,577.0 L236.0,574.5 L242.0,574.7 L248.0,576.4 L254.0,577.2 L260.0,577.2 L266.0,578.5 L272.0,580.2 L278.0,579.4 L284.0,576.6 L290.0,575.3 L296.0,576.6 L302.0,578.0 L308.0,578.1 L314.0,578.7 L320.0,580.6 L326.0,581.2" fill="none" stroke="#0b2640" stroke-width="1.12" stroke-opacity="0.33"/>
<path d="M338.0,576.6 L344.0,576.8 L350.0,578.5 L356.0,579.1 L362.0,579.1 L368.0,580.6 L374.0,582.3 L380.0,581.5 L386.0,578.7" fill="none" stroke="#0b2640" stroke-width="0.85" stroke-opacity="0.35"/>
<path d="M398.0,578.7 L404.0,580.0 L410.0,580.0 L416.0,580.7 L422.0,582.7 L428.0,583.3 L434.0,581.1 L440.0,578.7 L446.0,579.0 L452.0,580.6 L458.0,581.0 L464.0,581.1 L470.0,582.7 L476.0,584.4 L482.0,583.5 L488.0,580.7 L494.0,579.6 L500.0,580.9 L506.0,582.0 L512.0,581.9 L518.0,582.7 L524.0,584.8 L530.0,585.4 L536.0,583.2 L542.0,580.9 L548.0,581.1 L554.0,582.6 L560.0,583.0" fill="none" stroke="#0b2640" stroke-width="1.12" stroke-opacity="0.37"/>
<path d="M98.0,577.6 L104.0,579.8 L110.0,580.2 L116.0,578.3 L122.0,576.5 L128.0,576.4 L134.0,577.1 L140.0,576.9 L146.0,576.3 L152.0,577.2 L158.0,579.7 L164.0,581.3" fill="none" stroke="#0b2640" stroke-width="1.12" stroke-opacity="0.30"/>
<path d="M176.0,578.4 L182.0,577.6 L188.0,578.1 L194.0,578.1 L200.0,577.2 L206.0,577.2 L212.0,579.2" fill="none" stroke="#0b2640" stroke-width="1.21" stroke-opacity="0.33"/>
<path d="M224.0,582.0 L230.0,580.4 L236.0,579.2 L242.0,579.3 L248.0,579.5 L254.0,578.5 L260.0,577.6 L266.0,578.7" fill="none" stroke="#0b2640" stroke-width="0.86" stroke-opacity="0.38"/>
<path d="M278.0,583.0 L284.0,582.2 L290.0,580.8 L296.0,580.6 L302.0,580.9 L308.0,580.2 L314.0,578.7 L320.0,578.6 L326.0,580.9 L332.0,583.2 L338.0,583.6 L344.0,582.4 L350.0,581.9 L356.0,582.3 L362.0,582.0 L368.0,580.3 L374.0,579.2 L380.0,580.4 L386.0,583.0 L392.0,584.4 L398.0,583.8 L404.0,583.1 L410.0,583.5 L416.0,583.7 L422.0,582.4 L428.0,580.4 L434.0,580.4 L440.0,582.5 L446.0,584.6 L452.0,584.9 L458.0,584.2 L464.0,584.5 L470.0,585.2 L476.0,584.5 L482.0,582.3 L488.0,581.0 L494.0,582.2 L500.0,584.5 L506.0,585.5 L512.0,585.2 L518.0,585.3 L524.0,586.3 L530.0,586.5 L536.0,584.6 L542.0,582.5 L548.0,582.4 L554.0,584.3 L560.0,585.9" fill="none" stroke="#0b2640" stroke-width="0.71" stroke-opacity="0.27"/>
<path d="M98.0,580.2 L104.0,581.1 L110.0,580.1 L116.0,581.5 L122.0,581.5 L128.0,582.1 L134.0,583.5 L140.0,583.0 L146.0,584.4 L152.0,583.7 L158.0,583.9 L164.0,583.9 L170.0,582.7 L176.0,583.5 L182.0,582.4 L188.0,583.2 L194.0,583.4 L200.0,583.5 L206.0,585.1 L212.0,584.7 L218.0,586.2 L224.0,586.1 L230.0,586.1 L236.0,586.7 L242.0,585.4 L248.0,586.1 L254.0,585.0 L260.0,585.1 L266.0,585.6 L272.0,585.0 L278.0,586.7 L284.0,586.4 L290.0,587.7 L296.0,588.2 L302.0,588.1 L308.0,589.2 L314.0,588.0 L320.0,588.7" fill="none" stroke="#0b2640" stroke-width="0.77" stroke-opacity="0.40"/>
<path d="M332.0,587.4 L338.0,588.0 L344.0,587.0 L350.0,588.3 L356.0,588.1 L362.0,589.0 L368.0,590.1 L374.0,589.8 L380.0,591.3 L386.0,590.5 L392.0,591.0 L398.0,590.9 L404.0,589.9 L410.0,590.6 L416.0,589.3 L422.0,590.2 L428.0,590.1 L434.0,590.3 L440.0,591.8 L446.0,591.4 L452.0,593.1 L458.0,592.8 L464.0,593.2 L470.0,593.7 L476.0,592.5 L482.0,593.3 L488.0,592.0 L494.0,592.2 L500.0,592.4 L506.0,591.9 L512.0,593.5 L518.0,593.0 L524.0,594.5 L530.0,594.9 L536.0,595.0 L542.0,596.1 L548.0,595.0 L554.0,595.8 L560.0,594.9" fill="none" stroke="#0b2640" stroke-width="0.78" stroke-opacity="0.48"/>
<path d="M98.0,587.3 L104.0,586.1 L110.0,584.5 L116.0,585.1 L122.0,583.5 L128.0,582.6 L134.0,584.2 L140.0,583.7 L146.0,584.0" fill="none" stroke="#0b2640" stroke-width="1.26" stroke-opacity="0.37"/>
<path d="M158.0,585.1 L164.0,584.6 L170.0,585.4 L176.0,583.1 L182.0,582.3 L188.0,583.0 L194.0,581.5 L200.0,582.1 L206.0,583.9 L212.0,583.1 L218.0,583.9 L224.0,585.0 L230.0,582.9 L236.0,582.7 L242.0,582.7 L248.0,580.4 L254.0,580.8 L260.0,581.7 L266.0,580.7 L272.0,582.3 L278.0,583.5 L284.0,582.1 L290.0,582.9 L296.0,582.6 L302.0,580.2 L308.0,580.6 L314.0,580.2 L320.0,578.7 L326.0,580.5 L332.0,581.1 L338.0,580.4" fill="none" stroke="#0b2640" stroke-width="1.22" stroke-opacity="0.30"/>
<path d="M350.0,582.0 L356.0,580.3 L362.0,581.0 L368.0,579.6 L374.0,577.9 L380.0,579.1 L386.0,578.6 L392.0,578.3 L398.0,580.6 L404.0,580.3 L410.0,579.8 L416.0,581.1 L422.0,579.4 L428.0,578.0" fill="none" stroke="#0b2640" stroke-width="0.78" stroke-opacity="0.41"/>
<path d="M440.0,577.0 L446.0,576.6 L452.0,578.4 L458.0,577.8 L464.0,578.4 L470.0,580.2 L476.0,578.7" fill="none" stroke="#0b2640" stroke-width="1.06" stroke-opacity="0.46"/>
<path d="M488.0,578.7 L494.0,576.4 L500.0,576.0 L506.0,576.8 L512.0,575.5 L518.0,576.5 L524.0,578.2 L530.0,577.2 L536.0,578.1" fill="none" stroke="#0b2640" stroke-width="1.13" stroke-opacity="0.48"/>
<path d="M548.0,576.3 L554.0,576.2 L560.0,576.0" fill="none" stroke="#0b2640" stroke-width="0.91" stroke-opacity="0.43"/>
<path d="M98.0,589.9 L104.0,590.6 L110.0,588.0 L116.0,589.4 L122.0,588.0 L128.0,589.0 L134.0,589.7 L140.0,589.2 L146.0,591.0 L152.0,588.9 L158.0,590.2 L164.0,588.0 L170.0,587.9 L176.0,587.3 L182.0,586.1 L188.0,587.7 L194.0,586.2 L200.0,588.6 L206.0,587.6 L212.0,588.5" fill="none" stroke="#0b2640" stroke-width="1.25" stroke-opacity="0.45"/>
<path d="M224.0,586.8 L230.0,587.4 L236.0,584.7 L242.0,586.0 L248.0,584.3 L254.0,585.4 L260.0,585.8 L266.0,585.6 L272.0,587.4" fill="none" stroke="#0b2640" stroke-width="0.72" stroke-opacity="0.49"/>
<path d="M284.0,587.0 L290.0,584.7 L296.0,584.8" fill="none" stroke="#0b2640" stroke-width="1.06" stroke-opacity="0.30"/>
<path d="M308.0,582.7 L314.0,584.0 L320.0,582.5 L326.0,584.9" fill="none" stroke="#0b2640" stroke-width="0.75" stroke-opacity="0.49"/>
<path d="M338.0,585.1 L344.0,584.8 L350.0,583.7 L356.0,584.2 L362.0,581.6 L368.0,582.8 L374.0,580.7 L380.0,581.9 L386.0,581.9 L392.0,581.9 L398.0,583.7" fill="none" stroke="#0b2640" stroke-width="1.21" stroke-opacity="0.30"/>
<path d="M410.0,583.8 L416.0,581.5 L422.0,581.8 L428.0,580.6 L434.0,579.5 L440.0,580.4 L446.0,578.8 L452.0,581.2 L458.0,580.0 L464.0,581.6 L470.0,581.2 L476.0,580.5 L482.0,581.0 L488.0,578.4 L494.0,579.5" fill="none" stroke="#0b2640" stroke-width="0.93" stroke-opacity="0.24"/>
<path d="M506.0,578.4 L512.0,578.1 L518.0,578.3" fill="none" stroke="#0b2640" stroke-width="1.11" stroke-opacity="0.31"/>
<path d="M530.0,578.5 L536.0,580.4 L542.0,578.2 L548.0,578.7 L554.0,577.3 L560.0,576.3" fill="none" stroke="#0b2640" stroke-width="0.80" stroke-opacity="0.48"/>
<path d="M98.0,594.9 L104.0,595.8 L110.0,594.0 L116.0,592.3 L122.0,594.2 L128.0,594.7 L134.0,593.7 L140.0,595.6 L146.0,596.7 L152.0,594.5 L158.0,594.2" fill="none" stroke="#0b2640" stroke-width="0.99" stroke-opacity="0.31"/>
<path d="M170.0,592.3 L176.0,591.6 L182.0,593.7 L188.0,593.4 L194.0,593.0 L200.0,595.3 L206.0,595.3 L212.0,593.1 L218.0,593.5 L224.0,593.3 L230.0,590.8 L236.0,591.2 L242.0,593.0 L248.0,592.2 L254.0,592.6 L260.0,594.8 L266.0,593.7 L272.0,591.9 L278.0,592.8 L284.0,591.7 L290.0,589.5 L296.0,590.9 L302.0,592.1" fill="none" stroke="#0b2640" stroke-width="1.03" stroke-opacity="0.23"/>
<path d="M314.0,592.3 L320.0,594.0 L326.0,592.0" fill="none" stroke="#0b2640" stroke-width="0.95" stroke-opacity="0.43"/>
<path d="M338.0,591.9 L344.0,590.0 L350.0,588.6 L356.0,590.6 L362.0,591.0 L368.0,590.1 L374.0,592.1 L380.0,592.8 L386.0,590.5 L392.0,590.3 L398.0,590.7 L404.0,588.3 L410.0,587.9 L416.0,590.1" fill="none" stroke="#0b2640" stroke-width="1.06" stroke-opacity="0.40"/>
<path d="M428.0,589.4 L434.0,591.7 L440.0,591.3 L446.0,589.1 L452.0,589.6 L458.0,589.3 L464.0,586.9 L470.0,587.6 L476.0,589.4 L482.0,588.5 L488.0,589.0 L494.0,591.1 L500.0,589.7 L506.0,588.0 L512.0,588.9 L518.0,587.7 L524.0,585.7 L530.0,587.3 L536.0,588.4 L542.0,587.3 L548.0,588.7 L554.0,590.2 L560.0,588.0" fill="none" stroke="#0b2640" stroke-width="0.91" stroke-opacity="0.27"/>
<path d="M98.0,600.7 L104.0,600.9 L110.0,600.8 L116.0,600.2 L122.0,599.9 L128.0,600.6 L134.0,601.8 L140.0,602.3 L146.0,601.8 L152.0,600.9 L158.0,600.7 L164.0,601.1 L170.0,601.4 L176.0,601.4 L182.0,601.7 L188.0,602.4 L194.0,602.9 L200.0,602.4 L206.0,601.4 L212.0,600.9 L218.0,601.7 L224.0,602.7" fill="none" stroke="#0b2640" stroke-width="0.86" stroke-opacity="0.33"/>
<path d="M236.0,602.8 L242.0,602.7 L248.0,602.9 L254.0,602.8 L260.0,602.2 L266.0,601.8 L272.0,602.5 L278.0,603.7 L284.0,604.3 L290.0,603.8 L296.0,602.9 L302.0,602.8 L308.0,603.1 L314.0,603.3 L320.0,603.3 L326.0,603.6 L332.0,604.4 L338.0,604.9 L344.0,604.4 L350.0,603.4 L356.0,602.9 L362.0,603.6 L368.0,604.5 L374.0,604.9 L380.0,604.7 L386.0,604.7 L392.0,605.0 L398.0,604.8 L404.0,604.1 L410.0,603.7 L416.0,604.4 L422.0,605.6" fill="none" stroke="#0b2640" stroke-width="0.96" stroke-opacity="0.22"/>
<path d="M434.0,605.7 L440.0,605.0 L446.0,604.8 L452.0,605.1" fill="none" stroke="#0b2640" stroke-width="1.11" stroke-opacity="0.39"/>
<path d="M464.0,605.1 L470.0,605.4 L476.0,606.3 L482.0,606.9 L488.0,606.5 L494.0,605.4" fill="none" stroke="#0b2640" stroke-width="1.19" stroke-opacity="0.48"/>
<path d="M506.0,605.5 L512.0,606.4 L518.0,606.8 L524.0,606.6" fill="none" stroke="#0b2640" stroke-width="0.78" stroke-opacity="0.28"/>
<path d="M536.0,607.0 L542.0,606.8 L548.0,606.1 L554.0,605.6 L560.0,606.3" fill="none" stroke="#0b2640" stroke-width="1.17" stroke-opacity="0.43"/>
<path d="M98.0,605.4 L104.0,605.6 L110.0,605.4 L116.0,604.5 L122.0,604.1 L128.0,605.3 L134.0,606.8 L140.0,606.9 L146.0,606.1 L152.0,605.8 L158.0,605.8 L164.0,605.6 L170.0,606.1 L176.0,607.5 L182.0,608.3 L188.0,607.4 L194.0,606.2 L200.0,606.4 L206.0,607.1 L212.0,607.6 L218.0,608.1 L224.0,608.9 L230.0,608.7 L236.0,607.4 L242.0,606.9 L248.0,608.0 L254.0,609.3" fill="none" stroke="#0b2640" stroke-width="1.30" stroke-opacity="0.26"/>
<path d="M266.0,609.3 L272.0,609.3 L278.0,608.8 L284.0,608.1 L290.0,608.6 L296.0,610.3 L302.0,611.0 L308.0,610.3 L314.0,609.6 L320.0,609.6 L326.0,609.7 L332.0,609.8 L338.0,610.8 L344.0,612.0 L350.0,611.8 L356.0,610.4 L362.0,610.0 L368.0,610.8 L374.0,611.6 L380.0,611.9 L386.0,612.5 L392.0,612.7 L398.0,611.8 L404.0,610.8 L410.0,611.3 L416.0,612.9 L422.0,613.6 L428.0,613.2 L434.0,613.0 L440.0,612.9 L446.0,612.3 L452.0,612.2 L458.0,613.6 L464.0,614.9 L470.0,614.6 L476.0,613.6 L482.0,613.3" fill="none" stroke="#0b2640" stroke-width="1.09" stroke-opacity="0.41"/>
<path d="M494.0,613.8 L500.0,614.4 L506.0,615.5 L512.0,615.9 L518.0,614.8 L524.0,613.7 L530.0,614.3" fill="none" stroke="#0b2640" stroke-width="0.73" stroke-opacity="0.25"/>
<path d="M542.0,615.9 L548.0,616.1 L554.0,616.5 L560.0,616.1" fill="none" stroke="#0b2640" stroke-width="0.81" stroke-opacity="0.43"/>
<path d="M98.0,609.4 L104.0,609.4 L110.0,607.1 L116.0,607.8 L122.0,608.2 L128.0,606.0 L134.0,606.7 L140.0,608.1 L146.0,606.5 L152.0,606.9 L158.0,608.7 L164.0,607.0 L170.0,606.3 L176.0,607.7 L182.0,606.1 L188.0,604.7 L194.0,606.3 L200.0,605.6 L206.0,604.3" fill="none" stroke="#0b2640" stroke-width="1.22" stroke-opacity="0.37"/>
<path d="M218.0,606.5 L224.0,604.8 L230.0,606.2 L236.0,606.5 L242.0,604.1 L248.0,604.6 L254.0,605.2 L260.0,603.0 L266.0,603.4 L272.0,605.0 L278.0,603.4 L284.0,603.6 L290.0,605.5 L296.0,604.0 L302.0,603.2 L308.0,604.7 L314.0,603.2 L320.0,601.6 L326.0,603.2" fill="none" stroke="#0b2640" stroke-width="1.02" stroke-opacity="0.50"/>
<path d="M338.0,601.1 L344.0,603.0 L350.0,603.3 L356.0,601.7" fill="none" stroke="#0b2640" stroke-width="1.07" stroke-opacity="0.34"/>
<path d="M368.0,603.5 L374.0,601.1 L380.0,601.5 L386.0,602.2 L392.0,600.0 L398.0,600.2 L404.0,601.8 L410.0,600.3 L416.0,600.3 L422.0,602.3 L428.0,601.0 L434.0,600.0 L440.0,601.6 L446.0,600.2 L452.0,598.5 L458.0,600.0 L464.0,599.5 L470.0,597.9 L476.0,599.7 L482.0,600.2 L488.0,598.5 L494.0,599.8 L500.0,600.5 L506.0,598.1 L512.0,598.4 L518.0,599.2 L524.0,597.0 L530.0,597.0 L536.0,598.6 L542.0,597.2 L548.0,597.0 L554.0,599.1 L560.0,598.0" fill="none" stroke="#0b2640" stroke-width="0.96" stroke-opacity="0.23"/>
<path d="M98.0,612.8 L104.0,612.2 L110.0,613.3 L116.0,614.6 L122.0,614.0 L128.0,614.4 L134.0,615.2 L140.0,613.9 L146.0,613.2 L152.0,613.4 L158.0,611.7 L164.0,610.6 L170.0,611.2 L176.0,610.2 L182.0,609.8 L188.0,611.3 L194.0,611.4 L200.0,611.3 L206.0,613.0 L212.0,613.2 L218.0,612.5" fill="none" stroke="#0b2640" stroke-width="0.84" stroke-opacity="0.24"/>
<path d="M230.0,612.9 L236.0,611.3 L242.0,611.3 L248.0,610.6 L254.0,608.9 L260.0,609.1 L266.0,609.3 L272.0,608.3 L278.0,609.3 L284.0,610.4 L290.0,610.0 L296.0,611.0 L302.0,612.1 L308.0,611.2 L314.0,611.2 L320.0,611.6 L326.0,609.9 L332.0,609.0 L338.0,609.2" fill="none" stroke="#0b2640" stroke-width="1.21" stroke-opacity="0.35"/>
<path d="M350.0,606.9 L356.0,607.9 L362.0,607.4 L368.0,607.3 L374.0,609.0 L380.0,609.2 L386.0,609.0 L392.0,610.5 L398.0,610.3 L404.0,609.2 L410.0,609.7 L416.0,608.9 L422.0,607.1 L428.0,607.2 L434.0,606.7 L440.0,605.2 L446.0,605.8 L452.0,606.5 L458.0,605.8" fill="none" stroke="#0b2640" stroke-width="0.87" stroke-opacity="0.37"/>
<path d="M470.0,608.2 L476.0,607.7 L482.0,608.4 L488.0,609.2 L494.0,607.9 L500.0,607.4 L506.0,607.6 L512.0,605.8 L518.0,604.9 L524.0,605.3 L530.0,604.1 L536.0,603.7" fill="none" stroke="#0b2640" stroke-width="1.10" stroke-opacity="0.50"/>
<path d="M548.0,604.9 L554.0,605.0 L560.0,606.7" fill="none" stroke="#0b2640" stroke-width="0.82" stroke-opacity="0.37"/>
<path d="M98.0,616.0 L104.0,616.8 L110.0,616.8" fill="none" stroke="#0b2640" stroke-width="1.24" stroke-opacity="0.30"/>
<path d="M122.0,617.2 L128.0,619.3 L134.0,620.2 L140.0,619.2 L146.0,618.1 L152.0,618.3 L158.0,618.5 L164.0,617.6 L170.0,617.0 L176.0,618.4 L182.0,620.4 L188.0,621.0" fill="none" stroke="#0b2640" stroke-width="1.02" stroke-opacity="0.47"/>
<path d="M200.0,620.1 L206.0,620.7 L212.0,620.2 L218.0,618.6" fill="none" stroke="#0b2640" stroke-width="1.20" stroke-opacity="0.50"/>
<path d="M230.0,619.7 L236.0,621.3 L242.0,621.5 L248.0,621.3 L254.0,622.1 L260.0,622.8 L266.0,621.7 L272.0,619.9 L278.0,619.8 L284.0,621.1 L290.0,622.0 L296.0,621.8 L302.0,622.4 L308.0,623.9 L314.0,624.5 L320.0,623.1 L326.0,621.6 L332.0,621.8 L338.0,622.6 L344.0,622.5 L350.0,622.3 L356.0,623.6 L362.0,625.5" fill="none" stroke="#0b2640" stroke-width="0.87" stroke-opacity="0.43"/>
<path d="M374.0,624.4 L380.0,623.6 L386.0,624.0 L392.0,624.0 L398.0,623.1 L404.0,623.0 L410.0,624.8 L416.0,626.7 L422.0,626.7 L428.0,625.8 L434.0,625.8 L440.0,626.2 L446.0,625.4 L452.0,624.0 L458.0,624.2 L464.0,626.1 L470.0,627.4 L476.0,627.3 L482.0,627.1 L488.0,628.0 L494.0,628.2 L500.0,626.8 L506.0,625.3 L512.0,625.7 L518.0,627.3 L524.0,627.9 L530.0,627.8 L536.0,628.5 L542.0,629.9 L548.0,629.9 L554.0,628.2 L560.0,627.0" fill="none" stroke="#0b2640" stroke-width="1.11" stroke-opacity="0.21"/>
<path d="M98.0,620.6 L104.0,621.1 L110.0,620.9 L116.0,620.6 L122.0,621.6 L128.0,622.9 L134.0,622.7 L140.0,622.6 L146.0,623.3 L152.0,623.1" fill="none" stroke="#0b2640" stroke-width="1.29" stroke-opacity="0.26"/>
<path d="M164.0,620.9 L170.0,621.0 L176.0,620.4 L182.0,619.6 L188.0,620.2 L194.0,621.4 L200.0,621.5 L206.0,621.6 L212.0,622.7 L218.0,623.1 L224.0,622.0 L230.0,621.4 L236.0,621.5 L242.0,620.6 L248.0,619.3 L254.0,619.4 L260.0,620.2 L266.0,620.1 L272.0,620.1 L278.0,621.4 L284.0,622.3 L290.0,621.8 L296.0,621.6 L302.0,621.9 L308.0,621.3 L314.0,619.7 L320.0,619.3 L326.0,619.6 L332.0,619.1 L338.0,618.8 L344.0,619.9 L350.0,621.0 L356.0,620.9 L362.0,621.0 L368.0,621.9 L374.0,621.7 L380.0,620.3 L386.0,619.8 L392.0,619.8 L398.0,618.9 L404.0,618.0 L410.0,618.6 L416.0,619.6 L422.0,619.5 L428.0,619.8 L434.0,621.1 L440.0,621.5 L446.0,620.6 L452.0,620.2 L458.0,620.3 L464.0,619.3 L470.0,618.0" fill="none" stroke="#0b2640" stroke-width="0.99" stroke-opacity="0.43"/>
<path d="M482.0,618.6 L488.0,618.2 L494.0,618.3 L500.0,619.7 L506.0,620.5 L512.0,620.1 L518.0,620.2 L524.0,620.7 L530.0,619.9" fill="none" stroke="#0b2640" stroke-width="0.79" stroke-opacity="0.43"/>
<path d="M542.0,618.2 L548.0,618.3 L554.0,617.5 L560.0,617.1" fill="none" stroke="#0b2640" stroke-width="1.10" stroke-opacity="0.37"/>
<path d="M98.0,629.1 L104.0,626.4 L110.0,627.2 L116.0,624.0 L122.0,625.5 L128.0,623.8 L134.0,626.8" fill="none" stroke="#0b2640" stroke-width="1.08" stroke-opacity="0.25"/>
<path d="M146.0,627.8 L152.0,625.1 L158.0,625.7" fill="none" stroke="#0b2640" stroke-width="1.28" stroke-opacity="0.24"/>
<path d="M170.0,624.2 L176.0,623.0 L182.0,625.6 L188.0,624.8 L194.0,626.3 L200.0,623.9 L206.0,624.1 L212.0,621.7 L218.0,622.8 L224.0,622.2 L230.0,624.4 L236.0,623.9 L242.0,624.8 L248.0,622.8 L254.0,622.4 L260.0,620.6 L266.0,621.4 L272.0,621.4 L278.0,623.1 L284.0,623.0 L290.0,623.2 L296.0,621.7" fill="none" stroke="#0b2640" stroke-width="1.28" stroke-opacity="0.22"/>
<path d="M308.0,619.7 L314.0,620.1 L320.0,620.7 L326.0,621.8 L332.0,622.2 L338.0,621.6 L344.0,620.6 L350.0,619.1 L356.0,618.8 L362.0,618.7 L368.0,620.0 L374.0,620.4 L380.0,621.3 L386.0,619.9 L392.0,619.4 L398.0,617.5 L404.0,617.9 L410.0,617.4 L416.0,619.3 L422.0,619.1 L428.0,620.3 L434.0,618.3 L440.0,618.3 L446.0,615.9 L452.0,617.0 L458.0,616.1 L464.0,618.6 L470.0,617.8 L476.0,619.3 L482.0,616.7 L488.0,617.1" fill="none" stroke="#0b2640" stroke-width="0.75" stroke-opacity="0.27"/>
<path d="M500.0,616.0 L506.0,614.9 L512.0,617.8 L518.0,616.5 L524.0,618.2" fill="none" stroke="#0b2640" stroke-width="1.02" stroke-opacity="0.43"/>
<path d="M536.0,615.9 L542.0,613.0 L548.0,615.1 L554.0,613.8 L560.0,616.9" fill="none" stroke="#0b2640" stroke-width="1.01" stroke-opacity="0.44"/>
<path d="M98.0,631.6 L104.0,629.8 L110.0,629.9 L116.0,631.4 L122.0,631.5 L128.0,633.7 L134.0,631.1" fill="none" stroke="#0b2640" stroke-width="0.85" stroke-opacity="0.48"/>
<path d="M146.0,629.2 L152.0,631.6 L158.0,631.0 L164.0,633.3 L170.0,633.0 L176.0,632.2 L182.0,631.8 L188.0,629.9 L194.0,632.3 L200.0,631.4 L206.0,634.6 L212.0,632.4" fill="none" stroke="#0b2640" stroke-width="1.27" stroke-opacity="0.22"/>
<path d="M224.0,630.8 L230.0,631.6 L236.0,632.0 L242.0,633.0 L248.0,634.6 L254.0,632.8 L260.0,633.7 L266.0,630.6 L272.0,632.9 L278.0,631.8 L284.0,634.9 L290.0,633.9 L296.0,634.1" fill="none" stroke="#0b2640" stroke-width="0.93" stroke-opacity="0.30"/>
<path d="M308.0,631.6 L314.0,633.1 L320.0,632.7 L326.0,635.8 L332.0,633.6 L338.0,635.1 L344.0,631.9 L350.0,633.2 L356.0,632.6 L362.0,634.5 L368.0,635.4 L374.0,634.6 L380.0,634.8 L386.0,632.1 L392.0,634.1 L398.0,632.7 L404.0,636.2 L410.0,634.8 L416.0,636.0 L422.0,633.8 L428.0,633.4 L434.0,633.8 L440.0,634.1 L446.0,636.7 L452.0,635.1 L458.0,636.6 L464.0,633.1 L470.0,634.8 L476.0,633.4 L482.0,636.1 L488.0,636.1 L494.0,636.4 L500.0,635.9 L506.0,633.8 L512.0,635.1 L518.0,633.9 L524.0,637.4 L530.0,635.8 L536.0,637.7 L542.0,634.8 L548.0,635.3 L554.0,634.5 L560.0,635.6" fill="none" stroke="#0b2640" stroke-width="0.87" stroke-opacity="0.50"/>
<path d="M98.0,632.3 L104.0,633.3 L110.0,635.2 L116.0,635.8 L122.0,634.5 L128.0,633.6 L134.0,634.0 L140.0,634.4 L146.0,633.5 L152.0,632.2 L158.0,632.5 L164.0,634.4 L170.0,635.6 L176.0,634.6 L182.0,632.9 L188.0,632.6 L194.0,633.4 L200.0,633.4 L206.0,632.4 L212.0,632.1 L218.0,633.5" fill="none" stroke="#0b2640" stroke-width="0.75" stroke-opacity="0.29"/>
<path d="M230.0,634.5 L236.0,632.4 L242.0,631.4 L248.0,632.2 L254.0,633.1 L260.0,632.7 L266.0,632.0 L272.0,632.6 L278.0,634.0 L284.0,634.1 L290.0,632.2 L296.0,630.5 L302.0,631.0 L308.0,632.5 L314.0,632.9 L320.0,632.1 L326.0,631.8" fill="none" stroke="#0b2640" stroke-width="1.20" stroke-opacity="0.37"/>
<path d="M338.0,633.3 L344.0,632.0 L350.0,630.1 L356.0,630.0 L362.0,631.7 L368.0,632.9 L374.0,632.4 L380.0,631.3 L386.0,631.5 L392.0,632.2 L398.0,631.7 L404.0,630.0 L410.0,629.3 L416.0,630.8 L422.0,632.6 L428.0,632.5 L434.0,631.0 L440.0,630.3 L446.0,630.9 L452.0,631.1 L458.0,630.1 L464.0,629.1 L470.0,630.0 L476.0,631.9 L482.0,632.4" fill="none" stroke="#0b2640" stroke-width="1.23" stroke-opacity="0.46"/>
<path d="M494.0,629.3 L500.0,629.4 L506.0,630.3 L512.0,630.2 L518.0,629.2 L524.0,629.3 L530.0,630.9 L536.0,631.9 L542.0,630.8 L548.0,628.7 L554.0,628.2 L560.0,629.3" fill="none" stroke="#0b2640" stroke-width="0.73" stroke-opacity="0.50"/>
<path d="M98.0,639.5 L104.0,640.0 L110.0,639.0 L116.0,637.3 L122.0,636.7 L128.0,637.5 L134.0,638.4 L140.0,638.2 L146.0,637.6" fill="none" stroke="#0b2640" stroke-width="0.82" stroke-opacity="0.42"/>
<path d="M158.0,639.7 L164.0,641.0 L170.0,640.7 L176.0,639.6 L182.0,639.1 L188.0,639.7 L194.0,640.0 L200.0,639.0 L206.0,637.6 L212.0,637.4 L218.0,638.6" fill="none" stroke="#0b2640" stroke-width="0.78" stroke-opacity="0.29"/>
<path d="M230.0,640.0 L236.0,639.5 L242.0,639.9 L248.0,641.2 L254.0,642.1 L260.0,641.4 L266.0,639.8 L272.0,639.1 L278.0,639.7 L284.0,640.1 L290.0,639.5 L296.0,638.6 L302.0,638.8 L308.0,640.4 L314.0,641.8 L320.0,641.9 L326.0,641.2 L332.0,641.1 L338.0,642.0 L344.0,642.5 L350.0,641.5 L356.0,639.8 L362.0,639.3 L368.0,640.1 L374.0,641.0 L380.0,640.8 L386.0,640.2 L392.0,640.7 L398.0,642.3 L404.0,643.6 L410.0,643.3 L416.0,642.1 L422.0,641.6 L428.0,642.2 L434.0,642.5 L440.0,641.5 L446.0,640.1 L452.0,639.9 L458.0,641.2 L464.0,642.5 L470.0,642.6 L476.0,642.1 L482.0,642.5 L488.0,643.8 L494.0,644.6 L500.0,643.9 L506.0,642.3 L512.0,641.6 L518.0,642.2 L524.0,642.7 L530.0,642.1 L536.0,641.1 L542.0,641.4 L548.0,643.0 L554.0,644.4 L560.0,644.5" fill="none" stroke="#0b2640" stroke-width="1.05" stroke-opacity="0.38"/>
<path d="M104.5,635.3 C105.0,634.5 108.7,630.1 110.4,629.3 C112.1,628.5 116.3,629.0 118.7,628.8 C121.1,628.6 128.1,627.9 130.6,627.6 C133.1,627.3 137.7,626.7 140.0,626.6 C142.3,626.5 148.8,626.8 150.7,627.0 C152.6,627.2 155.4,627.8 156.6,628.2 C157.8,628.6 160.6,630.1 161.4,630.5 C162.2,630.9 163.5,631.3 163.2,631.7 C162.9,632.1 160.7,633.8 159.0,634.1 C157.3,634.5 151.6,634.6 148.3,634.7 C145.0,634.8 134.7,635.0 130.6,635.3 C126.5,635.6 115.7,637.0 112.8,637.1 C109.9,637.2 106.7,636.5 105.7,636.3 C104.7,636.1 104.0,636.1 104.5,635.3Z" fill="none" stroke="#2b3d50" stroke-width="5" stroke-opacity="0.22"/>
<path d="M161.4,628.8 C162.4,628.0 169.8,628.1 172.0,627.8 C174.2,627.5 178.2,626.7 180.3,626.4 C182.4,626.1 187.9,625.2 189.8,625.0 C191.7,624.8 194.8,625.5 196.9,625.0 C199.0,624.5 205.2,621.7 207.6,620.5 C210.0,619.3 215.0,615.5 217.1,614.5 C219.2,613.5 223.8,612.3 225.4,612.2 C227.0,612.1 229.4,612.7 230.6,613.3 C231.8,613.9 234.8,616.6 235.5,617.5 C236.2,618.4 236.4,620.2 236.2,621.0 C236.0,621.8 233.1,624.1 233.4,624.5 C233.7,624.9 237.4,624.9 239.0,624.5 C240.6,624.1 245.2,621.8 247.3,621.0 C249.4,620.2 255.8,617.3 257.1,617.5 C258.4,617.7 258.7,621.1 258.5,622.4 C258.3,623.7 255.2,628.0 255.7,628.7 C256.2,629.4 260.9,628.5 262.7,628.0 C264.5,627.5 269.1,625.3 271.0,624.5 C272.9,623.7 277.6,621.3 279.4,621.0 C281.2,620.7 285.1,621.3 286.4,621.7 C287.7,622.1 289.2,624.0 290.5,624.5 C291.8,625.0 296.0,626.0 297.5,625.9 C299.0,625.8 301.8,623.8 303.1,623.8 C304.4,623.8 306.7,625.7 308.7,625.9 C310.7,626.1 316.3,625.6 320.0,625.5 C323.7,625.4 336.3,625.1 340.0,625.0 C343.7,624.9 349.7,624.5 352.0,624.6 C354.3,624.7 359.3,624.8 360.0,625.5 C360.7,626.2 357.8,629.5 358.0,630.3 C358.2,631.1 361.8,631.8 362.0,632.5 C362.2,633.2 367.2,635.5 360.0,636.0 C352.8,636.5 314.6,636.5 300.0,636.5 C285.4,636.5 245.1,636.2 235.0,636.0 C224.9,635.8 218.8,634.7 213.5,634.7 C208.2,634.7 195.1,635.7 189.8,635.9 C184.6,636.1 171.5,636.6 168.5,636.5 C165.5,636.4 164.6,635.6 163.8,634.7 C163.0,633.8 160.4,629.6 161.4,628.8Z" fill="none" stroke="#2b3d50" stroke-width="5" stroke-opacity="0.22"/>
<path d="M275.2,592.4 C275.4,591.3 277.2,589.4 278.0,588.9 C278.8,588.4 281.5,587.7 282.2,588.2 C282.9,588.7 282.6,592.4 283.6,593.1 C284.6,593.8 288.2,593.6 290.5,593.8 C292.8,594.0 301.3,594.1 303.1,594.5 C304.9,594.9 305.9,596.2 305.9,597.3 C305.9,598.4 302.8,602.5 303.1,603.6 C303.4,604.7 307.4,606.9 308.7,607.1 C310.0,607.3 313.2,605.7 314.2,605.0 C315.2,604.3 316.0,601.5 317.0,600.8 C318.0,600.1 321.0,598.8 322.6,598.7 C324.2,598.6 329.4,599.5 331.0,600.1 C332.6,600.7 335.3,602.7 336.6,603.6 C337.9,604.5 340.8,607.2 342.1,607.8 C343.4,608.4 346.7,607.8 347.7,609.1 C348.7,610.4 350.8,617.5 350.5,618.9 C350.2,620.3 346.8,620.8 345.0,621.0 C343.2,621.2 337.6,621.2 335.0,621.0 C332.4,620.8 324.4,618.9 322.6,618.9 C320.8,618.9 321.4,620.8 319.8,621.0 C318.2,621.2 310.6,621.2 308.7,621.0 C306.8,620.8 304.7,619.6 303.1,618.9 C301.5,618.2 296.6,615.7 294.7,614.7 C292.8,613.7 288.2,611.1 286.4,610.5 C284.6,609.9 280.7,610.1 279.4,609.8 C278.1,609.5 275.4,608.5 275.2,607.8 C275.0,607.1 277.8,604.7 278.0,603.6 C278.2,602.5 276.9,599.3 276.6,598.0 C276.3,596.7 275.0,593.5 275.2,592.4Z" fill="none" stroke="#2b3d50" stroke-width="5" stroke-opacity="0.22"/>
<path d="M336.6,588.2 C336.8,587.4 339.6,586.6 340.7,586.8 C341.8,587.0 345.3,588.6 346.3,589.6 C347.3,590.6 348.1,594.1 349.1,595.2 C350.1,596.3 353.8,598.6 354.7,599.4 C355.6,600.2 356.7,601.1 357.0,602.0 C357.3,602.9 357.5,606.5 357.0,607.0 C356.5,607.5 353.8,606.4 353.0,606.0 C352.2,605.6 351.4,604.4 350.5,603.6 C349.6,602.8 346.2,600.5 344.9,599.4 C343.6,598.3 340.4,595.1 339.4,593.8 C338.4,592.5 336.4,589.0 336.6,588.2Z" fill="none" stroke="#2b3d50" stroke-width="5" stroke-opacity="0.22"/>
<path d="M347.0,605.0 C347.6,604.3 351.8,605.8 353.0,606.0 C354.2,606.2 356.5,605.3 357.0,607.0 C357.5,608.7 357.9,618.6 357.5,620.3 C357.1,622.0 354.1,621.9 353.3,621.7 C352.5,621.5 351.1,620.0 350.5,618.9 C349.9,617.8 348.4,613.6 348.0,612.0 C347.6,610.4 346.4,605.7 347.0,605.0Z" fill="none" stroke="#2b3d50" stroke-width="5" stroke-opacity="0.22"/>
<path d="M358.5,601.0 C358.9,599.3 360.7,598.4 362.5,597.7 C364.3,597.0 371.3,595.4 373.8,595.2 C376.3,595.0 382.3,595.3 383.9,595.8 C385.5,596.3 387.3,598.6 387.6,599.6 C387.9,600.6 387.3,603.2 386.4,604.0 C385.5,604.8 381.9,606.4 380.1,606.5 C378.3,606.6 373.1,605.1 371.3,605.2 C369.5,605.3 365.9,606.7 365.0,607.7 C364.1,608.7 363.6,612.5 363.8,614.0 C364.0,615.5 366.5,619.2 366.3,620.3 C366.1,621.4 363.3,623.0 362.5,623.4 C361.7,623.8 359.9,624.8 359.5,623.5 C359.1,622.2 359.6,614.6 359.5,612.0 C359.4,609.4 358.1,602.7 358.5,601.0Z" fill="none" stroke="#2b3d50" stroke-width="5" stroke-opacity="0.22"/>
<path d="M355.0,630.3 C355.7,629.6 363.9,626.4 367.6,625.3 C371.3,624.2 383.5,621.2 386.4,620.9 C389.3,620.6 390.9,622.5 392.7,622.8 C394.5,623.1 400.9,623.1 401.5,623.4 C402.1,623.7 399.5,625.1 397.7,625.3 C395.9,625.5 389.2,624.4 386.4,624.7 C383.6,625.0 376.7,627.0 373.8,627.8 C370.9,628.6 363.5,631.3 361.3,631.6 C359.1,631.9 354.3,631.0 355.0,630.3Z" fill="none" stroke="#2b3d50" stroke-width="5" stroke-opacity="0.22"/>
<path d="M399.0,601.5 C399.6,601.3 403.6,601.2 405.2,600.8 C406.8,600.4 411.0,598.6 412.8,597.7 C414.6,596.8 419.0,593.9 420.3,592.7 C421.6,591.5 423.3,588.6 424.1,587.6 C424.9,586.6 426.3,584.9 427.2,584.5 C428.1,584.1 431.4,584.1 432.2,584.5 C433.0,584.9 433.4,587.1 434.1,587.6 C434.8,588.1 436.0,589.3 437.9,588.9 C439.8,588.5 447.5,585.7 450.4,584.5 C453.3,583.3 460.7,579.6 463.0,578.2 C465.3,576.8 468.7,573.8 470.5,572.6 C472.3,571.4 476.3,568.6 478.1,568.2 C479.9,567.8 484.3,568.3 485.6,568.8 C486.9,569.3 489.1,571.4 489.4,572.6 C489.7,573.8 488.5,577.3 488.1,578.9 C487.7,580.5 486.3,584.5 485.6,586.4 C484.9,588.3 482.8,593.3 481.8,595.2 C480.8,597.1 477.8,601.2 476.8,602.7 C475.8,604.2 472.7,607.2 473.0,607.7 C473.3,608.2 478.1,607.7 479.3,607.1 C480.5,606.5 482.5,603.6 483.1,602.7 C483.7,601.8 483.7,599.7 484.3,599.0 C484.9,598.3 487.6,597.0 488.1,597.1 C488.6,597.2 489.0,599.3 488.7,600.2 C488.4,601.1 486.7,604.2 485.6,605.2 C484.5,606.2 480.5,608.3 479.3,609.0 C478.1,609.7 476.2,610.0 475.5,610.9 C474.8,611.8 472.4,615.6 473.0,616.5 C473.6,617.4 480.0,618.4 480.6,619.0 C481.2,619.6 479.6,620.9 478.1,621.5 C476.6,622.1 470.2,623.4 468.0,624.1 C465.8,624.8 460.4,627.1 459.2,627.8 C458.0,628.5 459.9,629.7 458.0,630.3 C456.1,630.9 446.1,632.3 442.9,632.8 C439.7,633.3 433.2,634.4 430.3,634.7 C427.4,635.0 422.2,635.2 417.8,635.4 C413.4,635.6 398.1,636.0 392.7,636.0 C387.3,636.0 372.8,636.1 371.3,635.4 C369.8,634.7 377.9,631.2 380.1,630.3 C382.3,629.4 387.6,627.9 390.2,627.8 C392.8,627.7 399.9,629.5 402.7,629.7 C405.5,629.9 412.1,629.5 414.0,629.1 C415.9,628.7 418.0,627.5 419.0,626.6 C420.0,625.7 422.1,622.5 422.8,621.5 C423.5,620.5 424.4,618.7 425.3,617.8 C426.2,616.9 429.4,614.7 430.3,614.0 C431.2,613.3 433.1,611.8 432.8,611.5 C432.5,611.2 428.7,612.1 427.8,611.5 C426.9,610.9 426.5,607.2 425.3,606.5 C424.1,605.8 419.5,605.0 417.8,605.2 C416.1,605.4 412.2,607.3 411.0,608.0 C409.8,608.7 408.4,611.5 407.7,611.5 C407.0,611.5 406.1,608.7 405.2,607.7 C404.3,606.7 400.9,603.4 400.2,602.7 C399.5,602.0 398.4,601.7 399.0,601.5Z" fill="none" stroke="#2b3d50" stroke-width="5" stroke-opacity="0.22"/>
<path d="M489.5,589.0 C489.9,588.2 494.0,585.3 495.4,584.9 C496.8,584.5 499.9,585.0 501.3,585.5 C502.7,586.0 505.8,588.3 507.3,589.0 C508.8,589.7 513.3,590.6 513.8,591.4 C514.3,592.2 511.5,594.6 512.0,595.6 C512.5,596.6 516.3,599.4 517.9,600.3 C519.5,601.2 525.0,602.7 525.6,603.3 C526.2,603.9 523.0,605.0 522.7,605.6 C522.4,606.2 523.3,608.0 522.7,608.6 C522.1,609.2 519.6,610.2 517.9,611.0 C516.2,611.8 509.8,615.0 508.4,615.1 C507.0,615.2 506.6,613.0 506.1,612.1 C505.6,611.2 504.3,608.2 503.7,607.4 C503.1,606.6 501.8,604.9 501.3,605.0 C500.8,605.1 499.7,608.3 499.0,608.6 C498.3,608.9 495.7,608.1 495.4,607.4 C495.1,606.7 496.1,603.5 496.6,602.7 C497.1,601.9 499.6,601.3 500.1,600.3 C500.6,599.3 501.6,595.5 501.3,594.4 C501.0,593.3 498.9,591.1 497.8,590.8 C496.7,590.4 492.9,591.6 491.9,591.4 C490.9,591.2 489.1,589.8 489.5,589.0Z" fill="none" stroke="#2b3d50" stroke-width="5" stroke-opacity="0.22"/>
<path d="M440.0,600.0 L452.0,596.0 L468.0,598.0 L476.0,604.0" fill="none" stroke="#1b2d40" stroke-width="0.9" stroke-opacity="0.6"/>
<path d="M412.0,606.0 L420.0,600.0 L426.0,594.0" fill="none" stroke="#1b2d40" stroke-width="0.9" stroke-opacity="0.6"/>
<path d="M290.0,610.0 L305.0,606.0 L320.0,608.0 L335.0,607.0" fill="none" stroke="#1b2d40" stroke-width="0.9" stroke-opacity="0.6"/>
<path d="M500.0,598.0 L508.0,603.0 L515.0,605.0" fill="none" stroke="#1b2d40" stroke-width="0.9" stroke-opacity="0.6"/>
</g>
<path d="M104.5,635.3 C105.0,634.5 108.7,630.1 110.4,629.3 C112.1,628.5 116.3,629.0 118.7,628.8 C121.1,628.6 128.1,627.9 130.6,627.6 C133.1,627.3 137.7,626.7 140.0,626.6 C142.3,626.5 148.8,626.8 150.7,627.0 C152.6,627.2 155.4,627.8 156.6,628.2 C157.8,628.6 160.6,630.1 161.4,630.5 C162.2,630.9 163.5,631.3 163.2,631.7 C162.9,632.1 160.7,633.8 159.0,634.1 C157.3,634.5 151.6,634.6 148.3,634.7 C145.0,634.8 134.7,635.0 130.6,635.3 C126.5,635.6 115.7,637.0 112.8,637.1 C109.9,637.2 106.7,636.5 105.7,636.3 C104.7,636.1 104.0,636.1 104.5,635.3Z" fill="none" stroke="#14283c" stroke-width="0.9" stroke-opacity="0.85" stroke-linejoin="round"/>
<path d="M161.4,628.8 C162.4,628.0 169.8,628.1 172.0,627.8 C174.2,627.5 178.2,626.7 180.3,626.4 C182.4,626.1 187.9,625.2 189.8,625.0 C191.7,624.8 194.8,625.5 196.9,625.0 C199.0,624.5 205.2,621.7 207.6,620.5 C210.0,619.3 215.0,615.5 217.1,614.5 C219.2,613.5 223.8,612.3 225.4,612.2 C227.0,612.1 229.4,612.7 230.6,613.3 C231.8,613.9 234.8,616.6 235.5,617.5 C236.2,618.4 236.4,620.2 236.2,621.0 C236.0,621.8 233.1,624.1 233.4,624.5 C233.7,624.9 237.4,624.9 239.0,624.5 C240.6,624.1 245.2,621.8 247.3,621.0 C249.4,620.2 255.8,617.3 257.1,617.5 C258.4,617.7 258.7,621.1 258.5,622.4 C258.3,623.7 255.2,628.0 255.7,628.7 C256.2,629.4 260.9,628.5 262.7,628.0 C264.5,627.5 269.1,625.3 271.0,624.5 C272.9,623.7 277.6,621.3 279.4,621.0 C281.2,620.7 285.1,621.3 286.4,621.7 C287.7,622.1 289.2,624.0 290.5,624.5 C291.8,625.0 296.0,626.0 297.5,625.9 C299.0,625.8 301.8,623.8 303.1,623.8 C304.4,623.8 306.7,625.7 308.7,625.9 C310.7,626.1 316.3,625.6 320.0,625.5 C323.7,625.4 336.3,625.1 340.0,625.0 C343.7,624.9 349.7,624.5 352.0,624.6 C354.3,624.7 359.3,624.8 360.0,625.5 C360.7,626.2 357.8,629.5 358.0,630.3 C358.2,631.1 361.8,631.8 362.0,632.5 C362.2,633.2 367.2,635.5 360.0,636.0 C352.8,636.5 314.6,636.5 300.0,636.5 C285.4,636.5 245.1,636.2 235.0,636.0 C224.9,635.8 218.8,634.7 213.5,634.7 C208.2,634.7 195.1,635.7 189.8,635.9 C184.6,636.1 171.5,636.6 168.5,636.5 C165.5,636.4 164.6,635.6 163.8,634.7 C163.0,633.8 160.4,629.6 161.4,628.8Z" fill="none" stroke="#14283c" stroke-width="0.9" stroke-opacity="0.85" stroke-linejoin="round"/>
<path d="M275.2,592.4 C275.4,591.3 277.2,589.4 278.0,588.9 C278.8,588.4 281.5,587.7 282.2,588.2 C282.9,588.7 282.6,592.4 283.6,593.1 C284.6,593.8 288.2,593.6 290.5,593.8 C292.8,594.0 301.3,594.1 303.1,594.5 C304.9,594.9 305.9,596.2 305.9,597.3 C305.9,598.4 302.8,602.5 303.1,603.6 C303.4,604.7 307.4,606.9 308.7,607.1 C310.0,607.3 313.2,605.7 314.2,605.0 C315.2,604.3 316.0,601.5 317.0,600.8 C318.0,600.1 321.0,598.8 322.6,598.7 C324.2,598.6 329.4,599.5 331.0,600.1 C332.6,600.7 335.3,602.7 336.6,603.6 C337.9,604.5 340.8,607.2 342.1,607.8 C343.4,608.4 346.7,607.8 347.7,609.1 C348.7,610.4 350.8,617.5 350.5,618.9 C350.2,620.3 346.8,620.8 345.0,621.0 C343.2,621.2 337.6,621.2 335.0,621.0 C332.4,620.8 324.4,618.9 322.6,618.9 C320.8,618.9 321.4,620.8 319.8,621.0 C318.2,621.2 310.6,621.2 308.7,621.0 C306.8,620.8 304.7,619.6 303.1,618.9 C301.5,618.2 296.6,615.7 294.7,614.7 C292.8,613.7 288.2,611.1 286.4,610.5 C284.6,609.9 280.7,610.1 279.4,609.8 C278.1,609.5 275.4,608.5 275.2,607.8 C275.0,607.1 277.8,604.7 278.0,603.6 C278.2,602.5 276.9,599.3 276.6,598.0 C276.3,596.7 275.0,593.5 275.2,592.4Z" fill="none" stroke="#14283c" stroke-width="0.9" stroke-opacity="0.85" stroke-linejoin="round"/>
<path d="M336.6,588.2 C336.8,587.4 339.6,586.6 340.7,586.8 C341.8,587.0 345.3,588.6 346.3,589.6 C347.3,590.6 348.1,594.1 349.1,595.2 C350.1,596.3 353.8,598.6 354.7,599.4 C355.6,600.2 356.7,601.1 357.0,602.0 C357.3,602.9 357.5,606.5 357.0,607.0 C356.5,607.5 353.8,606.4 353.0,606.0 C352.2,605.6 351.4,604.4 350.5,603.6 C349.6,602.8 346.2,600.5 344.9,599.4 C343.6,598.3 340.4,595.1 339.4,593.8 C338.4,592.5 336.4,589.0 336.6,588.2Z" fill="none" stroke="#14283c" stroke-width="0.9" stroke-opacity="0.85" stroke-linejoin="round"/>
<path d="M347.0,605.0 C347.6,604.3 351.8,605.8 353.0,606.0 C354.2,606.2 356.5,605.3 357.0,607.0 C357.5,608.7 357.9,618.6 357.5,620.3 C357.1,622.0 354.1,621.9 353.3,621.7 C352.5,621.5 351.1,620.0 350.5,618.9 C349.9,617.8 348.4,613.6 348.0,612.0 C347.6,610.4 346.4,605.7 347.0,605.0Z" fill="none" stroke="#14283c" stroke-width="0.9" stroke-opacity="0.85" stroke-linejoin="round"/>
<path d="M358.5,601.0 C358.9,599.3 360.7,598.4 362.5,597.7 C364.3,597.0 371.3,595.4 373.8,595.2 C376.3,595.0 382.3,595.3 383.9,595.8 C385.5,596.3 387.3,598.6 387.6,599.6 C387.9,600.6 387.3,603.2 386.4,604.0 C385.5,604.8 381.9,606.4 380.1,606.5 C378.3,606.6 373.1,605.1 371.3,605.2 C369.5,605.3 365.9,606.7 365.0,607.7 C364.1,608.7 363.6,612.5 363.8,614.0 C364.0,615.5 366.5,619.2 366.3,620.3 C366.1,621.4 363.3,623.0 362.5,623.4 C361.7,623.8 359.9,624.8 359.5,623.5 C359.1,622.2 359.6,614.6 359.5,612.0 C359.4,609.4 358.1,602.7 358.5,601.0Z" fill="none" stroke="#14283c" stroke-width="0.9" stroke-opacity="0.85" stroke-linejoin="round"/>
<path d="M355.0,630.3 C355.7,629.6 363.9,626.4 367.6,625.3 C371.3,624.2 383.5,621.2 386.4,620.9 C389.3,620.6 390.9,622.5 392.7,622.8 C394.5,623.1 400.9,623.1 401.5,623.4 C402.1,623.7 399.5,625.1 397.7,625.3 C395.9,625.5 389.2,624.4 386.4,624.7 C383.6,625.0 376.7,627.0 373.8,627.8 C370.9,628.6 363.5,631.3 361.3,631.6 C359.1,631.9 354.3,631.0 355.0,630.3Z" fill="none" stroke="#14283c" stroke-width="0.9" stroke-opacity="0.85" stroke-linejoin="round"/>
<path d="M399.0,601.5 C399.6,601.3 403.6,601.2 405.2,600.8 C406.8,600.4 411.0,598.6 412.8,597.7 C414.6,596.8 419.0,593.9 420.3,592.7 C421.6,591.5 423.3,588.6 424.1,587.6 C424.9,586.6 426.3,584.9 427.2,584.5 C428.1,584.1 431.4,584.1 432.2,584.5 C433.0,584.9 433.4,587.1 434.1,587.6 C434.8,588.1 436.0,589.3 437.9,588.9 C439.8,588.5 447.5,585.7 450.4,584.5 C453.3,583.3 460.7,579.6 463.0,578.2 C465.3,576.8 468.7,573.8 470.5,572.6 C472.3,571.4 476.3,568.6 478.1,568.2 C479.9,567.8 484.3,568.3 485.6,568.8 C486.9,569.3 489.1,571.4 489.4,572.6 C489.7,573.8 488.5,577.3 488.1,578.9 C487.7,580.5 486.3,584.5 485.6,586.4 C484.9,588.3 482.8,593.3 481.8,595.2 C480.8,597.1 477.8,601.2 476.8,602.7 C475.8,604.2 472.7,607.2 473.0,607.7 C473.3,608.2 478.1,607.7 479.3,607.1 C480.5,606.5 482.5,603.6 483.1,602.7 C483.7,601.8 483.7,599.7 484.3,599.0 C484.9,598.3 487.6,597.0 488.1,597.1 C488.6,597.2 489.0,599.3 488.7,600.2 C488.4,601.1 486.7,604.2 485.6,605.2 C484.5,606.2 480.5,608.3 479.3,609.0 C478.1,609.7 476.2,610.0 475.5,610.9 C474.8,611.8 472.4,615.6 473.0,616.5 C473.6,617.4 480.0,618.4 480.6,619.0 C481.2,619.6 479.6,620.9 478.1,621.5 C476.6,622.1 470.2,623.4 468.0,624.1 C465.8,624.8 460.4,627.1 459.2,627.8 C458.0,628.5 459.9,629.7 458.0,630.3 C456.1,630.9 446.1,632.3 442.9,632.8 C439.7,633.3 433.2,634.4 430.3,634.7 C427.4,635.0 422.2,635.2 417.8,635.4 C413.4,635.6 398.1,636.0 392.7,636.0 C387.3,636.0 372.8,636.1 371.3,635.4 C369.8,634.7 377.9,631.2 380.1,630.3 C382.3,629.4 387.6,627.9 390.2,627.8 C392.8,627.7 399.9,629.5 402.7,629.7 C405.5,629.9 412.1,629.5 414.0,629.1 C415.9,628.7 418.0,627.5 419.0,626.6 C420.0,625.7 422.1,622.5 422.8,621.5 C423.5,620.5 424.4,618.7 425.3,617.8 C426.2,616.9 429.4,614.7 430.3,614.0 C431.2,613.3 433.1,611.8 432.8,611.5 C432.5,611.2 428.7,612.1 427.8,611.5 C426.9,610.9 426.5,607.2 425.3,606.5 C424.1,605.8 419.5,605.0 417.8,605.2 C416.1,605.4 412.2,607.3 411.0,608.0 C409.8,608.7 408.4,611.5 407.7,611.5 C407.0,611.5 406.1,608.7 405.2,607.7 C404.3,606.7 400.9,603.4 400.2,602.7 C399.5,602.0 398.4,601.7 399.0,601.5Z" fill="none" stroke="#14283c" stroke-width="0.9" stroke-opacity="0.85" stroke-linejoin="round"/>
<path d="M489.5,589.0 C489.9,588.2 494.0,585.3 495.4,584.9 C496.8,584.5 499.9,585.0 501.3,585.5 C502.7,586.0 505.8,588.3 507.3,589.0 C508.8,589.7 513.3,590.6 513.8,591.4 C514.3,592.2 511.5,594.6 512.0,595.6 C512.5,596.6 516.3,599.4 517.9,600.3 C519.5,601.2 525.0,602.7 525.6,603.3 C526.2,603.9 523.0,605.0 522.7,605.6 C522.4,606.2 523.3,608.0 522.7,608.6 C522.1,609.2 519.6,610.2 517.9,611.0 C516.2,611.8 509.8,615.0 508.4,615.1 C507.0,615.2 506.6,613.0 506.1,612.1 C505.6,611.2 504.3,608.2 503.7,607.4 C503.1,606.6 501.8,604.9 501.3,605.0 C500.8,605.1 499.7,608.3 499.0,608.6 C498.3,608.9 495.7,608.1 495.4,607.4 C495.1,606.7 496.1,603.5 496.6,602.7 C497.1,601.9 499.6,601.3 500.1,600.3 C500.6,599.3 501.6,595.5 501.3,594.4 C501.0,593.3 498.9,591.1 497.8,590.8 C496.7,590.4 492.9,591.6 491.9,591.4 C490.9,591.2 489.1,589.8 489.5,589.0Z" fill="none" stroke="#14283c" stroke-width="0.9" stroke-opacity="0.85" stroke-linejoin="round"/>
<path d="M432.2,629.3 C431.6,628.6 431.6,624.9 431.8,623.5 C432.0,622.1 433.3,618.2 434.3,617.6 C435.3,617.0 439.2,618.5 440.2,618.5 C441.2,618.5 441.9,618.2 442.7,617.6 C443.5,617.0 445.9,614.1 446.8,613.4 C447.7,612.7 449.9,611.5 450.2,611.8 C450.5,612.1 449.7,614.9 449.3,616.0 C448.9,617.1 447.3,619.7 446.8,621.0 C446.3,622.3 445.8,625.9 445.2,626.8 C444.6,627.7 442.8,628.2 441.8,628.5 C440.8,628.8 437.9,629.2 436.8,629.3 C435.7,629.4 432.8,630.0 432.2,629.3Z" fill="#fff" stroke="#14283c" stroke-width="0.9" stroke-opacity="0.85" stroke-linejoin="round"/>
<path d="M147.2,579.8 C147.3,579.4 149.2,578.2 150.0,578.0 C150.8,577.8 153.2,577.6 154.0,577.8 C154.8,578.0 157.2,579.3 157.2,579.8 C157.2,580.3 155.0,581.7 154.0,581.9 C153.0,582.1 149.8,581.8 149.0,581.6 C148.2,581.4 147.1,580.2 147.2,579.8Z" fill="#6f95b8" stroke="#14283c" stroke-width="0.9" stroke-opacity="0.85" stroke-linejoin="round"/>
<path d="M152.0,588.6 C152.2,588.5 153.5,588.5 153.7,588.6 C153.9,588.7 153.9,589.5 153.7,589.6 C153.5,589.7 152.2,589.7 152.0,589.6 C151.8,589.5 151.8,588.7 152.0,588.6Z" fill="#6a8aa8" stroke="#14283c" stroke-width="0.9" stroke-opacity="0.85" stroke-linejoin="round"/>
<path d="M156.0,616.0 C156.1,615.3 157.4,613.6 158.0,613.3 C158.6,613.0 160.8,612.9 161.5,613.3 C162.2,613.7 163.7,615.8 163.8,616.5 C163.9,617.2 163.2,619.0 162.5,619.3 C161.8,619.6 158.3,619.7 157.5,619.3 C156.7,618.9 155.9,616.7 156.0,616.0Z" fill="#2e7cc0" stroke="#14283c" stroke-width="0.9" stroke-opacity="0.85" stroke-linejoin="round"/>
<path d="M299.6,565.9 C299.8,564.8 301.9,561.8 303.1,561.0 C304.3,560.2 308.2,559.0 310.1,558.9 C312.0,558.8 318.3,559.6 319.8,560.3 C321.3,561.0 323.0,563.0 323.3,564.5 C323.6,566.0 322.6,571.4 322.6,572.9 C322.6,574.4 324.1,576.4 323.3,577.1 C322.5,577.8 317.0,578.4 315.6,578.5 C314.2,578.6 311.7,578.5 311.5,577.8 C311.3,577.1 314.1,572.9 313.6,572.2 C313.1,571.5 308.7,571.7 307.3,571.5 C305.9,571.3 302.6,570.8 301.7,570.1 C300.8,569.4 299.4,567.0 299.6,565.9Z" fill="#a9b4c0" stroke="#14283c" stroke-width="0.9" stroke-opacity="0.85" stroke-linejoin="round"/>
<path d="M377.0,584.5 C377.4,584.2 380.0,583.3 381.0,583.3 C382.0,583.3 385.7,584.0 385.8,584.3 C385.9,584.6 382.9,585.6 382.0,585.8 C381.1,586.0 378.6,585.8 378.0,585.6 C377.4,585.4 376.6,584.8 377.0,584.5Z" fill="#4f8ac0" stroke="#14283c" stroke-width="0.9" stroke-opacity="0.85" stroke-linejoin="round"/>
<path d="M427.2,577.0 C427.3,576.0 429.0,573.7 430.0,573.0 C431.0,572.3 434.6,571.3 436.0,571.3 C437.4,571.3 441.1,572.1 441.6,573.0 C442.1,573.9 440.8,577.8 440.0,579.0 C439.2,580.2 436.3,582.9 435.0,583.3 C433.7,583.6 429.9,582.7 429.0,582.0 C428.1,581.3 427.1,578.0 427.2,577.0Z" fill="#7d93a8" stroke="#14283c" stroke-width="0.9" stroke-opacity="0.85" stroke-linejoin="round"/>
<path d="M489.4,589.0 C489.5,588.4 491.3,586.5 492.0,586.0 C492.7,585.5 494.6,584.5 495.0,585.1 C495.4,585.7 495.5,590.7 495.0,591.4 C494.5,592.1 491.7,591.7 491.0,591.4 C490.3,591.1 489.3,589.6 489.4,589.0Z" fill="#5a8fc0" stroke="#14283c" stroke-width="0.9" stroke-opacity="0.85" stroke-linejoin="round"/>
<path d="M480.0,600.0 C480.7,598.8 484.9,596.4 486.0,596.0 C487.1,595.6 488.9,596.2 489.0,597.0 C489.1,597.8 487.8,601.8 487.0,603.0 C486.2,604.2 482.8,607.0 482.0,607.4 C481.2,607.8 480.2,606.9 480.0,606.0 C479.8,605.1 479.3,601.2 480.0,600.0Z" fill="#4f92cc" stroke="#14283c" stroke-width="0.9" stroke-opacity="0.85" stroke-linejoin="round"/>
<path d="M519.1,626.5 C519.2,625.7 521.1,623.4 522.0,623.0 C522.9,622.6 526.2,622.3 527.0,622.8 C527.8,623.3 528.7,626.1 528.6,627.0 C528.5,627.9 526.9,630.1 526.0,630.5 C525.1,630.9 521.8,630.7 521.0,630.2 C520.2,629.7 519.0,627.3 519.1,626.5Z" fill="#1a62aa" stroke="#14283c" stroke-width="0.9" stroke-opacity="0.85" stroke-linejoin="round"/>
</g>
<g clip-path="url(#cD)">
<path d="M696.6,618.3 C696.5,618.0 698.6,616.6 699.4,616.1 C700.2,615.6 702.4,614.1 703.8,613.9 C705.2,613.7 709.9,614.3 711.4,614.4 C712.9,614.5 715.5,615.2 716.9,615.0 C718.3,614.8 722.2,613.1 723.5,612.8 C724.8,612.5 727.3,612.6 727.9,612.8 C728.5,613.0 728.1,614.3 729.0,614.4 C729.9,614.5 733.7,613.6 735.5,613.3 C737.3,613.0 742.4,612.5 744.3,612.2 C746.2,611.9 750.8,611.7 752.0,611.1 C753.2,610.5 754.6,608.0 754.7,607.3 C754.8,606.6 753.8,605.5 753.0,605.1 C752.2,604.7 748.4,604.6 747.6,604.0 C746.8,603.4 746.2,601.0 746.5,600.2 C746.8,599.4 748.7,597.6 749.8,596.9 C750.9,596.2 755.0,594.8 756.3,594.2 C757.6,593.6 759.4,591.7 760.7,591.4 C762.0,591.1 766.1,591.1 767.3,591.4 C768.5,591.7 769.8,593.7 770.6,594.2 C771.4,594.7 772.5,595.0 773.9,595.3 C775.3,595.6 780.8,596.5 782.6,596.9 C784.4,597.3 787.9,598.7 789.2,599.1 C790.5,599.5 793.0,600.2 793.6,600.7 C794.2,601.2 793.6,603.2 794.1,603.5 C794.6,603.8 796.9,603.8 798.0,603.5 C799.1,603.2 802.0,601.4 803.4,601.3 C804.8,601.2 808.3,602.2 810.0,602.4 C811.7,602.6 815.8,603.1 817.7,603.3 C819.6,603.5 823.8,603.8 826.0,604.0 C828.2,604.2 834.7,604.8 836.9,605.1 C839.1,605.4 842.9,606.8 844.6,606.8 C846.3,606.8 850.5,606.1 851.1,605.1 C851.7,604.1 849.7,599.2 850.0,598.0 C850.3,596.8 852.3,595.0 853.3,594.7 C854.3,594.4 857.5,595.4 858.8,595.8 C860.1,596.2 862.8,597.6 864.3,598.0 C865.8,598.4 870.5,599.4 872.0,599.6 C873.5,599.8 876.4,599.3 877.4,599.6 C878.4,599.9 879.8,601.5 880.7,601.8 C881.6,602.1 884.1,602.4 885.1,601.8 C886.1,601.2 888.7,597.9 889.5,596.9 C890.3,595.9 890.7,594.0 891.7,593.6 C892.7,593.2 897.1,592.8 898.2,593.1 C899.3,593.4 900.5,595.8 901.5,596.4 C902.5,597.0 905.6,597.9 907.0,598.0 C908.4,598.1 912.1,597.3 913.6,596.9 C915.1,596.5 918.3,594.6 920.1,594.2 C921.9,593.8 927.2,593.7 928.9,593.6 C930.6,593.5 933.5,593.4 934.4,593.1 C935.3,592.8 936.0,591.2 936.6,590.9 C937.2,590.6 939.0,590.3 939.3,590.9 C939.6,591.5 940.0,595.8 939.3,596.4 C938.6,597.0 934.5,596.1 933.3,596.4 C932.1,596.7 929.3,598.2 928.9,599.1 C928.5,600.0 930.6,603.2 930.0,604.0 C929.4,604.8 924.6,605.2 923.4,605.7 C922.2,606.2 920.1,607.3 920.1,607.9 C920.1,608.5 923.5,610.5 923.4,611.1 C923.3,611.7 921.2,612.5 919.0,612.8 C916.8,613.1 907.0,613.0 904.8,613.3 C902.6,613.6 901.4,615.1 900.4,615.5 C899.4,615.9 896.8,616.8 896.0,616.6 C895.2,616.4 895.7,613.9 893.9,613.9 C892.1,613.9 884.8,616.0 880.7,616.6 C876.6,617.2 863.9,619.0 858.8,619.4 C853.7,619.8 842.0,619.8 836.9,619.9 C831.8,620.0 818.8,620.0 815.0,619.9 C811.2,619.8 809.6,619.3 804.5,619.4 C799.4,619.5 779.4,620.8 771.7,621.0 C764.0,621.2 745.2,621.1 738.8,621.0 C732.4,620.9 721.4,620.7 716.9,620.4 C712.4,620.1 702.9,619.0 700.5,618.8 C698.1,618.6 696.7,618.6 696.6,618.3Z" fill="url(#gD)"/>
<clipPath id="cDm"><path d="M696.6,618.3 C696.5,618.0 698.6,616.6 699.4,616.1 C700.2,615.6 702.4,614.1 703.8,613.9 C705.2,613.7 709.9,614.3 711.4,614.4 C712.9,614.5 715.5,615.2 716.9,615.0 C718.3,614.8 722.2,613.1 723.5,612.8 C724.8,612.5 727.3,612.6 727.9,612.8 C728.5,613.0 728.1,614.3 729.0,614.4 C729.9,614.5 733.7,613.6 735.5,613.3 C737.3,613.0 742.4,612.5 744.3,612.2 C746.2,611.9 750.8,611.7 752.0,611.1 C753.2,610.5 754.6,608.0 754.7,607.3 C754.8,606.6 753.8,605.5 753.0,605.1 C752.2,604.7 748.4,604.6 747.6,604.0 C746.8,603.4 746.2,601.0 746.5,600.2 C746.8,599.4 748.7,597.6 749.8,596.9 C750.9,596.2 755.0,594.8 756.3,594.2 C757.6,593.6 759.4,591.7 760.7,591.4 C762.0,591.1 766.1,591.1 767.3,591.4 C768.5,591.7 769.8,593.7 770.6,594.2 C771.4,594.7 772.5,595.0 773.9,595.3 C775.3,595.6 780.8,596.5 782.6,596.9 C784.4,597.3 787.9,598.7 789.2,599.1 C790.5,599.5 793.0,600.2 793.6,600.7 C794.2,601.2 793.6,603.2 794.1,603.5 C794.6,603.8 796.9,603.8 798.0,603.5 C799.1,603.2 802.0,601.4 803.4,601.3 C804.8,601.2 808.3,602.2 810.0,602.4 C811.7,602.6 815.8,603.1 817.7,603.3 C819.6,603.5 823.8,603.8 826.0,604.0 C828.2,604.2 834.7,604.8 836.9,605.1 C839.1,605.4 842.9,606.8 844.6,606.8 C846.3,606.8 850.5,606.1 851.1,605.1 C851.7,604.1 849.7,599.2 850.0,598.0 C850.3,596.8 852.3,595.0 853.3,594.7 C854.3,594.4 857.5,595.4 858.8,595.8 C860.1,596.2 862.8,597.6 864.3,598.0 C865.8,598.4 870.5,599.4 872.0,599.6 C873.5,599.8 876.4,599.3 877.4,599.6 C878.4,599.9 879.8,601.5 880.7,601.8 C881.6,602.1 884.1,602.4 885.1,601.8 C886.1,601.2 888.7,597.9 889.5,596.9 C890.3,595.9 890.7,594.0 891.7,593.6 C892.7,593.2 897.1,592.8 898.2,593.1 C899.3,593.4 900.5,595.8 901.5,596.4 C902.5,597.0 905.6,597.9 907.0,598.0 C908.4,598.1 912.1,597.3 913.6,596.9 C915.1,596.5 918.3,594.6 920.1,594.2 C921.9,593.8 927.2,593.7 928.9,593.6 C930.6,593.5 933.5,593.4 934.4,593.1 C935.3,592.8 936.0,591.2 936.6,590.9 C937.2,590.6 939.0,590.3 939.3,590.9 C939.6,591.5 940.0,595.8 939.3,596.4 C938.6,597.0 934.5,596.1 933.3,596.4 C932.1,596.7 929.3,598.2 928.9,599.1 C928.5,600.0 930.6,603.2 930.0,604.0 C929.4,604.8 924.6,605.2 923.4,605.7 C922.2,606.2 920.1,607.3 920.1,607.9 C920.1,608.5 923.5,610.5 923.4,611.1 C923.3,611.7 921.2,612.5 919.0,612.8 C916.8,613.1 907.0,613.0 904.8,613.3 C902.6,613.6 901.4,615.1 900.4,615.5 C899.4,615.9 896.8,616.8 896.0,616.6 C895.2,616.4 895.7,613.9 893.9,613.9 C892.1,613.9 884.8,616.0 880.7,616.6 C876.6,617.2 863.9,619.0 858.8,619.4 C853.7,619.8 842.0,619.8 836.9,619.9 C831.8,620.0 818.8,620.0 815.0,619.9 C811.2,619.8 809.6,619.3 804.5,619.4 C799.4,619.5 779.4,620.8 771.7,621.0 C764.0,621.2 745.2,621.1 738.8,621.0 C732.4,620.9 721.4,620.7 716.9,620.4 C712.4,620.1 702.9,619.0 700.5,618.8 C698.1,618.6 696.7,618.6 696.6,618.3Z"/></clipPath>
<g clip-path="url(#cDm)">
<path d="M697.0,587.6 L703.0,588.1 L709.0,588.8 L715.0,589.1 L721.0,589.3 L727.0,589.8 L733.0,590.3 L739.0,590.3 L745.0,589.6 L751.0,588.9 L757.0,588.8 L763.0,589.4 L769.0,589.8 L775.0,590.0 L781.0,590.3 L787.0,591.0 L793.0,591.6 L799.0,591.3 L805.0,590.5 L811.0,590.0 L817.0,590.2 L823.0,590.6 L829.0,590.7 L835.0,590.9 L841.0,591.5 L847.0,592.3 L853.0,592.7 L859.0,592.1 L865.0,591.4 L871.0,591.2 L877.0,591.4 L883.0,591.6 L889.0,591.6 L895.0,591.9 L901.0,592.8 L907.0,593.6 L913.0,593.6 L919.0,593.0 L925.0,592.5" fill="none" stroke="#0b2640" stroke-width="0.91" stroke-opacity="0.35"/>
<path d="M937.0,592.6 L943.0,592.5 L949.0,592.4 L955.0,593.0" fill="none" stroke="#0b2640" stroke-width="0.82" stroke-opacity="0.50"/>
<path d="M697.0,593.2 L703.0,594.3 L709.0,593.5 L715.0,592.6 L721.0,593.3 L727.0,592.2 L733.0,591.5 L739.0,592.5 L745.0,591.9 L751.0,591.9" fill="none" stroke="#0b2640" stroke-width="0.79" stroke-opacity="0.41"/>
<path d="M763.0,593.2 L769.0,593.3 L775.0,594.6 L781.0,593.8 L787.0,593.4" fill="none" stroke="#0b2640" stroke-width="0.99" stroke-opacity="0.22"/>
<path d="M799.0,592.7 L805.0,592.2 L811.0,592.9 L817.0,591.9 L823.0,592.0 L829.0,593.3 L835.0,592.8 L841.0,593.4 L847.0,594.7 L853.0,593.9 L859.0,594.0 L865.0,594.6 L871.0,593.2 L877.0,593.0" fill="none" stroke="#0b2640" stroke-width="1.30" stroke-opacity="0.28"/>
<path d="M889.0,592.0 L895.0,592.3 L901.0,593.2 L907.0,592.5 L913.0,593.4 L919.0,594.6 L925.0,593.8 L931.0,594.5 L937.0,595.0" fill="none" stroke="#0b2640" stroke-width="1.02" stroke-opacity="0.25"/>
<path d="M949.0,593.9 L955.0,593.9" fill="none" stroke="#0b2640" stroke-width="0.95" stroke-opacity="0.44"/>
<path d="M697.0,597.4 L703.0,598.0 L709.0,599.4 L715.0,599.5 L721.0,599.9 L727.0,600.0 L733.0,598.9 L739.0,598.8 L745.0,598.4" fill="none" stroke="#0b2640" stroke-width="0.80" stroke-opacity="0.23"/>
<path d="M757.0,599.0 L763.0,599.4 L769.0,600.2 L775.0,601.4 L781.0,601.1 L787.0,601.2 L793.0,601.0 L799.0,599.9 L805.0,599.9 L811.0,599.8 L817.0,599.8 L823.0,601.1 L829.0,601.6 L835.0,602.2 L841.0,603.1 L847.0,602.5 L853.0,602.3 L859.0,602.0 L865.0,600.9 L871.0,601.3 L877.0,601.5 L883.0,601.8 L889.0,603.2 L895.0,603.6 L901.0,603.9 L907.0,604.5 L913.0,603.6 L919.0,603.2 L925.0,603.0" fill="none" stroke="#0b2640" stroke-width="1.04" stroke-opacity="0.40"/>
<path d="M937.0,602.9 L943.0,603.4 L949.0,603.9 L955.0,605.3" fill="none" stroke="#0b2640" stroke-width="1.26" stroke-opacity="0.43"/>
<path d="M697.0,603.2 L703.0,603.2 L709.0,601.5 L715.0,600.7 L721.0,601.8 L727.0,602.9 L733.0,602.5 L739.0,601.9 L745.0,602.8 L751.0,604.0" fill="none" stroke="#0b2640" stroke-width="1.18" stroke-opacity="0.33"/>
<path d="M763.0,601.6 L769.0,601.5 L775.0,603.2 L781.0,604.4 L787.0,603.7 L793.0,602.9 L799.0,603.5 L805.0,604.3 L811.0,603.6" fill="none" stroke="#0b2640" stroke-width="1.22" stroke-opacity="0.26"/>
<path d="M823.0,603.0 L829.0,605.0 L835.0,605.7 L841.0,604.4 L847.0,603.3 L853.0,604.0 L859.0,605.0 L865.0,604.5 L871.0,603.8 L877.0,604.7 L883.0,606.3 L889.0,606.2 L895.0,604.5 L901.0,603.7 L907.0,604.9 L913.0,606.2 L919.0,605.9 L925.0,605.2 L931.0,605.8 L937.0,606.9 L943.0,606.3 L949.0,604.7 L955.0,604.7" fill="none" stroke="#0b2640" stroke-width="0.79" stroke-opacity="0.26"/>
<path d="M697.0,605.1 L703.0,604.6 L709.0,604.3 L715.0,607.6 L721.0,608.2 L727.0,606.5 L733.0,606.5 L739.0,604.6 L745.0,603.6 L751.0,606.6 L757.0,607.5 L763.0,607.2 L769.0,607.9 L775.0,605.3 L781.0,603.7 L787.0,605.8 L793.0,606.2 L799.0,607.2 L805.0,608.9 L811.0,606.4 L817.0,604.6 L823.0,605.4 L829.0,604.9 L835.0,606.6 L841.0,609.1 L847.0,607.3 L853.0,606.0 L859.0,605.8 L865.0,604.0 L871.0,605.7 L877.0,608.5 L883.0,607.6 L889.0,607.6 L895.0,606.8 L901.0,604.0 L907.0,605.1 L913.0,607.3 L919.0,607.2 L925.0,608.6 L931.0,608.0 L937.0,604.7 L943.0,605.1" fill="none" stroke="#0b2640" stroke-width="1.20" stroke-opacity="0.49"/>
<path d="M697.0,611.3 L703.0,610.9 L709.0,609.7 L715.0,610.6 L721.0,612.1 L727.0,612.0 L733.0,611.7 L739.0,613.1 L745.0,613.8 L751.0,612.6 L757.0,611.9 L763.0,612.8 L769.0,612.7 L775.0,611.6 L781.0,612.1 L787.0,613.9 L793.0,614.0 L799.0,613.5 L805.0,614.6 L811.0,615.6 L817.0,614.4 L823.0,613.5 L829.0,614.3 L835.0,614.6 L841.0,613.5" fill="none" stroke="#0b2640" stroke-width="1.17" stroke-opacity="0.47"/>
<path d="M853.0,615.6 L859.0,616.0 L865.0,615.4 L871.0,616.1 L877.0,617.2 L883.0,616.3 L889.0,615.1 L895.0,615.7 L901.0,616.4 L907.0,615.5 L913.0,615.4 L919.0,617.2 L925.0,618.0 L931.0,617.3 L937.0,617.6 L943.0,618.8 L949.0,618.2 L955.0,616.8" fill="none" stroke="#0b2640" stroke-width="0.84" stroke-opacity="0.25"/>
<path d="M697.0,616.2 L703.0,616.6 L709.0,615.6" fill="none" stroke="#0b2640" stroke-width="1.13" stroke-opacity="0.35"/>
<path d="M721.0,612.2 L727.0,612.6 L733.0,613.6 L739.0,613.8 L745.0,613.5 L751.0,614.1 L757.0,615.5 L763.0,616.4 L769.0,615.5 L775.0,613.5 L781.0,612.4 L787.0,612.5 L793.0,612.6 L799.0,612.0 L805.0,611.4 L811.0,612.2 L817.0,614.1 L823.0,615.3 L829.0,614.7 L835.0,613.4 L841.0,612.8 L847.0,612.9 L853.0,612.4 L859.0,610.8 L865.0,609.8 L871.0,610.5 L877.0,612.4 L883.0,613.4 L889.0,613.2 L895.0,612.7" fill="none" stroke="#0b2640" stroke-width="1.20" stroke-opacity="0.26"/>
<path d="M907.0,613.4 L913.0,612.5 L919.0,610.4 L925.0,609.1 L931.0,609.5 L937.0,610.7 L943.0,611.3 L949.0,611.1 L955.0,611.3" fill="none" stroke="#0b2640" stroke-width="1.12" stroke-opacity="0.50"/>
<path d="M697.0,620.5 L703.0,619.9 L709.0,622.6 L715.0,621.0 L721.0,622.5" fill="none" stroke="#0b2640" stroke-width="0.72" stroke-opacity="0.43"/>
<path d="M733.0,620.2 L739.0,620.0 L745.0,617.9 L751.0,619.7 L757.0,618.0 L763.0,620.5 L769.0,620.4 L775.0,621.6 L781.0,622.8 L787.0,621.6 L793.0,623.1 L799.0,620.3 L805.0,621.2 L811.0,619.1 L817.0,619.2 L823.0,619.7 L829.0,619.0 L835.0,621.7 L841.0,620.6 L847.0,623.4 L853.0,622.4 L859.0,623.0 L865.0,622.6 L871.0,620.7 L877.0,621.5 L883.0,618.8 L889.0,620.6 L895.0,619.3 L901.0,620.9 L907.0,621.9 L913.0,621.9 L919.0,624.2 L925.0,622.4" fill="none" stroke="#0b2640" stroke-width="0.79" stroke-opacity="0.35"/>
<path d="M937.0,621.7 L943.0,621.8 L949.0,620.9" fill="none" stroke="#0b2640" stroke-width="1.23" stroke-opacity="0.32"/>
<path d="M696.6,618.3 C696.5,618.0 698.6,616.6 699.4,616.1 C700.2,615.6 702.4,614.1 703.8,613.9 C705.2,613.7 709.9,614.3 711.4,614.4 C712.9,614.5 715.5,615.2 716.9,615.0 C718.3,614.8 722.2,613.1 723.5,612.8 C724.8,612.5 727.3,612.6 727.9,612.8 C728.5,613.0 728.1,614.3 729.0,614.4 C729.9,614.5 733.7,613.6 735.5,613.3 C737.3,613.0 742.4,612.5 744.3,612.2 C746.2,611.9 750.8,611.7 752.0,611.1 C753.2,610.5 754.6,608.0 754.7,607.3 C754.8,606.6 753.8,605.5 753.0,605.1 C752.2,604.7 748.4,604.6 747.6,604.0 C746.8,603.4 746.2,601.0 746.5,600.2 C746.8,599.4 748.7,597.6 749.8,596.9 C750.9,596.2 755.0,594.8 756.3,594.2 C757.6,593.6 759.4,591.7 760.7,591.4 C762.0,591.1 766.1,591.1 767.3,591.4 C768.5,591.7 769.8,593.7 770.6,594.2 C771.4,594.7 772.5,595.0 773.9,595.3 C775.3,595.6 780.8,596.5 782.6,596.9 C784.4,597.3 787.9,598.7 789.2,599.1 C790.5,599.5 793.0,600.2 793.6,600.7 C794.2,601.2 793.6,603.2 794.1,603.5 C794.6,603.8 796.9,603.8 798.0,603.5 C799.1,603.2 802.0,601.4 803.4,601.3 C804.8,601.2 808.3,602.2 810.0,602.4 C811.7,602.6 815.8,603.1 817.7,603.3 C819.6,603.5 823.8,603.8 826.0,604.0 C828.2,604.2 834.7,604.8 836.9,605.1 C839.1,605.4 842.9,606.8 844.6,606.8 C846.3,606.8 850.5,606.1 851.1,605.1 C851.7,604.1 849.7,599.2 850.0,598.0 C850.3,596.8 852.3,595.0 853.3,594.7 C854.3,594.4 857.5,595.4 858.8,595.8 C860.1,596.2 862.8,597.6 864.3,598.0 C865.8,598.4 870.5,599.4 872.0,599.6 C873.5,599.8 876.4,599.3 877.4,599.6 C878.4,599.9 879.8,601.5 880.7,601.8 C881.6,602.1 884.1,602.4 885.1,601.8 C886.1,601.2 888.7,597.9 889.5,596.9 C890.3,595.9 890.7,594.0 891.7,593.6 C892.7,593.2 897.1,592.8 898.2,593.1 C899.3,593.4 900.5,595.8 901.5,596.4 C902.5,597.0 905.6,597.9 907.0,598.0 C908.4,598.1 912.1,597.3 913.6,596.9 C915.1,596.5 918.3,594.6 920.1,594.2 C921.9,593.8 927.2,593.7 928.9,593.6 C930.6,593.5 933.5,593.4 934.4,593.1 C935.3,592.8 936.0,591.2 936.6,590.9 C937.2,590.6 939.0,590.3 939.3,590.9 C939.6,591.5 940.0,595.8 939.3,596.4 C938.6,597.0 934.5,596.1 933.3,596.4 C932.1,596.7 929.3,598.2 928.9,599.1 C928.5,600.0 930.6,603.2 930.0,604.0 C929.4,604.8 924.6,605.2 923.4,605.7 C922.2,606.2 920.1,607.3 920.1,607.9 C920.1,608.5 923.5,610.5 923.4,611.1 C923.3,611.7 921.2,612.5 919.0,612.8 C916.8,613.1 907.0,613.0 904.8,613.3 C902.6,613.6 901.4,615.1 900.4,615.5 C899.4,615.9 896.8,616.8 896.0,616.6 C895.2,616.4 895.7,613.9 893.9,613.9 C892.1,613.9 884.8,616.0 880.7,616.6 C876.6,617.2 863.9,619.0 858.8,619.4 C853.7,619.8 842.0,619.8 836.9,619.9 C831.8,620.0 818.8,620.0 815.0,619.9 C811.2,619.8 809.6,619.3 804.5,619.4 C799.4,619.5 779.4,620.8 771.7,621.0 C764.0,621.2 745.2,621.1 738.8,621.0 C732.4,620.9 721.4,620.7 716.9,620.4 C712.4,620.1 702.9,619.0 700.5,618.8 C698.1,618.6 696.7,618.6 696.6,618.3Z" fill="none" stroke="#2b3d50" stroke-width="5" stroke-opacity="0.22"/>
</g>
<path d="M696.6,618.3 C696.5,618.0 698.6,616.6 699.4,616.1 C700.2,615.6 702.4,614.1 703.8,613.9 C705.2,613.7 709.9,614.3 711.4,614.4 C712.9,614.5 715.5,615.2 716.9,615.0 C718.3,614.8 722.2,613.1 723.5,612.8 C724.8,612.5 727.3,612.6 727.9,612.8 C728.5,613.0 728.1,614.3 729.0,614.4 C729.9,614.5 733.7,613.6 735.5,613.3 C737.3,613.0 742.4,612.5 744.3,612.2 C746.2,611.9 750.8,611.7 752.0,611.1 C753.2,610.5 754.6,608.0 754.7,607.3 C754.8,606.6 753.8,605.5 753.0,605.1 C752.2,604.7 748.4,604.6 747.6,604.0 C746.8,603.4 746.2,601.0 746.5,600.2 C746.8,599.4 748.7,597.6 749.8,596.9 C750.9,596.2 755.0,594.8 756.3,594.2 C757.6,593.6 759.4,591.7 760.7,591.4 C762.0,591.1 766.1,591.1 767.3,591.4 C768.5,591.7 769.8,593.7 770.6,594.2 C771.4,594.7 772.5,595.0 773.9,595.3 C775.3,595.6 780.8,596.5 782.6,596.9 C784.4,597.3 787.9,598.7 789.2,599.1 C790.5,599.5 793.0,600.2 793.6,600.7 C794.2,601.2 793.6,603.2 794.1,603.5 C794.6,603.8 796.9,603.8 798.0,603.5 C799.1,603.2 802.0,601.4 803.4,601.3 C804.8,601.2 808.3,602.2 810.0,602.4 C811.7,602.6 815.8,603.1 817.7,603.3 C819.6,603.5 823.8,603.8 826.0,604.0 C828.2,604.2 834.7,604.8 836.9,605.1 C839.1,605.4 842.9,606.8 844.6,606.8 C846.3,606.8 850.5,606.1 851.1,605.1 C851.7,604.1 849.7,599.2 850.0,598.0 C850.3,596.8 852.3,595.0 853.3,594.7 C854.3,594.4 857.5,595.4 858.8,595.8 C860.1,596.2 862.8,597.6 864.3,598.0 C865.8,598.4 870.5,599.4 872.0,599.6 C873.5,599.8 876.4,599.3 877.4,599.6 C878.4,599.9 879.8,601.5 880.7,601.8 C881.6,602.1 884.1,602.4 885.1,601.8 C886.1,601.2 888.7,597.9 889.5,596.9 C890.3,595.9 890.7,594.0 891.7,593.6 C892.7,593.2 897.1,592.8 898.2,593.1 C899.3,593.4 900.5,595.8 901.5,596.4 C902.5,597.0 905.6,597.9 907.0,598.0 C908.4,598.1 912.1,597.3 913.6,596.9 C915.1,596.5 918.3,594.6 920.1,594.2 C921.9,593.8 927.2,593.7 928.9,593.6 C930.6,593.5 933.5,593.4 934.4,593.1 C935.3,592.8 936.0,591.2 936.6,590.9 C937.2,590.6 939.0,590.3 939.3,590.9 C939.6,591.5 940.0,595.8 939.3,596.4 C938.6,597.0 934.5,596.1 933.3,596.4 C932.1,596.7 929.3,598.2 928.9,599.1 C928.5,600.0 930.6,603.2 930.0,604.0 C929.4,604.8 924.6,605.2 923.4,605.7 C922.2,606.2 920.1,607.3 920.1,607.9 C920.1,608.5 923.5,610.5 923.4,611.1 C923.3,611.7 921.2,612.5 919.0,612.8 C916.8,613.1 907.0,613.0 904.8,613.3 C902.6,613.6 901.4,615.1 900.4,615.5 C899.4,615.9 896.8,616.8 896.0,616.6 C895.2,616.4 895.7,613.9 893.9,613.9 C892.1,613.9 884.8,616.0 880.7,616.6 C876.6,617.2 863.9,619.0 858.8,619.4 C853.7,619.8 842.0,619.8 836.9,619.9 C831.8,620.0 818.8,620.0 815.0,619.9 C811.2,619.8 809.6,619.3 804.5,619.4 C799.4,619.5 779.4,620.8 771.7,621.0 C764.0,621.2 745.2,621.1 738.8,621.0 C732.4,620.9 721.4,620.7 716.9,620.4 C712.4,620.1 702.9,619.0 700.5,618.8 C698.1,618.6 696.7,618.6 696.6,618.3Z" fill="none" stroke="#14283c" stroke-width="0.9" stroke-opacity="0.85" stroke-linejoin="round"/>
</g>

<!-- axes (a) -->
<rect class="ax" x="97.9" y="10.5" width="461.7" height="173.6"/>
<!-- axes (b) -->
<rect class="ax" x="97.9" y="234.9" width="461.7" height="173.3"/>
<!-- axes (c) -->
<rect class="ax" x="97.9" y="467" width="461.7" height="173.3"/>
<!-- axes (d) -->
<rect class="ax" x="696.8" y="448.4" width="460.8" height="173.2"/>
<!-- axes (e) -->
<rect class="ax2" x="695.2" y="23.5" width="188.8" height="304.4"/>
<!-- axes (f) -->
<rect class="ax2" x="987" y="23.5" width="188.4" height="304"/>

<!-- TICKS -->
<line x1="98.6" y1="155.2" x2="102.0" y2="155.2" class="tk"/>
<line x1="98.6" y1="126.2" x2="102.0" y2="126.2" class="tk"/>
<line x1="98.6" y1="97.3" x2="102.0" y2="97.3" class="tk"/>
<line x1="98.6" y1="68.4" x2="102.0" y2="68.4" class="tk"/>
<line x1="98.6" y1="39.4" x2="102.0" y2="39.4" class="tk"/>
<line x1="155.5" y1="183.3" x2="155.5" y2="180.5" class="tk"/>
<line x1="213.1" y1="183.3" x2="213.1" y2="180.5" class="tk"/>
<line x1="270.8" y1="183.3" x2="270.8" y2="180.5" class="tk"/>
<line x1="328.5" y1="183.3" x2="328.5" y2="180.5" class="tk"/>
<line x1="386.2" y1="183.3" x2="386.2" y2="180.5" class="tk"/>
<line x1="443.8" y1="183.3" x2="443.8" y2="180.5" class="tk"/>
<line x1="501.5" y1="183.3" x2="501.5" y2="180.5" class="tk"/>
<line x1="98.6" y1="379.3" x2="102.0" y2="379.3" class="tk"/>
<line x1="98.6" y1="350.4" x2="102.0" y2="350.4" class="tk"/>
<line x1="98.6" y1="321.6" x2="102.0" y2="321.6" class="tk"/>
<line x1="98.6" y1="292.7" x2="102.0" y2="292.7" class="tk"/>
<line x1="98.6" y1="263.8" x2="102.0" y2="263.8" class="tk"/>
<line x1="155.5" y1="407.4" x2="155.5" y2="404.6" class="tk"/>
<line x1="213.1" y1="407.4" x2="213.1" y2="404.6" class="tk"/>
<line x1="270.8" y1="407.4" x2="270.8" y2="404.6" class="tk"/>
<line x1="328.5" y1="407.4" x2="328.5" y2="404.6" class="tk"/>
<line x1="386.2" y1="407.4" x2="386.2" y2="404.6" class="tk"/>
<line x1="443.8" y1="407.4" x2="443.8" y2="404.6" class="tk"/>
<line x1="501.5" y1="407.4" x2="501.5" y2="404.6" class="tk"/>
<line x1="98.6" y1="611.4" x2="102.0" y2="611.4" class="tk"/>
<line x1="98.6" y1="582.5" x2="102.0" y2="582.5" class="tk"/>
<line x1="98.6" y1="553.6" x2="102.0" y2="553.6" class="tk"/>
<line x1="98.6" y1="524.8" x2="102.0" y2="524.8" class="tk"/>
<line x1="98.6" y1="495.9" x2="102.0" y2="495.9" class="tk"/>
<line x1="155.5" y1="639.5" x2="155.5" y2="636.7" class="tk"/>
<line x1="213.1" y1="639.5" x2="213.1" y2="636.7" class="tk"/>
<line x1="270.8" y1="639.5" x2="270.8" y2="636.7" class="tk"/>
<line x1="328.5" y1="639.5" x2="328.5" y2="636.7" class="tk"/>
<line x1="386.2" y1="639.5" x2="386.2" y2="636.7" class="tk"/>
<line x1="443.8" y1="639.5" x2="443.8" y2="636.7" class="tk"/>
<line x1="501.5" y1="639.5" x2="501.5" y2="636.7" class="tk"/>
<line x1="697.6" y1="592.7" x2="701.0" y2="592.7" class="tk"/>
<line x1="697.6" y1="563.9" x2="701.0" y2="563.9" class="tk"/>
<line x1="697.6" y1="535.0" x2="701.0" y2="535.0" class="tk"/>
<line x1="697.6" y1="506.1" x2="701.0" y2="506.1" class="tk"/>
<line x1="697.6" y1="477.3" x2="701.0" y2="477.3" class="tk"/>
<line x1="754.4" y1="620.8" x2="754.4" y2="618.0" class="tk"/>
<line x1="812.0" y1="620.8" x2="812.0" y2="618.0" class="tk"/>
<line x1="869.6" y1="620.8" x2="869.6" y2="618.0" class="tk"/>
<line x1="927.2" y1="620.8" x2="927.2" y2="618.0" class="tk"/>
<line x1="984.8" y1="620.8" x2="984.8" y2="618.0" class="tk"/>
<line x1="1042.4" y1="620.8" x2="1042.4" y2="618.0" class="tk"/>
<line x1="1100.0" y1="620.8" x2="1100.0" y2="618.0" class="tk"/>
<line x1="696.0" y1="312.7" x2="700.3" y2="312.7" class="tk2"/>
<line x1="696.0" y1="297.5" x2="700.3" y2="297.5" class="tk2"/>
<line x1="696.0" y1="282.2" x2="700.3" y2="282.2" class="tk2"/>
<line x1="696.0" y1="267.0" x2="700.3" y2="267.0" class="tk2"/>
<line x1="696.0" y1="251.8" x2="703.5" y2="251.8" class="tk2"/>
<line x1="696.0" y1="236.6" x2="700.3" y2="236.6" class="tk2"/>
<line x1="696.0" y1="221.4" x2="700.3" y2="221.4" class="tk2"/>
<line x1="696.0" y1="206.1" x2="700.3" y2="206.1" class="tk2"/>
<line x1="696.0" y1="190.9" x2="700.3" y2="190.9" class="tk2"/>
<line x1="696.0" y1="175.7" x2="703.5" y2="175.7" class="tk2"/>
<line x1="696.0" y1="160.5" x2="700.3" y2="160.5" class="tk2"/>
<line x1="696.0" y1="145.3" x2="700.3" y2="145.3" class="tk2"/>
<line x1="696.0" y1="130.0" x2="700.3" y2="130.0" class="tk2"/>
<line x1="696.0" y1="114.8" x2="700.3" y2="114.8" class="tk2"/>
<line x1="696.0" y1="99.6" x2="703.5" y2="99.6" class="tk2"/>
<line x1="696.0" y1="84.4" x2="700.3" y2="84.4" class="tk2"/>
<line x1="696.0" y1="69.2" x2="700.3" y2="69.2" class="tk2"/>
<line x1="696.0" y1="53.9" x2="700.3" y2="53.9" class="tk2"/>
<line x1="696.0" y1="38.7" x2="700.3" y2="38.7" class="tk2"/>
<line x1="714.1" y1="327.1" x2="714.1" y2="323.2" class="tk2"/>
<line x1="733.0" y1="327.1" x2="733.0" y2="323.2" class="tk2"/>
<line x1="751.8" y1="327.1" x2="751.8" y2="323.2" class="tk2"/>
<line x1="770.7" y1="327.1" x2="770.7" y2="323.2" class="tk2"/>
<line x1="789.6" y1="327.1" x2="789.6" y2="319.6" class="tk2"/>
<line x1="808.5" y1="327.1" x2="808.5" y2="323.2" class="tk2"/>
<line x1="827.4" y1="327.1" x2="827.4" y2="323.2" class="tk2"/>
<line x1="846.2" y1="327.1" x2="846.2" y2="323.2" class="tk2"/>
<line x1="865.1" y1="327.1" x2="865.1" y2="323.2" class="tk2"/>
<line x1="987.8" y1="312.7" x2="992.1" y2="312.7" class="tk2"/>
<line x1="987.8" y1="297.5" x2="992.1" y2="297.5" class="tk2"/>
<line x1="987.8" y1="282.2" x2="992.1" y2="282.2" class="tk2"/>
<line x1="987.8" y1="267.0" x2="992.1" y2="267.0" class="tk2"/>
<line x1="987.8" y1="251.8" x2="995.3" y2="251.8" class="tk2"/>
<line x1="987.8" y1="236.6" x2="992.1" y2="236.6" class="tk2"/>
<line x1="987.8" y1="221.4" x2="992.1" y2="221.4" class="tk2"/>
<line x1="987.8" y1="206.1" x2="992.1" y2="206.1" class="tk2"/>
<line x1="987.8" y1="190.9" x2="992.1" y2="190.9" class="tk2"/>
<line x1="987.8" y1="175.7" x2="995.3" y2="175.7" class="tk2"/>
<line x1="987.8" y1="160.5" x2="992.1" y2="160.5" class="tk2"/>
<line x1="987.8" y1="145.3" x2="992.1" y2="145.3" class="tk2"/>
<line x1="987.8" y1="130.0" x2="992.1" y2="130.0" class="tk2"/>
<line x1="987.8" y1="114.8" x2="992.1" y2="114.8" class="tk2"/>
<line x1="987.8" y1="99.6" x2="995.3" y2="99.6" class="tk2"/>
<line x1="987.8" y1="84.4" x2="992.1" y2="84.4" class="tk2"/>
<line x1="987.8" y1="69.2" x2="992.1" y2="69.2" class="tk2"/>
<line x1="987.8" y1="53.9" x2="992.1" y2="53.9" class="tk2"/>
<line x1="987.8" y1="38.7" x2="992.1" y2="38.7" class="tk2"/>
<line x1="1005.8" y1="327.1" x2="1005.8" y2="323.2" class="tk2"/>
<line x1="1024.7" y1="327.1" x2="1024.7" y2="323.2" class="tk2"/>
<line x1="1043.5" y1="327.1" x2="1043.5" y2="323.2" class="tk2"/>
<line x1="1062.4" y1="327.1" x2="1062.4" y2="323.2" class="tk2"/>
<line x1="1081.2" y1="327.1" x2="1081.2" y2="319.6" class="tk2"/>
<line x1="1100.0" y1="327.1" x2="1100.0" y2="323.2" class="tk2"/>
<line x1="1118.9" y1="327.1" x2="1118.9" y2="323.2" class="tk2"/>
<line x1="1137.7" y1="327.1" x2="1137.7" y2="323.2" class="tk2"/>
<line x1="1156.6" y1="327.1" x2="1156.6" y2="323.2" class="tk2"/>

<!-- vertical dashed lines -->
<line x1="325" y1="11" x2="325" y2="184" stroke="#d40000" stroke-width="2.4" stroke-dasharray="5.6 5.6"/>
<line x1="816" y1="448.5" x2="816" y2="621" stroke="#ff7f0e" stroke-width="2.2" stroke-dasharray="5.4 5.8"/>

<!-- CURVES -->
<path d="M842.7,64.4 C841.6,65.4 838.1,68.1 836.0,70.3 C833.9,72.5 831.6,75.0 830.2,77.8 C828.8,80.6 828.7,84.1 827.7,87.0 C826.7,89.9 825.8,92.3 824.3,95.4 C822.8,98.5 820.2,102.4 818.4,105.5 C816.6,108.6 814.6,110.8 813.4,113.9 C812.1,117.0 811.2,120.9 810.9,123.9 C810.5,126.9 810.9,129.6 811.3,132.0 C811.7,134.4 811.8,135.6 813.5,138.5 C815.2,141.4 821.1,146.2 821.8,149.3 C822.5,152.4 818.2,153.4 817.6,156.9 C817.0,160.4 818.3,165.3 818.4,170.3 C818.5,175.3 818.7,182.7 818.4,187.0 C818.1,191.3 817.5,193.8 816.5,196.0 C815.5,198.2 814.0,198.4 812.3,200.0 C810.5,201.6 808.2,203.3 806.0,205.6 C803.8,207.9 801.4,211.2 799.1,214.0 C796.8,216.8 794.2,219.9 792.1,222.3 C790.0,224.7 787.7,226.7 786.5,228.6 C785.3,230.5 785.0,231.5 785.1,233.5 C785.2,235.5 786.5,237.9 787.2,240.5 C788.0,243.1 789.2,246.6 789.6,248.8 C790.0,251.0 789.8,251.8 789.3,253.7 C788.8,255.6 786.5,258.5 786.5,260.0 C786.5,261.5 787.4,261.8 789.3,262.8 C791.2,263.9 795.4,265.2 797.7,266.3 C800.0,267.4 803.3,268.2 803.3,269.3 C803.3,270.4 800.3,271.6 797.7,272.6 C795.1,273.6 791.2,274.4 787.9,275.3 C784.6,276.2 780.5,277.1 778.1,278.1 C775.7,279.2 774.4,280.2 773.3,281.6 C772.1,283.0 771.9,284.9 771.2,286.5 C770.5,288.1 770.0,289.7 768.9,291.1 C767.8,292.6 766.1,294.0 764.8,295.2 C763.4,296.4 763.1,296.7 760.8,298.2 C758.4,299.7 754.1,302.3 750.7,304.3 C747.3,306.3 743.6,308.5 740.6,310.3 C737.6,312.1 735.2,313.6 732.5,315.4 C729.8,317.2 726.8,319.6 724.4,321.0 C722.0,322.4 721.0,322.8 718.3,323.5 C715.6,324.2 711.9,324.8 708.2,325.5 C704.5,326.2 698.1,327.2 696.1,327.5" fill="none" stroke="#d40000" stroke-width="3" stroke-linejoin="round" stroke-linecap="round"/>
<path d="M1119.0,236.0 C1118.6,236.4 1117.2,237.5 1116.4,238.6 C1115.6,239.7 1114.4,240.7 1114.1,242.3 C1113.8,243.9 1114.5,245.8 1114.5,248.0 C1114.5,250.2 1114.3,253.2 1113.8,255.3 C1113.2,257.4 1112.3,259.2 1111.2,260.6 C1110.1,262.0 1108.4,262.8 1107.0,263.7 C1105.6,264.6 1104.2,265.2 1102.8,266.3 C1101.4,267.4 1100.0,269.4 1098.6,270.5 C1097.2,271.6 1096.8,272.3 1094.4,273.1 C1092.0,273.9 1087.5,274.6 1084.0,275.4 C1080.5,276.2 1076.7,276.9 1073.5,277.8 C1070.3,278.7 1067.4,279.9 1065.1,281.0 C1062.8,282.1 1061.1,283.4 1059.9,284.6 C1058.7,285.8 1057.9,286.9 1058.1,288.3 C1058.3,289.7 1059.9,291.5 1060.9,293.1 C1061.9,294.8 1063.3,296.3 1063.9,298.2 C1064.5,300.1 1064.4,302.1 1064.4,304.3 C1064.4,306.5 1064.2,309.6 1063.9,311.3 C1063.6,313.0 1063.6,313.5 1062.4,314.4 C1061.2,315.3 1059.6,316.1 1056.8,316.9 C1054.0,317.6 1050.1,318.2 1045.7,318.9 C1041.3,319.6 1035.6,320.3 1030.6,321.0 C1025.5,321.7 1020.5,322.3 1015.4,323.0 C1010.3,323.7 1004.9,324.3 1000.2,325.0 C995.5,325.7 989.3,326.7 987.1,327.0" fill="none" stroke="#ff7f0e" stroke-width="3.2" stroke-linejoin="round" stroke-linecap="round"/>
<path d="M850.3,28.4 C849.9,32.0 848.6,42.9 847.8,50.2 C846.9,57.5 846.1,64.8 845.2,72.0 C844.4,79.2 843.5,86.5 842.7,93.7 C841.9,101.0 841.0,108.2 840.2,115.5 C839.4,122.8 838.5,131.0 837.7,137.3 C836.9,143.6 836.0,148.0 835.2,153.5 C834.4,159.0 833.5,164.7 832.7,170.3 C831.9,175.9 831.1,181.4 830.2,187.0 C829.3,192.6 828.1,198.2 827.1,203.8 C826.1,209.4 825.2,214.5 824.3,220.6 C823.4,226.7 822.5,235.0 821.5,240.2 C820.5,245.4 819.6,247.8 818.6,252.0 C817.6,256.2 816.8,261.6 815.8,265.6 C814.8,269.6 813.7,272.7 812.5,276.0 C811.3,279.3 810.4,281.5 808.5,285.5 C806.6,289.5 804.1,296.2 801.2,300.2 C798.3,304.2 795.3,306.7 791.1,309.3 C786.9,311.9 781.0,314.1 775.9,315.9 C770.8,317.7 766.3,318.7 760.8,319.9 C755.2,321.1 748.0,322.2 742.6,323.0 C737.2,323.8 733.3,323.9 728.4,324.5 C723.5,325.1 718.7,325.8 713.3,326.3 C707.9,326.8 699.0,327.3 696.1,327.5" fill="none" stroke="#000" stroke-width="1.75" stroke-dasharray="7 7.6"/>
<path d="M1141.3,28.2 C1140.9,31.8 1139.6,42.7 1138.8,50.0 C1138.0,57.3 1137.0,64.5 1136.2,71.8 C1135.4,79.0 1134.5,86.2 1133.7,93.5 C1132.9,100.8 1132.0,108.0 1131.2,115.3 C1130.4,122.6 1129.5,130.8 1128.7,137.1 C1127.9,143.4 1127.0,147.8 1126.2,153.3 C1125.4,158.8 1124.5,164.5 1123.7,170.1 C1122.9,175.7 1122.1,181.2 1121.2,186.8 C1120.3,192.4 1119.1,198.0 1118.1,203.6 C1117.1,209.2 1116.2,214.3 1115.3,220.4 C1114.4,226.5 1113.5,234.8 1112.5,240.0 C1111.5,245.2 1110.5,247.6 1109.6,251.8 C1108.6,256.0 1107.8,261.4 1106.8,265.4 C1105.8,269.4 1104.7,272.5 1103.5,275.8 C1102.3,279.1 1101.4,281.3 1099.5,285.3 C1097.6,289.3 1095.1,296.0 1092.2,300.0 C1089.3,304.0 1086.3,306.5 1082.1,309.1 C1077.9,311.7 1072.0,313.9 1066.9,315.7 C1061.9,317.5 1057.3,318.5 1051.8,319.7 C1046.2,320.9 1039.0,322.0 1033.6,322.8 C1028.2,323.6 1024.3,323.8 1019.4,324.3 C1014.5,324.9 1009.7,325.6 1004.3,326.1 C998.9,326.6 990.0,327.1 987.1,327.3" fill="none" stroke="#000" stroke-width="1.75" stroke-dasharray="7 7.6"/>

<!-- text: left panels -->
<text x="3.2" y="23.9" style="font-size:29px">(<tspan class="i" dx="0.5">a</tspan><tspan dx="1">)</tspan></text>
<text x="57.5" y="22" class="n">0.6</text>
<text x="57.5" y="79" class="n">0.4</text>
<text x="57.5" y="136" class="n">0.2</text>
<text x="76.5" y="212.5" class="n">0</text>
<text x="195.5" y="212.5" class="n">0.4</text>
<text x="312" y="212.5" class="n">0.8</text>
<text x="429" y="212.5" class="n">1.2</text>
<text x="533" y="212.5" class="n">1.6</text>

<text x="3" y="238.5" style="font-size:29px">(<tspan class="i">b</tspan>)</text>
<text x="57.5" y="243" class="n">0.6</text>
<text x="57.5" y="300.5" class="n">0.4</text>
<text x="57.5" y="358" class="n">0.2</text>
<text x="76.5" y="436.5" class="n">0</text>
<text x="195.5" y="436.5" class="n">0.4</text>
<text x="312" y="436.5" class="n">0.8</text>
<text x="429" y="436.5" class="n">1.2</text>
<text x="533" y="436.5" class="n">1.6</text>

<text x="4.9" y="469.5" style="font-size:29px">(<tspan class="i" dx="1">c</tspan><tspan dx="1.6">)</tspan></text>
<text x="57.5" y="473.3" class="n">0.6</text>
<text x="57.5" y="531" class="n">0.4</text>
<text x="57.5" y="588.6" class="n">0.2</text>
<text x="76.5" y="667" class="n">0</text>
<text x="195.5" y="667" class="n">0.4</text>
<text x="312" y="667" class="n">0.8</text>
<text x="429" y="667" class="n">1.2</text>
<text x="533" y="667" class="n">1.6</text>

<!-- text: right panels -->
<text x="607" y="34.5" style="font-size:29px">(<tspan class="i">e</tspan>)</text>
<text x="656" y="31.9" class="n">0.4</text>
<text x="656" y="107.7" class="n">0.3</text>
<text x="656" y="183.5" class="n">0.2</text>
<text x="656" y="259.3" class="n">0.1</text>
<text x="675" y="355.3" class="n">0</text>
<text x="771" y="355.3" class="n">0.5</text>
<text x="867.8" y="355.3" class="n" letter-spacing="-0.4">1.0</text>

<text x="902.8" y="34.3" style="font-size:29px">(</text><text transform="translate(913.3,34.3) scale(1.35,1)" x="0" y="0" style="font-size:29px;font-style:italic">f</text><text x="930.2" y="34.3" style="font-size:29px">)</text>
<text x="945.5" y="33.6" class="n">0.4</text>
<text x="945.5" y="109.6" class="n">0.3</text>
<text x="945.5" y="185.5" class="n">0.2</text>
<text x="945.5" y="261.4" class="n">0.1</text>
<text x="964" y="355.3" class="n">0</text>
<text x="1066" y="355.3" class="n">0.5</text>
<text x="1154.8" y="355.3" class="n" letter-spacing="-0.4">1.0</text>

<text x="606" y="459" style="font-size:29px">(<tspan class="i">d</tspan>)</text>
<text x="657" y="457" class="n">0.6</text>
<text x="657" y="514.9" class="n">0.4</text>
<text x="657" y="572.8" class="n">0.2</text>
<text x="676" y="650" class="n">0</text>
<text x="794.5" y="650" class="n">0.4</text>
<text x="911" y="650" class="n">0.8</text>
<text x="1027.5" y="650" class="n">1.2</text>
<text x="1143" y="650" class="n">1.6</text>


<!-- y/delta labels -->
<g class="ylab">
<text x="1.8" y="98.5" class="lab">y</text><line x1="25.3" y1="78.3" x2="15.8" y2="103.2" stroke="#000" stroke-width="1.7"/><text transform="translate(27.7,98.5) scale(0.88,1)" class="lab">δ</text>
<text x="1.8" y="319.6" class="lab">y</text><line x1="25.3" y1="299.4" x2="15.8" y2="324.3" stroke="#000" stroke-width="1.7"/><text transform="translate(27.7,319.6) scale(0.88,1)" class="lab">δ</text>
<text x="1.8" y="558.5" class="lab">y</text><line x1="25.3" y1="538.3" x2="15.8" y2="563.2" stroke="#000" stroke-width="1.7"/><text transform="translate(27.7,558.5) scale(0.88,1)" class="lab">δ</text>
<text x="604.3" y="544" class="lab">y</text><line x1="627.9" y1="523.8" x2="618.6" y2="548.9" stroke="#000" stroke-width="1.7"/><text transform="translate(630,544) scale(0.88,1)" class="lab">δ</text>
<text x="599.3" y="183.5" class="lab">y</text><line x1="622.9" y1="163.6" x2="613.6" y2="188.6" stroke="#000" stroke-width="1.7"/><text transform="translate(625,183.5) scale(0.88,1)" class="lab">δ</text>
</g>
<!-- l_x/delta -->
<text x="302" y="704" class="lab">l</text><text x="311" y="708.7" style="font-size:20px;font-style:italic">x</text><line x1="331.5" y1="684.4" x2="322.3" y2="709.4" stroke="#000" stroke-width="1.7"/><text transform="translate(334,704.3) scale(0.88,1)" class="lab">δ</text>
<text x="903.8" y="685.3" class="lab">l</text><text x="912.8" y="690" style="font-size:20px;font-style:italic">x</text><line x1="933.3" y1="665.7" x2="924.1" y2="690.7" stroke="#000" stroke-width="1.7"/><text transform="translate(935.8,685.6) scale(0.88,1)" class="lab">δ</text>
<!-- U/Uinf -->
<text x="750" y="397.7" style="font-size:31px;font-style:italic">U</text><line x1="783.8" y1="377.7" x2="774.3" y2="402.9" stroke="#000" stroke-width="1.7"/><text x="785.8" y="397.7" style="font-size:31px;font-style:italic">U</text><text transform="translate(807.6,404.4) scale(0.97,0.88)" style="font-size:29px">∞</text>
<text x="1040" y="397.7" style="font-size:31px;font-style:italic">U</text><line x1="1073.8" y1="377.7" x2="1064.3" y2="402.9" stroke="#000" stroke-width="1.7"/><text x="1075.8" y="397.7" style="font-size:31px;font-style:italic">U</text><text transform="translate(1097.6,404.4) scale(0.97,0.88)" style="font-size:29px">∞</text>

</svg>
</body></html>
